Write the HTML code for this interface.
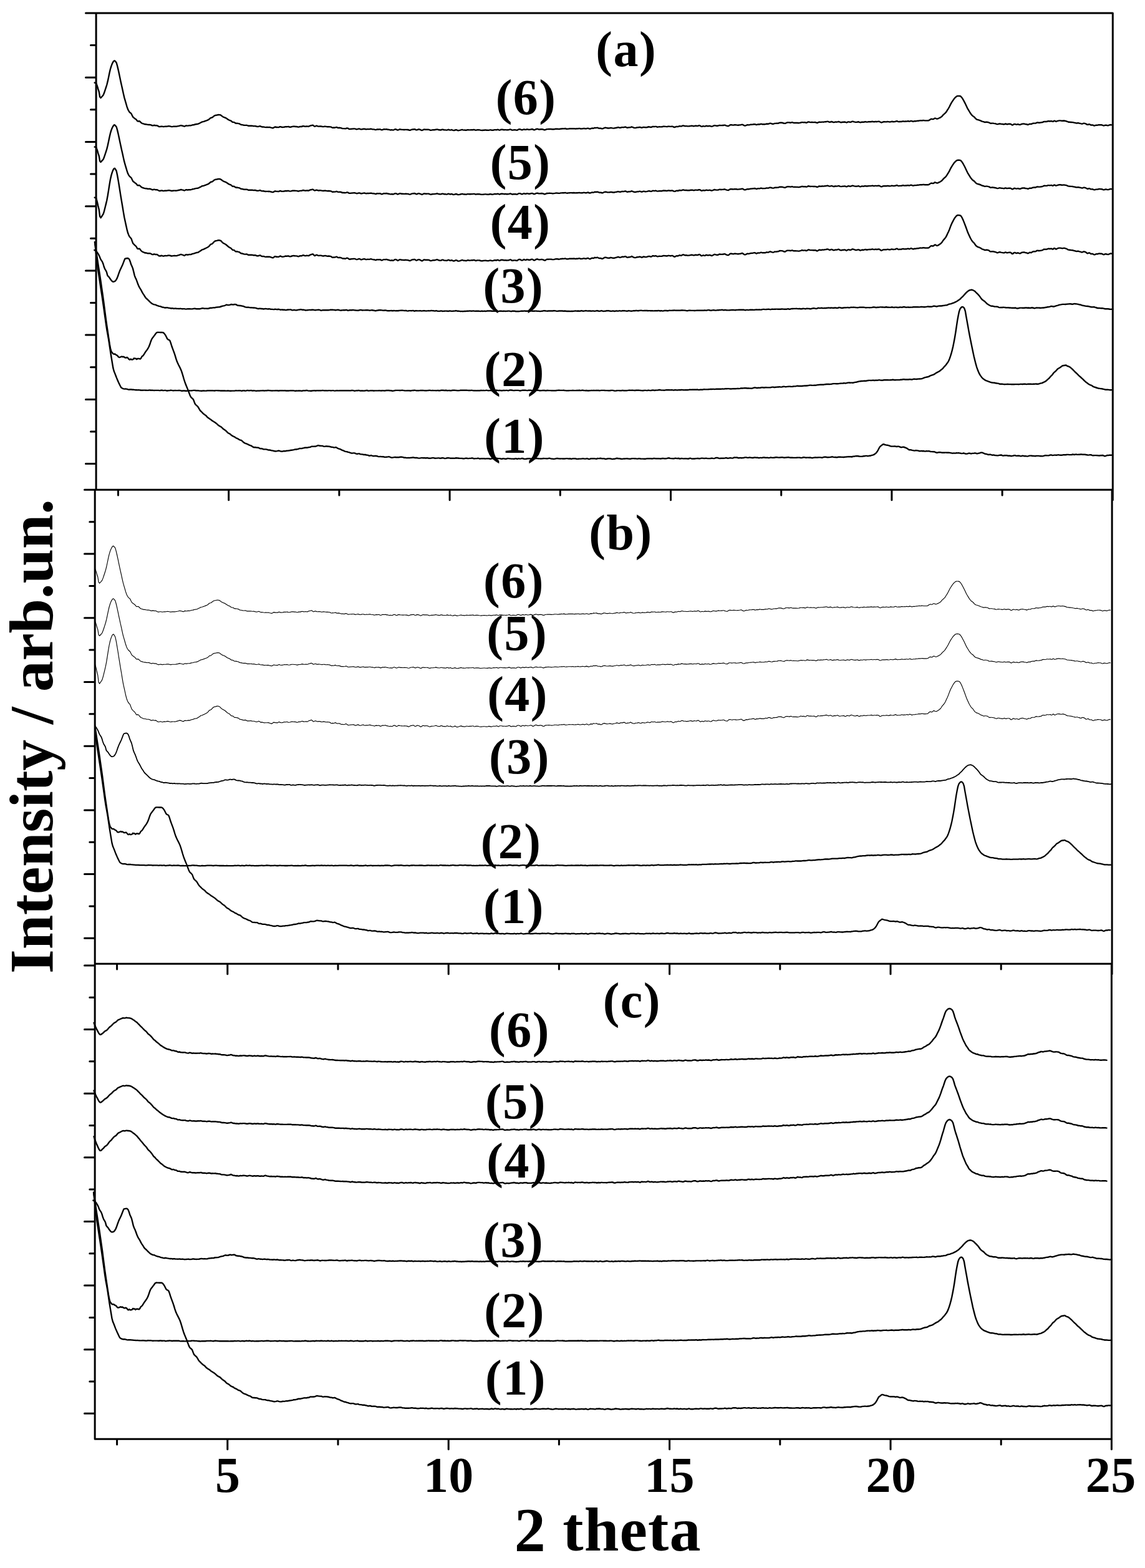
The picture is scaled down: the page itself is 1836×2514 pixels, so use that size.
<!DOCTYPE html>
<html lang="en"><head><meta charset="utf-8"><title>Intensity / arb.un. - 2 theta</title>
<style>html,body{margin:0;padding:0;background:#fff}body{width:1836px;height:2514px;overflow:hidden}svg{display:block}text{font-family:"Liberation Serif",serif;font-weight:bold;fill:#000;text-anchor:middle}.l{font-size:80px;letter-spacing:1.5px}.t{font-size:80px;letter-spacing:0.4px}.ax{stroke:#000;stroke-width:3;stroke-linecap:round;fill:none}.c{stroke:#000;fill:none;stroke-linejoin:round;stroke-linecap:round}</style></head><body>
<svg width="1836" height="2514" viewBox="0 0 1836 2514">
<rect width="1836" height="2514" fill="#fff"/>
<path class="ax" d="M154.1 21.0V785.3M137.5 21.0H1784.3M1784.3 21.0V801.7M135.5 785.3H1784.3M152.2 785.3V1545.3M1783.1 785.3V1561.7M152.2 1545.3H1783.1M152.15 1545.3V2307.3M1782.4 1545.3V2323.7M152.15 2307.3H1782.4M145.5 72.6H154.1M137.5 124.2H154.1M145.5 175.8H154.1M137.5 227.5H154.1M145.5 279.1H154.1M137.5 330.7H154.1M145.5 382.3H154.1M137.5 433.9H154.1M145.5 485.5H154.1M137.5 537.1H154.1M145.5 588.8H154.1M137.5 640.4H154.1M145.5 692.0H154.1M137.5 743.6H154.1M143.8 836.7H152.2M135.5 888.0H152.2M143.8 939.4H152.2M135.5 990.7H152.2M143.8 1042.1H152.2M135.5 1093.5H152.2M143.8 1144.8H152.2M135.5 1196.2H152.2M143.8 1247.5H152.2M135.5 1298.9H152.2M143.8 1350.3H152.2M135.5 1401.6H152.2M143.8 1453.0H152.2M135.5 1504.3H152.2M135.5 1547.9H152.15M143.8 1599.2H152.15M135.5 1650.5H152.15M143.8 1701.8H152.15M135.5 1753.2H152.15M143.8 1804.5H152.15M135.5 1855.8H152.15M143.8 1907.1H152.15M135.5 1958.4H152.15M143.8 2009.7H152.15M135.5 2061.1H152.15M143.8 2112.4H152.15M135.5 2163.7H152.15M143.8 2215.0H152.15M135.5 2266.3H152.15M189.5 785.3v8.7M366.7 785.3v16.4M543.9 785.3v8.7M721.1 785.3v16.4M898.3 785.3v8.7M1075.5 785.3v16.4M1252.7 785.3v8.7M1429.9 785.3v16.4M1607.1 785.3v8.7M187.6 1545.3v8.7M364.8 1545.3v16.4M542.0 1545.3v8.7M719.2 1545.3v16.4M896.4 1545.3v8.7M1073.6 1545.3v16.4M1250.8 1545.3v8.7M1428.0 1545.3v16.4M1605.2 1545.3v8.7M187.6 2307.3v8.7M364.8 2307.3v16.4M542.0 2307.3v8.7M719.2 2307.3v16.4M896.4 2307.3v8.7M1073.6 2307.3v16.4M1250.8 2307.3v8.7M1428.0 2307.3v16.4M1605.2 2307.3v8.7"/>
<g class="c" stroke-width="2.4">
<path d="M151.7 132.6l1.4 .4 1.4 .9 1.4 3.9 1.4 4.8 1.4 4.3 1.4 8.4 1.4 1.7 1.4-1.5 1.4-1.5 1.4-1.7 1.4-3.5 1.4-4.1 1.4-4.3 1.4-4.4 1.4-5.6 1.4-6.5 1.4-6.8 1.4-6.1 1.4-4.7 1.4-3.7 1.4-2.8 1.4-2 1.4-.5 1.4 1.5 1.4 1.8 1.4 4.9 1.4 5.9 1.4 6.4 1.4 6.8 1.4 6.6 1.4 6.3 1.4 6.2 1.4 6.5 1.4 6.1 1.4 4.9 1.4 4.8 1.4 4.8 1.4 4.1 1.4 2.8 1.4 2.1 1.4 1.2 1.4 1.2 1.4 2.9 1.4 2.7 1.4 1.1 1.4 1.1 1.4 .9 1.4 1.3 1.4 1.9 1.4 .4 1.4-.4 1.4 .8 1.4 1.5 1.4 1.1 1.4 .6 1.4 .3 1.4 .6 1.4 .3 1.4 0 1.4 .3 1.4 .3 1.4 .1 1.4-.1 1.4 .2 1.4 .6 1.4 .6 1.4 0 1.4-.5 1.4 .2 1.4 .4 1.4-.2 1.4 .4 1.4 .8 1.4 .7 1.4 0 1.4-.4 1.4-.1 1.4 .3 1.4 .3 1.4-.3 1.4-.2 1.4 .1 1.4-.1 1.4-.3 1.4-.1 1.4 .1 1.4 .3 1.4 .4 1.4 0 1.4-.3 1.4-.1 1.4 0 1.4 .1 1.4-.1 1.4-.3 1.4-.3 1.4-.2 1.4-.5 1.4-.3 1.4 .4 1.4 .2 1.4 .6 1.4 .3 1.4-.8 1.4-.5 1.4 .3 1.4 0 1.4-.3 1.4-.1 1.4 .1 1.4-.4 1.4-.5 1.4-.2 1.4-.2 1.4-.5 1.4-.3 1.4-.2 1.4-.1 1.4-.5 1.4-.7 1.4-.7 1.4-.7 1.4-.9 1.4-.2 1.4-.3 1.4-.6 1.4-.4 1.4-.6 1.4-.5 1.4-.6 1.4-.8 1.4-1.3 1.4-1.2 1.4-.2 1.4-.5 1.4-1.3 1.4-1.1 1.4-.7 1.4-.4 1.4-.1 1.4-.4 1.4-.2 1.4 .1 1.4 .2 1.4 .8 1.4 1.2 1.4 .9 1.4 .7 1.4 .6 1.4 .4 1.4 .9 1.4 .9 1.4 1 1.4 .8 1.4 .6 1.4 .4 1.4 1.2 1.4 1.1 1.4 .1 1.4 .2 1.4 1.1 1.4 .6 1.4-.2 1.4 .3 1.4 .3 1.4 .3 1.4 .9 1.4 .6 1.4 .1 1.4 .3 1.4 .4 1.4 .1 1.4 0 1.4-.1 1.4 .3 1.4 .7 1.4 0 1.4 0 1.4 0 1.4-.1 1.4 .2 1.4 .3 1.4-.1 1.4 0 1.4 .4 1.4 .4 1.4 .1 1.4-.3 1.4-.4 1.4 .1 1.4 .8 1.4 .3 1.4-.1 1.4 .2 1.4 .3 1.4 .2 1.4-.1 1.4 0 1.4 .1 1.4-.2 1.4 .3 1.4 .4 1.4 .3 1.4 .4 1.4-.4 1.4-1.1 1.4-.3 1.4 .5 1.4 0 1.4 .1 1.4 0 1.4-.8 1.4-.2 1.4 .7 1.4 .2 1.4-.1 1.4-.1 1.4-.5 1.4-.2 1.4 .2 1.4-.2 1.4-.1 1.4 .5 1.4 .2 1.4-.2 1.4-.4 1.4-.3 1.4-.1 1.4 .1 1.4 .2 1.4 0 1.4 .2 1.4 .4 1.4 0 1.4-.6 1.4 0 1.4 0 1.4-.5 1.4-.4 1.4 .3 1.4 .4 1.4-.1 1.4-.2 1.4 .1 1.4 .2 1.4-.6 1.4-.7 1.4-.1 1.4-.5 1.4-.2 1.4 1.1 1.4 .9 1.4-.4 1.4-.6 1.4 .3 1.4 .6 1.4 0 1.4-.2 1.4 .1 1.4 .2 1.4 .3 1.4 .1 1.4-.3 1.4-.1 1.4 .2 1.4 .3 1.4 .1 1.4-.2 1.4 .2 1.4 .1 1.4 .3 1.4 .9 1.4 .3 1.4-.4 1.4 .2 1.4-.3 1.4-.5 1.4 .6 1.4 .5 1.4 0 1.4-.2 1.4 .3 1.4 .5 1.4 .5 1.4 0 1.4 0 1.4 .2 1.4-.3 1.4-.5 1.4 .1 1.4 1 1.4 .4 1.4-.1 1.4-.2 1.4-.1 1.4-.1 1.4-.1 1.4 0 1.4 .4 1.4 .5 1.4-.2 1.4-.4 1.4-.3 1.4 .4 1.4 .6 1.4 0 1.4-.4 1.4-.3 1.4-.1 1.4 .4 1.4 .4 1.4-.3 1.4-.1 1.4 .1 1.4-.1 1.4-.3 1.4 .1 1.4 .4 1.4 .2 1.4 0 1.4 .4 1.4 .3 1.4-.5 1.4-.3 1.4 .2 1.4-.1 1.4-.1 1.4 .6 1.4 .5 1.4-.5 1.4-.6 1.4 0 1.4 .1 1.4-.3 1.4 .2 1.4 .5 1.4 0 1.4 .4 1.4 .3 1.4-.3 1.4 .2 1.4 .2 1.4-.6 1.4-.7 1.4-.1 1.4 .7 1.4 .7 1.4-.3 1.4-.8 1.4-.2 1.4 .3 1.4 .3 1.4 0 1.4 .1 1.4 0 1.4-.1 1.4 0 1.4 .1 1.4 0 1.4 .5 1.4 .3 1.4-.3 1.4-.7 1.4-.3 1.4 0 1.4-.4 1.4 .2 1.4 .9 1.4 .2 1.4-.6 1.4-.5 1.4 .2 1.4 .4 1.4 .7 1.4 .4 1.4-.6 1.4-.8 1.4-.1 1.4 .3 1.4 0 1.4-.1 1.4 0 1.4 .2 1.4 .6 1.4 .4 1.4-.3 1.4-.3 1.4-.1 1.4 0 1.4-.2 1.4-.2 1.4-.4 1.4 .2 1.4 .6 1.4 .1 1.4 .2 1.4-.2 1.4-.6 1.4 0 1.4 .6 1.4 .1 1.4 0 1.4 .3 1.4-.3 1.4-.6 1.4 .2 1.4 .6 1.4-.2 1.4-.4 1.4 .7 1.4 .4 1.4-.1 1.4-.5 1.4-.4 1.4 .4 1.4 .7 1.4 0 1.4-.3 1.4-.3 1.4-.4 1.4-.3 1.4 .4 1.4 .3 1.4-.1 1.4 .3 1.4-.1 1.4-.5 1.4 0 1.4 .2 1.4 0 1.4-.1 1.4-.1 1.4 0 1.4-.2 1.4 0 1.4 .6 1.4 .1 1.4-.4 1.4 0 1.4 0 1.4 .1 1.4 .3 1.4 .2 1.4 .1 1.4-.2 1.4-.1 1.4-.2 1.4 0 1.4 .2 1.4 .1 1.4 .1 1.4-.3 1.4-.3 1.4 .1 1.4 .4 1.4 0 1.4-.3 1.4-.4 1.4 0 1.4 .2 1.4-.3 1.4-.3 1.4 .7 1.4 .3 1.4-.7 1.4-.3 1.4 .1 1.4 .2 1.4 .3 1.4-.2 1.4 0 1.4 .3 1.4-.1 1.4-.1 1.4-.3 1.4-.5 1.4 .4 1.4 .8 1.4 0 1.4-.3 1.4 0 1.4 0 1.4 .3 1.4 .1 1.4-.8 1.4-.7 1.4 0 1.4 .4 1.4 .7 1.4 0 1.4-.7 1.4-.3 1.4 .6 1.4 0 1.4-.6 1.4 .1 1.4 .4 1.4 .1 1.4-.3 1.4-.3 1.4-.3 1.4 .4 1.4 .8 1.4 0 1.4-.7 1.4-.5 1.4-.3 1.4 .4 1.4 .4 1.4 0 1.4-.2 1.4-.2 1.4 .2 1.4 .4 1.4 .6 1.4 0 1.4-.7 1.4-.5 1.4 0 1.4-.1 1.4-.1 1.4 .1 1.4 0 1.4 .3 1.4 0 1.4-.1 1.4-.2 1.4-.3 1.4-.1 1.4 .1 1.4 .2 1.4 .1 1.4-.2 1.4-.3 1.4 0 1.4-.2 1.4 .1 1.4-.1 1.4-.3 1.4 .5 1.4 .3 1.4-.2 1.4-.1 1.4-.2 1.4-.1 1.4 0 1.4 .1 1.4 0 1.4-.2 1.4 .3 1.4 .1 1.4-.2 1.4 0 1.4-.1 1.4-.3 1.4 .3 1.4 .3 1.4-.1 1.4-.1 1.4-.4 1.4 .1 1.4 .3 1.4 .1 1.4-.5 1.4-.3 1.4 .5 1.4 .5 1.4-.1 1.4-.7 1.4-.3 1.4 .3 1.4-.4 1.4-.6 1.4 .3 1.4-.2 1.4-.1 1.4 .5 1.4 .5 1.4-.1 1.4 .1 1.4 .6 1.4-.1 1.4-.7 1.4-.6 1.4-.3 1.4 .2 1.4 .4 1.4 .2 1.4 0 1.4-.1 1.4-.4 1.4 .1 1.4 .3 1.4 .2 1.4 0 1.4-.4 1.4-.2 1.4-.2 1.4-.5 1.4-.1 1.4 .5 1.4 .2 1.4-.4 1.4-.4 1.4 0 1.4 .1 1.4-.4 1.4-.3 1.4 .7 1.4 .6 1.4-.2 1.4-.3 1.4 .1 1.4-.3 1.4-.7 1.4 .4 1.4 .7 1.4 .4 1.4 .2 1.4-.2 1.4-.4 1.4-.1 1.4-.1 1.4-.4 1.4 .1 1.4 .6 1.4 .1 1.4-.6 1.4-.3 1.4 .3 1.4 .2 1.4-.1 1.4-.2 1.4-.5 1.4-.2 1.4 .3 1.4 .4 1.4-.2 1.4-.8 1.4-.1 1.4 .3 1.4-.3 1.4 0 1.4 .6 1.4 .2 1.4-.3 1.4-.1 1.4 .1 1.4 0 1.4-.1 1.4-.5 1.4-.2 1.4 .2 1.4 .1 1.4 .2 1.4-.1 1.4-.4 1.4 0 1.4 .3 1.4 0 1.4-.3 1.4 .1 1.4 .8 1.4 .5 1.4-.2 1.4-.8 1.4-.1 1.4 .2 1.4-.5 1.4-.5 1.4 .3 1.4 .1 1.4-.6 1.4-.5 1.4 .3 1.4 .5 1.4-.1 1.4 0 1.4 .3 1.4 0 1.4-.1 1.4-.2 1.4-.2 1.4-.2 1.4 .2 1.4 .4 1.4-.2 1.4-.4 1.4 0 1.4 .3 1.4-.1 1.4-.6 1.4-.1 1.4 .8 1.4 .9 1.4-.2 1.4-.6 1.4 .3 1.4 .2 1.4-.6 1.4-.2 1.4 .4 1.4 0 1.4-.3 1.4 .1 1.4 .6 1.4 .1 1.4-.4 1.4-.7 1.4-.5 1.4 .3 1.4 .3 1.4 0 1.4 0 1.4-.5 1.4-.4 1.4 .3 1.4 0 1.4-.1 1.4 0 1.4-.4 1.4 0 1.4 .7 1.4 .4 1.4 .3 1.4 .1 1.4-.9 1.4-.9 1.4-.1 1.4 .1 1.4 .3 1.4-.1 1.4-.3 1.4 .1 1.4 .1 1.4 .2 1.4 .1 1.4-.2 1.4-.1 1.4-.2 1.4-.3 1.4-.2 1.4 .7 1.4 .9 1.4 .2 1.4-.4 1.4-.6 1.4-.3 1.4 .2 1.4-.2 1.4-.4 1.4-.1 1.4-.1 1.4-.1 1.4-.2 1.4-.2 1.4 .4 1.4 .6 1.4-.4 1.4-.4 1.4 .2 1.4-.2 1.4-.5 1.4 .1 1.4 .4 1.4-.1 1.4 0 1.4 0 1.4-.4 1.4-.3 1.4 .2 1.4-.1 1.4-.7 1.4-.2 1.4 .4 1.4 .4 1.4 .3 1.4-.4 1.4-.5 1.4 0 1.4-.1 1.4-.1 1.4 0 1.4-.6 1.4-.4 1.4 .1 1.4 0 1.4 .2 1.4 .5 1.4 .3 1.4 .1 1.4-.7 1.4-.7 1.4-.1 1.4 0 1.4 .1 1.4 .3 1.4-.4 1.4-.2 1.4 .5 1.4 .3 1.4-.1 1.4 .1 1.4 0 1.4 0 1.4 .2 1.4-.1 1.4-.2 1.4-.4 1.4-.4 1.4 0 1.4 .3 1.4-.2 1.4 .1 1.4 .5 1.4-.3 1.4-.9 1.4-.2 1.4 .5 1.4 .2 1.4-.1 1.4 0 1.4 .1 1.4 0 1.4-.1 1.4 .2 1.4 .7 1.4 .1 1.4-.9 1.4-.5 1.4 .2 1.4 .1 1.4-.3 1.4 0 1.4 .1 1.4-.3 1.4-.1 1.4-.1 1.4-.4 1.4 .1 1.4 .6 1.4 .3 1.4-.3 1.4-.5 1.4 .4 1.4 .7 1.4 0 1.4-.5 1.4-.1 1.4 .2 1.4-.3 1.4-.4 1.4 .4 1.4 .6 1.4 .2 1.4-.2 1.4-.2 1.4-.1 1.4-.2 1.4 .3 1.4 .7 1.4-.4 1.4-.7 1.4 0 1.4 .4 1.4 .1 1.4-.7 1.4-.5 1.4 .3 1.4 .4 1.4 .3 1.4 .2 1.4 0 1.4-.4 1.4-.2 1.4 .6 1.4 .5 1.4-.4 1.4-.4 1.4 .1 1.4 .1 1.4-.5 1.4-.1 1.4 .4 1.4 0 1.4-.3 1.4-.1 1.4 0 1.4 0 1.4-.2 1.4-.2 1.4 .4 1.4 .1 1.4-.3 1.4 0 1.4 .2 1.4-.3 1.4-.1 1.4 .2 1.4 .8 1.4 .7 1.4-.3 1.4-.7 1.4-.2 1.4 0 1.4 .1 1.4 0 1.4-.4 1.4 .1 1.4 .3 1.4 .1 1.4-.3 1.4-.4 1.4 .2 1.4 .2 1.4-.1 1.4-.1 1.4-.6 1.4-.3 1.4 .8 1.4 .3 1.4-.2 1.4 0 1.4 0 1.4-.4 1.4-.3 1.4 .3 1.4 .1 1.4-.2 1.4 .1 1.4-.3 1.4-.1 1.4 .5 1.4-.4 1.4-.5 1.4 .3 1.4 .6 1.4 0 1.4-.5 1.4 0 1.4 0 1.4-.3 1.4-.1 1.4-.1 1.4-.3 1.4-.1 1.4 .1 1.4-.1 1.4-.3 1.4 .1 1.4 .3 1.4 0 1.4 0 1.4 0 1.4-.1 1.4-.6 1.4-1.1 1.4-.7 1.4-.1 1.4 .4 1.4-.3 1.4-1.3 1.4 0 1.4 .7 1.4 .3 1.4-.4 1.4-.7 1.4-.6 1.4-.8 1.4-.9 1.4-1.4 1.4-1.7 1.4-1.3 1.4-1.2 1.4-1.4 1.4-2 1.4-2.3 1.4-2.1 1.4-2.6 1.4-2.8 1.4-2.7 1.4-2.3 1.4-2.1 1.4-2.1 1.4-1.8 1.4-1.4 1.4-1.2 1.4-.8 1.4-.1 1.4 0 1.4 .1 1.4 .5 1.4 1.5 1.4 1.9 1.4 2.4 1.4 2.6 1.4 2.7 1.4 2.9 1.4 3 1.4 2.9 1.4 2.3 1.4 2.3 1.4 2.3 1.4 1.9 1.4 1.7 1.4 1.3 1.4 .8 1.4 1.4 1.4 1.6 1.4 1.2 1.4 .7 1.4 .3 1.4 .4 1.4 .5 1.4 .5 1.4 .8 1.4 .5 1.4 .2 1.4 .7 1.4 .2 1.4-.3 1.4 0 1.4 .3 1.4 .2 1.4 .8 1.4 .8 1.4-.1 1.4-.1 1.4 0 1.4 .3 1.4 .2 1.4 .2 1.4 .5 1.4 .4 1.4-.3 1.4-.4 1.4-.1 1.4 .3 1.4 .2 1.4 .1 1.4 .3 1.4-.1 1.4-.7 1.4 .2 1.4 .6 1.4-.3 1.4-.2 1.4 0 1.4 0 1.4 .8 1.4 .9 1.4-.4 1.4-1 1.4-.2 1.4 .5 1.4 .3 1.4-.4 1.4 0 1.4 .6 1.4 .1 1.4-.6 1.4-.6 1.4-.2 1.4-.1 1.4 .1 1.4 .5 1.4 .1 1.4 .3 1.4 .5 1.4-.6 1.4-.7 1.4 .2 1.4 0 1.4-.8 1.4-.4 1.4-.1 1.4 0 1.4 0 1.4-.9 1.4-.3 1.4 .3 1.4 0 1.4 0 1.4-.3 1.4-.1 1.4-.4 1.4-.8 1.4-.2 1.4 .1 1.4 0 1.4-.2 1.4-.6 1.4 0 1.4 .3 1.4-.3 1.4-.1 1.4 .7 1.4-.1 1.4-1.1 1.4 .4 1.4 .8 1.4-.3 1.4-.6 1.4-.3 1.4-.2 1.4 0 1.4 .2 1.4 .2 1.4-.1 1.4-.2 1.4 .2 1.4 .3 1.4 .3 1.4 .5 1.4 .7 1.4 .2 1.4 .1 1.4 .2 1.4 0 1.4 .1 1.4 .3 1.4 .3 1.4 .2 1.4 .5 1.4 .1 1.4-.3 1.4 .1 1.4 .4 1.4 .2 1.4 .4 1.4 .3 1.4-.4 1.4-.5 1.4 .2 1.4 .4 1.4 .8 1.4 .8 1.4-.1 1.4-.6 1.4 .4 1.4 .9 1.4 0 1.4-.1 1.4 .6 1.4 .5 1.4-.3 1.4-.5 1.4 0 1.4-.1 1.4-.4 1.4-.1 1.4 .1 1.4 .1 1.4 .2 1.4 .7 1.4 .3 1.4-.6 1.4-.3 1.4 .2 1.4 .4 1.4 0 1.4-.5 1.4-.5 1.4-.2 .8 .3"/>
<path d="M151.7 235.5l1.4 .4 1.4 .9 1.4 3.9 1.4 4.8 1.4 4.3 1.4 8.4 1.4 1.7 1.4-1.5 1.4-1.5 1.4-1.7 1.4-3.5 1.4-4.1 1.4-4.3 1.4-4.4 1.4-5.6 1.4-6.5 1.4-6.8 1.4-6.1 1.4-4.7 1.4-3.7 1.4-2.8 1.4-2 1.4-.5 1.4 1.5 1.4 1.8 1.4 4.9 1.4 5.9 1.4 6.4 1.4 6.8 1.4 6.6 1.4 6.3 1.4 6.2 1.4 6.5 1.4 6.1 1.4 4.9 1.4 4.8 1.4 4.8 1.4 4.1 1.4 2.8 1.4 2.1 1.4 1.2 1.4 1.2 1.4 2.9 1.4 2.7 1.4 1.1 1.4 1.1 1.4 .9 1.4 1.3 1.4 1.9 1.4 .4 1.4-.4 1.4 .8 1.4 1.5 1.4 1.1 1.4 .6 1.4 .3 1.4 .6 1.4 .3 1.4 0 1.4 .3 1.4 .3 1.4 .1 1.4-.1 1.4 .2 1.4 .6 1.4 .6 1.4 0 1.4-.5 1.4 .2 1.4 .4 1.4-.2 1.4 .4 1.4 .8 1.4 .7 1.4 0 1.4-.4 1.4-.1 1.4 .3 1.4 .3 1.4-.3 1.4-.2 1.4 .1 1.4-.1 1.4-.3 1.4-.1 1.4 .1 1.4 .3 1.4 .4 1.4 0 1.4-.3 1.4-.1 1.4 0 1.4 .1 1.4-.1 1.4-.3 1.4-.3 1.4-.2 1.4-.5 1.4-.3 1.4 .4 1.4 .2 1.4 .6 1.4 .3 1.4-.8 1.4-.5 1.4 .3 1.4 0 1.4-.3 1.4-.1 1.4 .1 1.4-.4 1.4-.5 1.4-.2 1.4-.2 1.4-.5 1.4-.3 1.4-.2 1.4-.1 1.4-.5 1.4-.7 1.4-.7 1.4-.7 1.4-.9 1.4-.2 1.4-.3 1.4-.6 1.4-.4 1.4-.6 1.4-.5 1.4-.6 1.4-.8 1.4-1.3 1.4-1.2 1.4-.2 1.4-.5 1.4-1.3 1.4-1.1 1.4-.7 1.4-.4 1.4-.1 1.4-.4 1.4-.2 1.4 .1 1.4 .2 1.4 .8 1.4 1.2 1.4 .9 1.4 .7 1.4 .6 1.4 .4 1.4 .9 1.4 .9 1.4 1 1.4 .8 1.4 .6 1.4 .4 1.4 1.2 1.4 1.1 1.4 .1 1.4 .2 1.4 1.1 1.4 .6 1.4-.2 1.4 .3 1.4 .3 1.4 .3 1.4 .9 1.4 .6 1.4 .1 1.4 .3 1.4 .4 1.4 .1 1.4 0 1.4-.1 1.4 .3 1.4 .7 1.4 0 1.4 0 1.4 0 1.4-.1 1.4 .2 1.4 .3 1.4-.1 1.4 0 1.4 .4 1.4 .4 1.4 .1 1.4-.3 1.4-.4 1.4 .1 1.4 .8 1.4 .3 1.4-.1 1.4 .2 1.4 .3 1.4 .2 1.4-.1 1.4 0 1.4 .1 1.4-.2 1.4 .3 1.4 .4 1.4 .3 1.4 .4 1.4-.4 1.4-1.1 1.4-.3 1.4 .5 1.4 0 1.4 .1 1.4 0 1.4-.8 1.4-.2 1.4 .7 1.4 .2 1.4-.1 1.4-.1 1.4-.5 1.4-.2 1.4 .2 1.4-.2 1.4-.1 1.4 .5 1.4 .2 1.4-.2 1.4-.4 1.4-.3 1.4-.1 1.4 .1 1.4 .2 1.4 0 1.4 .2 1.4 .4 1.4 0 1.4-.6 1.4 0 1.4 0 1.4-.5 1.4-.4 1.4 .3 1.4 .4 1.4-.1 1.4-.2 1.4 .1 1.4 .2 1.4-.6 1.4-.7 1.4-.1 1.4-.5 1.4-.2 1.4 1.1 1.4 .9 1.4-.4 1.4-.6 1.4 .3 1.4 .6 1.4 0 1.4-.2 1.4 .1 1.4 .2 1.4 .3 1.4 .1 1.4-.3 1.4-.1 1.4 .2 1.4 .3 1.4 .1 1.4-.2 1.4 .2 1.4 .1 1.4 .3 1.4 .9 1.4 .3 1.4-.4 1.4 .2 1.4-.3 1.4-.5 1.4 .6 1.4 .5 1.4 0 1.4-.2 1.4 .3 1.4 .5 1.4 .5 1.4 0 1.4 0 1.4 .2 1.4-.3 1.4-.5 1.4 .1 1.4 1 1.4 .4 1.4-.1 1.4-.2 1.4-.1 1.4-.1 1.4-.1 1.4 0 1.4 .4 1.4 .5 1.4-.2 1.4-.4 1.4-.3 1.4 .4 1.4 .6 1.4 0 1.4-.4 1.4-.3 1.4-.1 1.4 .4 1.4 .4 1.4-.3 1.4-.1 1.4 .1 1.4-.1 1.4-.3 1.4 .1 1.4 .4 1.4 .2 1.4 0 1.4 .4 1.4 .3 1.4-.5 1.4-.3 1.4 .2 1.4-.1 1.4-.1 1.4 .6 1.4 .5 1.4-.5 1.4-.6 1.4 0 1.4 .1 1.4-.3 1.4 .2 1.4 .5 1.4 0 1.4 .4 1.4 .3 1.4-.3 1.4 .2 1.4 .2 1.4-.6 1.4-.7 1.4-.1 1.4 .7 1.4 .7 1.4-.3 1.4-.8 1.4-.2 1.4 .3 1.4 .3 1.4 0 1.4 .1 1.4 0 1.4-.1 1.4 0 1.4 .1 1.4 0 1.4 .5 1.4 .3 1.4-.3 1.4-.7 1.4-.3 1.4 0 1.4-.4 1.4 .2 1.4 .9 1.4 .2 1.4-.6 1.4-.5 1.4 .2 1.4 .4 1.4 .7 1.4 .4 1.4-.6 1.4-.8 1.4-.1 1.4 .3 1.4 0 1.4-.1 1.4 0 1.4 .2 1.4 .6 1.4 .4 1.4-.3 1.4-.3 1.4-.1 1.4 0 1.4-.2 1.4-.2 1.4-.4 1.4 .2 1.4 .6 1.4 .1 1.4 .2 1.4-.2 1.4-.6 1.4 0 1.4 .6 1.4 .1 1.4 0 1.4 .3 1.4-.3 1.4-.6 1.4 .2 1.4 .6 1.4-.2 1.4-.4 1.4 .7 1.4 .4 1.4-.1 1.4-.5 1.4-.4 1.4 .4 1.4 .7 1.4 0 1.4-.3 1.4-.3 1.4-.4 1.4-.3 1.4 .4 1.4 .3 1.4-.1 1.4 .3 1.4-.1 1.4-.5 1.4 0 1.4 .2 1.4 0 1.4-.1 1.4-.1 1.4 0 1.4-.2 1.4 0 1.4 .6 1.4 .1 1.4-.4 1.4 0 1.4 0 1.4 .1 1.4 .3 1.4 .2 1.4 .1 1.4-.2 1.4-.1 1.4-.2 1.4 0 1.4 .2 1.4 .1 1.4 .1 1.4-.3 1.4-.3 1.4 .1 1.4 .4 1.4 0 1.4-.3 1.4-.4 1.4 0 1.4 .2 1.4-.3 1.4-.3 1.4 .7 1.4 .3 1.4-.7 1.4-.3 1.4 .1 1.4 .2 1.4 .3 1.4-.2 1.4 0 1.4 .3 1.4-.1 1.4-.1 1.4-.3 1.4-.5 1.4 .4 1.4 .8 1.4 0 1.4-.3 1.4 0 1.4 0 1.4 .3 1.4 .1 1.4-.8 1.4-.7 1.4 0 1.4 .4 1.4 .7 1.4 0 1.4-.7 1.4-.3 1.4 .6 1.4 0 1.4-.6 1.4 .1 1.4 .4 1.4 .1 1.4-.3 1.4-.3 1.4-.3 1.4 .4 1.4 .8 1.4 0 1.4-.7 1.4-.5 1.4-.3 1.4 .4 1.4 .4 1.4 0 1.4-.2 1.4-.2 1.4 .2 1.4 .4 1.4 .6 1.4 0 1.4-.7 1.4-.5 1.4 0 1.4-.1 1.4-.1 1.4 .1 1.4 0 1.4 .3 1.4 0 1.4-.1 1.4-.2 1.4-.3 1.4-.1 1.4 .1 1.4 .2 1.4 .1 1.4-.2 1.4-.3 1.4 0 1.4-.2 1.4 .1 1.4-.1 1.4-.3 1.4 .5 1.4 .3 1.4-.2 1.4-.1 1.4-.2 1.4-.1 1.4 0 1.4 .1 1.4 0 1.4-.2 1.4 .3 1.4 .1 1.4-.2 1.4 0 1.4-.1 1.4-.3 1.4 .3 1.4 .3 1.4-.1 1.4-.1 1.4-.4 1.4 .1 1.4 .3 1.4 .1 1.4-.5 1.4-.3 1.4 .5 1.4 .5 1.4-.1 1.4-.7 1.4-.3 1.4 .3 1.4-.4 1.4-.6 1.4 .3 1.4-.2 1.4-.1 1.4 .5 1.4 .5 1.4-.1 1.4 .1 1.4 .6 1.4-.1 1.4-.7 1.4-.6 1.4-.3 1.4 .2 1.4 .4 1.4 .2 1.4 0 1.4-.1 1.4-.4 1.4 .1 1.4 .3 1.4 .2 1.4 0 1.4-.4 1.4-.2 1.4-.2 1.4-.5 1.4-.1 1.4 .5 1.4 .2 1.4-.4 1.4-.4 1.4 0 1.4 .1 1.4-.4 1.4-.3 1.4 .7 1.4 .6 1.4-.2 1.4-.3 1.4 .1 1.4-.3 1.4-.7 1.4 .4 1.4 .7 1.4 .4 1.4 .2 1.4-.2 1.4-.4 1.4-.1 1.4-.1 1.4-.4 1.4 .1 1.4 .6 1.4 .1 1.4-.6 1.4-.3 1.4 .3 1.4 .2 1.4-.1 1.4-.2 1.4-.5 1.4-.2 1.4 .3 1.4 .4 1.4-.2 1.4-.8 1.4-.1 1.4 .3 1.4-.3 1.4 0 1.4 .6 1.4 .2 1.4-.3 1.4-.1 1.4 .1 1.4 0 1.4-.1 1.4-.5 1.4-.2 1.4 .2 1.4 .1 1.4 .2 1.4-.1 1.4-.4 1.4 0 1.4 .3 1.4 0 1.4-.3 1.4 .1 1.4 .8 1.4 .5 1.4-.2 1.4-.8 1.4-.1 1.4 .2 1.4-.5 1.4-.5 1.4 .3 1.4 .1 1.4-.6 1.4-.5 1.4 .3 1.4 .5 1.4-.1 1.4 0 1.4 .3 1.4 0 1.4-.1 1.4-.2 1.4-.2 1.4-.2 1.4 .2 1.4 .4 1.4-.2 1.4-.4 1.4 0 1.4 .3 1.4-.1 1.4-.6 1.4-.1 1.4 .8 1.4 .9 1.4-.2 1.4-.6 1.4 .3 1.4 .2 1.4-.6 1.4-.2 1.4 .4 1.4 0 1.4-.3 1.4 .1 1.4 .6 1.4 .1 1.4-.4 1.4-.7 1.4-.5 1.4 .3 1.4 .3 1.4 0 1.4 0 1.4-.5 1.4-.4 1.4 .3 1.4 0 1.4-.1 1.4 0 1.4-.4 1.4 0 1.4 .7 1.4 .4 1.4 .3 1.4 .1 1.4-.9 1.4-.9 1.4-.1 1.4 .1 1.4 .3 1.4-.1 1.4-.3 1.4 .1 1.4 .1 1.4 .2 1.4 .1 1.4-.2 1.4-.1 1.4-.2 1.4-.3 1.4-.2 1.4 .7 1.4 .9 1.4 .2 1.4-.4 1.4-.6 1.4-.3 1.4 .2 1.4-.2 1.4-.4 1.4-.1 1.4-.1 1.4-.1 1.4-.2 1.4-.2 1.4 .4 1.4 .6 1.4-.4 1.4-.4 1.4 .2 1.4-.2 1.4-.5 1.4 .1 1.4 .4 1.4-.1 1.4 0 1.4 0 1.4-.4 1.4-.3 1.4 .2 1.4-.1 1.4-.7 1.4-.2 1.4 .4 1.4 .4 1.4 .3 1.4-.4 1.4-.5 1.4 0 1.4-.1 1.4-.1 1.4 0 1.4-.6 1.4-.4 1.4 .1 1.4 0 1.4 .2 1.4 .5 1.4 .3 1.4 .1 1.4-.7 1.4-.7 1.4-.1 1.4 0 1.4 .1 1.4 .3 1.4-.4 1.4-.2 1.4 .5 1.4 .3 1.4-.1 1.4 .1 1.4 0 1.4 0 1.4 .2 1.4-.1 1.4-.2 1.4-.4 1.4-.4 1.4 0 1.4 .3 1.4-.2 1.4 .1 1.4 .5 1.4-.3 1.4-.9 1.4-.2 1.4 .5 1.4 .2 1.4-.1 1.4 0 1.4 .1 1.4 0 1.4-.1 1.4 .2 1.4 .7 1.4 .1 1.4-.9 1.4-.5 1.4 .2 1.4 .1 1.4-.3 1.4 0 1.4 .1 1.4-.3 1.4-.1 1.4-.1 1.4-.4 1.4 .1 1.4 .6 1.4 .3 1.4-.3 1.4-.5 1.4 .4 1.4 .7 1.4 0 1.4-.5 1.4-.1 1.4 .2 1.4-.3 1.4-.4 1.4 .4 1.4 .6 1.4 .2 1.4-.2 1.4-.2 1.4-.1 1.4-.2 1.4 .3 1.4 .7 1.4-.4 1.4-.7 1.4 0 1.4 .4 1.4 .1 1.4-.7 1.4-.5 1.4 .3 1.4 .4 1.4 .3 1.4 .2 1.4 0 1.4-.4 1.4-.2 1.4 .6 1.4 .5 1.4-.4 1.4-.4 1.4 .1 1.4 .1 1.4-.5 1.4-.1 1.4 .4 1.4 0 1.4-.3 1.4-.1 1.4 0 1.4 0 1.4-.2 1.4-.2 1.4 .4 1.4 .1 1.4-.3 1.4 0 1.4 .2 1.4-.3 1.4-.1 1.4 .2 1.4 .8 1.4 .7 1.4-.3 1.4-.7 1.4-.2 1.4 0 1.4 .1 1.4 0 1.4-.4 1.4 .1 1.4 .3 1.4 .1 1.4-.3 1.4-.4 1.4 .2 1.4 .2 1.4-.1 1.4-.1 1.4-.6 1.4-.3 1.4 .8 1.4 .3 1.4-.2 1.4 0 1.4 0 1.4-.4 1.4-.3 1.4 .3 1.4 .1 1.4-.2 1.4 .1 1.4-.3 1.4-.1 1.4 .5 1.4-.4 1.4-.5 1.4 .3 1.4 .6 1.4 0 1.4-.5 1.4 0 1.4 0 1.4-.3 1.4-.1 1.4-.1 1.4-.3 1.4-.1 1.4 .1 1.4-.1 1.4-.3 1.4 .1 1.4 .3 1.4 0 1.4 0 1.4 0 1.4-.1 1.4-.6 1.4-1.1 1.4-.7 1.4-.1 1.4 .4 1.4-.3 1.4-1.3 1.4 0 1.4 .7 1.4 .3 1.4-.4 1.4-.7 1.4-.6 1.4-.8 1.4-.9 1.4-1.4 1.4-1.7 1.4-1.3 1.4-1.2 1.4-1.4 1.4-2 1.4-2.3 1.4-2.1 1.4-2.6 1.4-2.8 1.4-2.7 1.4-2.3 1.4-2.1 1.4-2.1 1.4-1.8 1.4-1.4 1.4-1.2 1.4-.8 1.4-.1 1.4 0 1.4 .1 1.4 .5 1.4 1.5 1.4 1.9 1.4 2.4 1.4 2.6 1.4 2.7 1.4 2.9 1.4 3 1.4 2.9 1.4 2.3 1.4 2.3 1.4 2.3 1.4 1.9 1.4 1.7 1.4 1.3 1.4 .8 1.4 1.4 1.4 1.6 1.4 1.2 1.4 .7 1.4 .3 1.4 .4 1.4 .5 1.4 .5 1.4 .8 1.4 .5 1.4 .2 1.4 .7 1.4 .2 1.4-.3 1.4 0 1.4 .3 1.4 .2 1.4 .8 1.4 .8 1.4-.1 1.4-.1 1.4 0 1.4 .3 1.4 .2 1.4 .2 1.4 .5 1.4 .4 1.4-.3 1.4-.4 1.4-.1 1.4 .3 1.4 .2 1.4 .1 1.4 .3 1.4-.1 1.4-.7 1.4 .2 1.4 .6 1.4-.3 1.4-.2 1.4 0 1.4 0 1.4 .8 1.4 .9 1.4-.4 1.4-1 1.4-.2 1.4 .5 1.4 .3 1.4-.4 1.4 0 1.4 .6 1.4 .1 1.4-.6 1.4-.6 1.4-.2 1.4-.1 1.4 .1 1.4 .5 1.4 .1 1.4 .3 1.4 .5 1.4-.6 1.4-.7 1.4 .2 1.4 0 1.4-.8 1.4-.4 1.4-.1 1.4 0 1.4 0 1.4-.9 1.4-.3 1.4 .3 1.4 0 1.4 0 1.4-.3 1.4-.1 1.4-.4 1.4-.8 1.4-.2 1.4 .1 1.4 0 1.4-.2 1.4-.6 1.4 0 1.4 .3 1.4-.3 1.4-.1 1.4 .7 1.4-.1 1.4-1.1 1.4 .4 1.4 .8 1.4-.3 1.4-.6 1.4-.3 1.4-.2 1.4 0 1.4 .2 1.4 .2 1.4-.1 1.4-.2 1.4 .2 1.4 .3 1.4 .3 1.4 .5 1.4 .7 1.4 .2 1.4 .1 1.4 .2 1.4 0 1.4 .1 1.4 .3 1.4 .3 1.4 .2 1.4 .5 1.4 .1 1.4-.3 1.4 .1 1.4 .4 1.4 .2 1.4 .4 1.4 .3 1.4-.4 1.4-.5 1.4 .2 1.4 .4 1.4 .8 1.4 .8 1.4-.1 1.4-.6 1.4 .4 1.4 .9 1.4 0 1.4-.1 1.4 .6 1.4 .5 1.4-.3 1.4-.5 1.4 0 1.4-.1 1.4-.4 1.4-.1 1.4 .1 1.4 .1 1.4 .2 1.4 .7 1.4 .3 1.4-.6 1.4-.3 1.4 .2 1.4 .4 1.4 0 1.4-.5 1.4-.5 1.4-.2 .8 .3"/>
<path d="M151.7 316.7l1.4 .5 1.4 1.3 1.4 5.2 1.4 6.3 1.4 5.7 1.4 11.2 1.4 2.3 1.4-2 1.4-2 1.4-2.3 1.4-4.6 1.4-5.5 1.4-5.7 1.4-5.9 1.4-7.4 1.4-8.7 1.4-9 1.4-8.1 1.4-6.3 1.4-4.9 1.4-3.7 1.4-2.6 1.4-.7 1.4 1.9 1.4 2.5 1.4 6.5 1.4 7.9 1.4 8.4 1.4 9 1.4 8.9 1.4 8.4 1.4 8.2 1.4 8.6 1.4 8.2 1.4 6.5 1.4 6.4 1.4 6.4 1.4 5.4 1.4 3.7 1.4 2.8 1.4 1.5 1.4 1.7 1.4 3.9 1.4 3.6 1.4 1.5 1.4 1.4 1.4 1.2 1.4 1.7 1.4 2.6 1.4 .5 1.4-.5 1.4 1 1.4 1.9 1.4 1.5 1.4 .8 1.4 .5 1.4 .7 1.4 .5 1.4 0 1.4 .3 1.4 .5 1.4 0 1.4-.1 1.4 .3 1.4 .7 1.4 .9 1.4 0 1.4-.7 1.4 .3 1.4 .5 1.4-.3 1.4 .5 1.4 1.2 1.4 .8 1.4 .1 1.4-.5 1.4-.2 1.4 .5 1.4 .4 1.4-.5 1.4-.3 1.4 .2 1.4-.1 1.4-.4 1.4-.2 1.4 .2 1.4 .4 1.4 .5 1.4-.1 1.4-.3 1.4-.1 1.4 0 1.4 .1 1.4-.1 1.4-.4 1.4-.5 1.4-.2 1.4-.7 1.4-.3 1.4 .5 1.4 .3 1.4 .7 1.4 .4 1.4-1.1 1.4-.6 1.4 .4 1.4 0 1.4-.4 1.4-.2 1.4 .2 1.4-.5 1.4-.7 1.4-.2 1.4-.3 1.4-.6 1.4-.4 1.4-.4 1.4-.1 1.4-.6 1.4-1 1.4-.9 1.4-.9 1.4-1.2 1.4-.3 1.4-.4 1.4-.8 1.4-.6 1.4-.7 1.4-.7 1.4-.8 1.4-1.1 1.4-1.7 1.4-1.6 1.4-.3 1.4-.7 1.4-1.7 1.4-1.4 1.4-1 1.4-.4 1.4-.2 1.4-.5 1.4-.3 1.4 .2 1.4 .3 1.4 1 1.4 1.6 1.4 1.2 1.4 .9 1.4 .7 1.4 .7 1.4 1.1 1.4 1.2 1.4 1.3 1.4 1.1 1.4 .7 1.4 .7 1.4 1.5 1.4 1.5 1.4 .1 1.4 .3 1.4 1.5 1.4 .8 1.4-.3 1.4 .4 1.4 .3 1.4 .5 1.4 1.2 1.4 .8 1.4 .1 1.4 .4 1.4 .5 1.4 .2 1.4 0 1.4-.2 1.4 .5 1.4 .9 1.4 0 1.4 0 1.4 0 1.4-.2 1.4 .3 1.4 .4 1.4-.1 1.4 0 1.4 .5 1.4 .6 1.4 .1 1.4-.4 1.4-.6 1.4 .1 1.4 1.1 1.4 .5 1.4-.2 1.4 .3 1.4 .4 1.4 .3 1.4-.2 1.4 0 1.4 .1 1.4-.2 1.4 .3 1.4 .6 1.4 .4 1.4 .5 1.4-.6 1.4-1.4 1.4-.3 1.4 .6 1.4-.1 1.4 .3 1.4 0 1.4-1.1 1.4-.3 1.4 .9 1.4 .3 1.4-.1 1.4-.2 1.4-.6 1.4-.3 1.4 .3 1.4-.3 1.4-.1 1.4 .7 1.4 .2 1.4-.3 1.4-.5 1.4-.4 1.4-.1 1.4 .2 1.4 .2 1.4 0 1.4 .2 1.4 .6 1.4-.1 1.4-.8 1.4 0 1.4 0 1.4-.6 1.4-.5 1.4 .4 1.4 .5 1.4-.1 1.4-.3 1.4 .2 1.4 .2 1.4-.7 1.4-1 1.4-.2 1.4-.6 1.4-.3 1.4 1.5 1.4 1.2 1.4-.5 1.4-.8 1.4 .3 1.4 .8 1.4 .1 1.4-.3 1.4 0 1.4 .3 1.4 .5 1.4 .1 1.4-.4 1.4-.2 1.4 .3 1.4 .4 1.4 .2 1.4-.3 1.4 .2 1.4 .2 1.4 .4 1.4 1.2 1.4 .4 1.4-.5 1.4 .2 1.4-.4 1.4-.6 1.4 .7 1.4 .8 1.4-.1 1.4-.2 1.4 .3 1.4 .7 1.4 .7 1.4-.1 1.4 .1 1.4 .3 1.4-.5 1.4-.7 1.4 .3 1.4 1.2 1.4 .6 1.4-.2 1.4-.2 1.4-.2 1.4-.1 1.4-.1 1.4 0 1.4 .6 1.4 .6 1.4-.2 1.4-.6 1.4-.4 1.4 .5 1.4 .8 1.4 0 1.4-.5 1.4-.4 1.4-.2 1.4 .6 1.4 .5 1.4-.3 1.4-.2 1.4 .2 1.4-.2 1.4-.4 1.4 .1 1.4 .5 1.4 .3 1.4 0 1.4 .5 1.4 .4 1.4-.7 1.4-.3 1.4 .3 1.4-.2 1.4-.1 1.4 .8 1.4 .6 1.4-.7 1.4-.7 1.4 0 1.4 .1 1.4-.4 1.4 .3 1.4 .7 1.4 0 1.4 .5 1.4 .4 1.4-.4 1.4 .2 1.4 .3 1.4-.8 1.4-.9 1.4-.1 1.4 .8 1.4 1 1.4-.4 1.4-1 1.4-.3 1.4 .4 1.4 .3 1.4 .1 1.4 .1 1.4 0 1.4-.2 1.4 .1 1.4 .1 1.4 .1 1.4 .5 1.4 .5 1.4-.4 1.4-1 1.4-.4 1.4 0 1.4-.5 1.4 .3 1.4 1.2 1.4 .3 1.4-.9 1.4-.6 1.4 .2 1.4 .5 1.4 1 1.4 .6 1.4-.8 1.4-1.1 1.4-.1 1.4 .4 1.4 0 1.4-.2 1.4 .1 1.4 .2 1.4 .8 1.4 .5 1.4-.3 1.4-.5 1.4-.1 1.4-.1 1.4-.2 1.4-.3 1.4-.5 1.4 .3 1.4 .8 1.4 .2 1.4 .1 1.4-.1 1.4-.9 1.4 0 1.4 .8 1.4 .2 1.4 0 1.4 .3 1.4-.4 1.4-.8 1.4 .3 1.4 .8 1.4-.3 1.4-.4 1.4 .8 1.4 .6 1.4-.2 1.4-.6 1.4-.6 1.4 .5 1.4 1 1.4 0 1.4-.3 1.4-.5 1.4-.5 1.4-.4 1.4 .5 1.4 .5 1.4-.2 1.4 .4 1.4-.1 1.4-.7 1.4-.1 1.4 .3 1.4 .1 1.4-.2 1.4-.1 1.4 0 1.4-.3 1.4 0 1.4 .8 1.4 .2 1.4-.6 1.4 0 1.4 0 1.4 .1 1.4 .5 1.4 .3 1.4 .1 1.4-.4 1.4-.1 1.4-.2 1.4 0 1.4 .3 1.4 .1 1.4 .1 1.4-.4 1.4-.4 1.4 .2 1.4 .5 1.4 0 1.4-.4 1.4-.5 1.4 0 1.4 .3 1.4-.5 1.4-.3 1.4 .9 1.4 .3 1.4-.9 1.4-.3 1.4 .1 1.4 .2 1.4 .4 1.4-.2 1.4 0 1.4 .3 1.4-.1 1.4-.1 1.4-.4 1.4-.7 1.4 .5 1.4 1.1 1.4 0 1.4-.4 1.4 0 1.4 0 1.4 .4 1.4 .1 1.4-1.1 1.4-.8 1.4 0 1.4 .4 1.4 1 1.4 0 1.4-.9 1.4-.5 1.4 .8 1.4 .1 1.4-.9 1.4 .2 1.4 .5 1.4 .1 1.4-.3 1.4-.5 1.4-.3 1.4 .5 1.4 1.1 1.4 0 1.4-.9 1.4-.8 1.4-.3 1.4 .6 1.4 .5 1.4 0 1.4-.3 1.4-.3 1.4 .3 1.4 .5 1.4 .8 1.4 .1 1.4-1 1.4-.7 1.4 0 1.4-.1 1.4-.1 1.4 0 1.4 .1 1.4 .3 1.4 .1 1.4-.1 1.4-.3 1.4-.4 1.4-.1 1.4 .1 1.4 .2 1.4 .2 1.4-.3 1.4-.4 1.4 0 1.4-.2 1.4 .1 1.4-.2 1.4-.3 1.4 .6 1.4 .4 1.4-.2 1.4-.2 1.4-.3 1.4-.1 1.4 .1 1.4 .1 1.4-.1 1.4-.2 1.4 .4 1.4 .1 1.4-.2 1.4 0 1.4-.2 1.4-.4 1.4 .4 1.4 .4 1.4-.1 1.4-.2 1.4-.4 1.4 .1 1.4 .4 1.4 0 1.4-.6 1.4-.4 1.4 .7 1.4 .7 1.4-.2 1.4-.9 1.4-.5 1.4 .5 1.4-.5 1.4-.8 1.4 .4 1.4-.2 1.4-.3 1.4 .8 1.4 .6 1.4-.2 1.4 .2 1.4 .8 1.4-.2 1.4-.9 1.4-.8 1.4-.4 1.4 .3 1.4 .6 1.4 .1 1.4 .1 1.4-.2 1.4-.5 1.4 .1 1.4 .5 1.4 .2 1.4 0 1.4-.5 1.4-.3 1.4-.3 1.4-.6 1.4-.2 1.4 .7 1.4 .3 1.4-.5 1.4-.6 1.4 0 1.4 .1 1.4-.5 1.4-.3 1.4 .8 1.4 .9 1.4-.2 1.4-.5 1.4 .1 1.4-.3 1.4-1 1.4 .6 1.4 .9 1.4 .4 1.4 .4 1.4-.3 1.4-.6 1.4-.1 1.4-.1 1.4-.5 1.4 .1 1.4 .8 1.4 .2 1.4-.8 1.4-.4 1.4 .3 1.4 .3 1.4-.1 1.4-.3 1.4-.6 1.4-.3 1.4 .4 1.4 .5 1.4-.3 1.4-1.1 1.4-.1 1.4 .5 1.4-.4 1.4-.1 1.4 .8 1.4 .3 1.4-.4 1.4-.1 1.4 .1 1.4 0 1.4-.1 1.4-.7 1.4-.3 1.4 .3 1.4 .1 1.4 .3 1.4-.2 1.4-.5 1.4 .1 1.4 .3 1.4 .1 1.4-.4 1.4 0 1.4 1.1 1.4 .8 1.4-.4 1.4-1 1.4-.1 1.4 .2 1.4-.7 1.4-.6 1.4 .4 1.4 .1 1.4-.8 1.4-.7 1.4 .4 1.4 .7 1.4-.1 1.4 0 1.4 .4 1.4 0 1.4-.2 1.4-.2 1.4-.4 1.4-.2 1.4 .3 1.4 .5 1.4-.2 1.4-.6 1.4 .1 1.4 .3 1.4-.1 1.4-.8 1.4-.1 1.4 1.1 1.4 1.1 1.4-.3 1.4-.7 1.4 .4 1.4 .3 1.4-.9 1.4-.2 1.4 .5 1.4 .1 1.4-.4 1.4 0 1.4 .8 1.4 .2 1.4-.6 1.4-.9 1.4-.7 1.4 .4 1.4 .4 1.4 .1 1.4 0 1.4-.8 1.4-.4 1.4 .3 1.4 .1 1.4-.2 1.4 0 1.4-.5 1.4 0 1.4 .9 1.4 .6 1.4 .3 1.4 .1 1.4-1.2 1.4-1.2 1.4-.1 1.4 .2 1.4 .4 1.4-.1 1.4-.4 1.4 .1 1.4 .1 1.4 .2 1.4 .2 1.4-.3 1.4-.1 1.4-.2 1.4-.5 1.4-.2 1.4 .9 1.4 1.2 1.4 .3 1.4-.5 1.4-.9 1.4-.4 1.4 .3 1.4-.3 1.4-.5 1.4-.1 1.4-.1 1.4-.2 1.4-.3 1.4-.3 1.4 .7 1.4 .8 1.4-.7 1.4-.5 1.4 .3 1.4-.3 1.4-.7 1.4 .2 1.4 .5 1.4-.1 1.4 0 1.4 .1 1.4-.7 1.4-.4 1.4 .3 1.4-.1 1.4-.9 1.4-.3 1.4 .6 1.4 .5 1.4 .3 1.4-.4 1.4-.8 1.4 .1 1.4-.1 1.4-.2 1.4 0 1.4-.8 1.4-.5 1.4 .1 1.4 0 1.4 .3 1.4 .6 1.4 .5 1.4 .1 1.4-1 1.4-.9 1.4-.1 1.4 0 1.4 .1 1.4 .4 1.4-.5 1.4-.3 1.4 .7 1.4 .3 1.4 0 1.4 0 1.4 .1 1.4 0 1.4 .2 1.4-.1 1.4-.3 1.4-.4 1.4-.7 1.4 .2 1.4 .3 1.4-.2 1.4 0 1.4 .7 1.4-.4 1.4-1.1 1.4-.3 1.4 .6 1.4 .2 1.4 0 1.4 0 1.4 .1 1.4 0 1.4-.1 1.4 .2 1.4 1 1.4 .1 1.4-1.2 1.4-.7 1.4 .3 1.4 .2 1.4-.4 1.4-.1 1.4 .1 1.4-.3 1.4-.2 1.4-.1 1.4-.6 1.4 .2 1.4 .7 1.4 .5 1.4-.5 1.4-.5 1.4 .5 1.4 .8 1.4 .1 1.4-.6 1.4-.2 1.4 .2 1.4-.4 1.4-.5 1.4 .6 1.4 .8 1.4 .2 1.4-.3 1.4-.2 1.4-.1 1.4-.3 1.4 .4 1.4 1 1.4-.6 1.4-.9 1.4 0 1.4 .5 1.4 .1 1.4-.9 1.4-.7 1.4 .4 1.4 .5 1.4 .4 1.4 .4 1.4-.1 1.4-.5 1.4-.3 1.4 .8 1.4 .7 1.4-.5 1.4-.6 1.4 .2 1.4 .1 1.4-.7 1.4-.1 1.4 .5 1.4 0 1.4-.4 1.4-.1 1.4 0 1.4 0 1.4-.3 1.4-.3 1.4 .5 1.4 .3 1.4-.5 1.4 .1 1.4 .2 1.4-.4 1.4-.1 1.4 .2 1.4 1 1.4 1 1.4-.4 1.4-.9 1.4-.2 1.4-.1 1.4 .1 1.4 0 1.4-.4 1.4 .1 1.4 .4 1.4 .1 1.4-.5 1.4-.5 1.4 .4 1.4 .2 1.4-.1 1.4-.2 1.4-.8 1.4-.3 1.4 1 1.4 .4 1.4-.3 1.4 0 1.4 0 1.4-.5 1.4-.4 1.4 .5 1.4 .1 1.4-.3 1.4 .1 1.4-.4 1.4-.2 1.4 .7 1.4-.5 1.4-.7 1.4 .4 1.4 .8 1.4 0 1.4-.6 1.4 0 1.4-.1 1.4-.4 1.4 0 1.4-.2 1.4-.4 1.4-.1 1.4 .1 1.4-.1 1.4-.4 1.4 .1 1.4 .4 1.4-.1 1.4 .1 1.4-.1 1.4 0 1.4-.8 1.4-1.5 1.4-1 1.4-.1 1.4 .6 1.4-.5 1.4-1.6 1.4-.1 1.4 1 1.4 .3 1.4-.4 1.4-1 1.4-.8 1.4-1.1 1.4-1.2 1.4-1.8 1.4-2.3 1.4-1.6 1.4-1.6 1.4-1.9 1.4-2.7 1.4-3.1 1.4-2.8 1.4-3.4 1.4-3.7 1.4-3.7 1.4-3.1 1.4-2.7 1.4-2.7 1.4-2.4 1.4-1.9 1.4-1.7 1.4-1 1.4-.2 1.4 .1 1.4 .1 1.4 .7 1.4 1.9 1.4 2.6 1.4 3.2 1.4 3.5 1.4 3.6 1.4 3.8 1.4 3.9 1.4 3.9 1.4 3.1 1.4 3 1.4 3.1 1.4 2.5 1.4 2.3 1.4 1.7 1.4 1.1 1.4 1.9 1.4 2.1 1.4 1.5 1.4 1 1.4 .5 1.4 .4 1.4 .7 1.4 .7 1.4 1.1 1.4 .6 1.4 .3 1.4 .8 1.4 .4 1.4-.4 1.4 0 1.4 .3 1.4 .3 1.4 1.1 1.4 1 1.4 0 1.4-.2 1.4 0 1.4 .3 1.4 .3 1.4 .3 1.4 .7 1.4 .5 1.4-.4 1.4-.6 1.4-.1 1.4 .4 1.4 .3 1.4 .2 1.4 .3 1.4-.1 1.4-.9 1.4 .3 1.4 .7 1.4-.3 1.4-.3 1.4-.1 1.4 0 1.4 1.1 1.4 1.2 1.4-.5 1.4-1.3 1.4-.3 1.4 .7 1.4 .4 1.4-.5 1.4 0 1.4 .8 1.4 .1 1.4-.8 1.4-.8 1.4-.2 1.4-.2 1.4 .1 1.4 .6 1.4 .2 1.4 .4 1.4 .6 1.4-.7 1.4-.9 1.4 .3 1.4 0 1.4-1.1 1.4-.6 1.4-.1 1.4 0 1.4-.1 1.4-1.1 1.4-.4 1.4 .4 1.4 0 1.4-.1 1.4-.3 1.4-.2 1.4-.5 1.4-1.1 1.4-.2 1.4 .2 1.4 0 1.4-.3 1.4-.8 1.4 0 1.4 .3 1.4-.3 1.4-.1 1.4 .9 1.4-.2 1.4-1.4 1.4 .5 1.4 1.1 1.4-.5 1.4-.8 1.4-.4 1.4-.2 1.4 0 1.4 .3 1.4 .3 1.4-.1 1.4-.3 1.4 .1 1.4 .5 1.4 .3 1.4 .8 1.4 .9 1.4 .3 1.4 .1 1.4 .2 1.4 .1 1.4 .1 1.4 .4 1.4 .4 1.4 .2 1.4 .7 1.4 .1 1.4-.3 1.4 .1 1.4 .5 1.4 .3 1.4 .5 1.4 .4 1.4-.6 1.4-.6 1.4 .3 1.4 .5 1.4 1.1 1.4 1.1 1.4-.3 1.4-.7 1.4 .6 1.4 1.1 1.4 0 1.4-.1 1.4 .8 1.4 .7 1.4-.4 1.4-.7 1.4 0 1.4-.1 1.4-.6 1.4-.1 1.4 .2 1.4 .1 1.4 .2 1.4 .9 1.4 .4 1.4-.8 1.4-.4 1.4 .4 1.4 .4 1.4 .1 1.4-.6 1.4-.7 1.4-.3 .8 .3"/>
<path d="M151.3 400.9l1.4 .7 1.4 1 1.4 1.5 1.4 2 1.4 2.3 1.4 2.9 1.4 3.8 1.4 2.3 1.4 2 1.4 3.3 1.4 4.8 1.4 3.7 1.4 2.2 1.4 2.6 1.4 5.4 1.4 1.8 1.4 1.4 1.4 2.2 1.4 2 1.4 1.6 1.4 1.2 1.4 .1 1.4-.4 1.4-.8 1.4-1.9 1.4-2.5 1.4-3.6 1.4-4.1 1.4-3.8 1.4-3.2 1.4-2.9 1.4-2.9 1.4-3.5 1.4-3.7 1.4-3.4 1.4-.5 1.4-.3 1.4-.2 1.4 .3 1.4 1.5 1.4 3.4 1.4 4.5 1.4 3.1 1.4 3.3 1.4 5.5 1.4 6 1.4 3.6 1.4 2.9 1.4 3.7 1.4 4 1.4 3.3 1.4 2.5 1.4 2.2 1.4 2.6 1.4 2.8 1.4 2.2 1.4 2 1.4 2.4 1.4 2 1.4 1.2 1.4 1.3 1.4 1.4 1.4 1.4 1.4 1.4 1.4 1.2 1.4 1 1.4 .8 1.4 .6 1.4 .3 1.4 .2 1.4 .7 1.4 .6 1.4 .5 1.4 .5 1.4 .2 1.4 .3 1.4 .7 1.4 .4 1.4 .2 1.4 .5 1.4 .3 1.4-.2 1.4-.2 1.4 .3 1.4 .3 1.4 .2 1.4 .3 1.4 .3 1.4-.2 1.4 .1 1.4 .4 1.4-.2 1.4-.1 1.4 .3 1.4 .1 1.4 0 1.4 .1 1.4-.1 1.4-.1 1.4 .3 1.4 .1 1.4-.1 1.4 0 1.4 .3 1.4 .2 1.4-.2 1.4-.1 1.4-.1 1.4-.1 1.4 .2 1.4 .1 1.4 0 1.4-.3 1.4-.3 1.4 0 1.4 .2 1.4 .2 1.4 .1 1.4-.1 1.4 0 1.4 0 1.4-.4 1.4-.4 1.4-.2 1.4 .2 1.4 .3 1.4-.1 1.4 0 1.4 .1 1.4 0 1.4-.2 1.4-.5 1.4-.2 1.4-.1 1.4-.1 1.4-.3 1.4 .1 1.4-.1 1.4-.5 1.4-.2 1.4-.1 1.4-.1 1.4-.1 1.4-.3 1.4-.5 1.4-.5 1.4-.3 1.4-.3 1.4-.3 1.4-.6 1.4-.7 1.4 0 1.4 .3 1.4 0 1.4-.3 1.4-.5 1.4-.3 1.4 .4 1.4 .1 1.4-.3 1.4-.2 1.4 .1 1.4 .8 1.4 .8 1.4 .1 1.4 .2 1.4 0 1.4 .2 1.4 .4 1.4 .2 1.4 .4 1.4 .6 1.4 .5 1.4 .3 1.4 .2 1.4-.1 1.4 .1 1.4 .3 1.4 .1 1.4 0 1.4 .2 1.4 .1 1.4 0 1.4 .1 1.4 .3 1.4 .5 1.4 .5 1.4 .1 1.4-.4 1.4 .1 1.4 .3 1.4 0 1.4 .2 1.4 .3 1.4-.3 1.4-.3 1.4 .2 1.4 .3 1.4 .1 1.4-.2 1.4 .1 1.4 .4 1.4 .1 1.4 0 1.4 .2 1.4-.1 1.4-.2 1.4 .1 1.4 .3 1.4-.2 1.4-.2 1.4 .4 1.4 .5 1.4-.1 1.4-.1 1.4 .2 1.4 0 1.4 .1 1.4 .3 1.4-.1 1.4-.3 1.4-.2 1.4 .1 1.4-.2 1.4 0 1.4 .7 1.4 .3 1.4-.3 1.4-.2 1.4 .3 1.4 .2 1.4-.1 1.4-.4 1.4-.3 1.4-.1 1.4-.2 1.4 0 1.4 .4 1.4 0 1.4 .1 1.4 .3 1.4 .4 1.4-.1 1.4-.2 1.4-.1 1.4-.2 1.4 0 1.4 .1 1.4-.2 1.4-.1 1.4 .1 1.4 .3 1.4 .2 1.4-.2 1.4-.2 1.4-.1 1.4-.2 1.4 .3 1.4 .6 1.4 .3 1.4-.4 1.4-.3 1.4 .1 1.4 0 1.4 .1 1.4 0 1.4 0 1.4-.1 1.4-.1 1.4-.3 1.4-.1 1.4 .1 1.4 0 1.4 .1 1.4 .1 1.4 .2 1.4 0 1.4-.3 1.4-.1 1.4 .2 1.4 .4 1.4 .3 1.4-.2 1.4-.1 1.4-.1 1.4-.1 1.4 .1 1.4-.3 1.4-.1 1.4 .8 1.4 .1 1.4-.5 1.4-.1 1.4 .1 1.4-.1 1.4-.2 1.4 .1 1.4 .3 1.4 .1 1.4 .1 1.4 .1 1.4 .1 1.4-.3 1.4-.3 1.4-.3 1.4 .2 1.4 .4 1.4-.1 1.4 0 1.4 0 1.4-.2 1.4 0 1.4 .1 1.4 .1 1.4 .3 1.4-.1 1.4-.2 1.4-.1 1.4 .2 1.4 .2 1.4 .3 1.4 .3 1.4-.3 1.4-.3 1.4-.2 1.4-.2 1.4 0 1.4 0 1.4 .1 1.4 .2 1.4 .1 1.4 0 1.4-.2 1.4 .1 1.4 .4 1.4 .2 1.4 .1 1.4 0 1.4-.2 1.4-.1 1.4 .2 1.4 .1 1.4-.3 1.4 .1 1.4 .3 1.4-.2 1.4 0 1.4 0 1.4-.2 1.4-.1 1.4-.1 1.4-.1 1.4 .1 1.4 .1 1.4 .2 1.4-.1 1.4 0 1.4 .4 1.4 .2 1.4-.3 1.4-.2 1.4 0 1.4 .2 1.4-.2 1.4-.2 1.4 .6 1.4 .2 1.4-.5 1.4 .1 1.4 .1 1.4 0 1.4 0 1.4-.2 1.4 .2 1.4 .2 1.4-.2 1.4-.2 1.4 .1 1.4 .1 1.4 .2 1.4-.2 1.4 0 1.4-.1 1.4 .1 1.4-.2 1.4-.3 1.4 .2 1.4 .1 1.4 .2 1.4 .3 1.4-.4 1.4 0 1.4 .4 1.4 .2 1.4 0 1.4-.2 1.4-.3 1.4 .2 1.4 .4 1.4-.1 1.4-.2 1.4-.1 1.4 0 1.4 .1 1.4 .3 1.4-.2 1.4-.4 1.4 .2 1.4 .3 1.4 0 1.4-.2 1.4-.1 1.4-.1 1.4-.2 1.4 .1 1.4 .4 1.4 0 1.4 .1 1.4 .3 1.4-.1 1.4 0 1.4 .2 1.4-.2 1.4-.2 1.4 .1 1.4-.1 1.4-.2 1.4 .1 1.4-.2 1.4-.2 1.4 .2 1.4 .2 1.4-.2 1.4-.1 1.4 .1 1.4 .3 1.4-.1 1.4-.1 1.4 .1 1.4-.1 1.4 .2 1.4 .2 1.4-.3 1.4 0 1.4 .2 1.4-.1 1.4-.1 1.4 .2 1.4-.1 1.4-.4 1.4-.1 1.4 .1 1.4 0 1.4 0 1.4 .2 1.4 .1 1.4 0 1.4 .1 1.4 0 1.4-.1 1.4 .2 1.4 .3 1.4-.2 1.4-.3 1.4-.1 1.4 0 1.4 .2 1.4 .1 1.4-.2 1.4 .1 1.4 .1 1.4-.1 1.4-.1 1.4-.2 1.4 0 1.4 .3 1.4 .3 1.4-.2 1.4-.3 1.4 0 1.4 .1 1.4 .2 1.4 .2 1.4 .1 1.4 0 1.4-.1 1.4-.1 1.4-.2 1.4-.3 1.4 .1 1.4 .1 1.4-.2 1.4-.1 1.4 .3 1.4 0 1.4-.1 1.4 0 1.4 .1 1.4 0 1.4-.3 1.4 0 1.4 .3 1.4 0 1.4-.1 1.4-.1 1.4 0 1.4 .2 1.4 .1 1.4 0 1.4 .2 1.4 0 1.4-.2 1.4-.1 1.4-.4 1.4-.2 1.4 .1 1.4 .2 1.4 .1 1.4 .1 1.4-.2 1.4-.1 1.4 .1 1.4 0 1.4-.1 1.4 .1 1.4-.2 1.4 0 1.4 .1 1.4 .3 1.4 .2 1.4-.1 1.4-.3 1.4-.1 1.4 .1 1.4 0 1.4 0 1.4 .2 1.4 0 1.4-.2 1.4 .3 1.4 .2 1.4 0 1.4 0 1.4 0 1.4 .1 1.4-.1 1.4-.1 1.4 .1 1.4-.1 1.4-.3 1.4-.1 1.4 .1 1.4 .1 1.4-.2 1.4 .2 1.4 .1 1.4-.3 1.4-.3 1.4 .3 1.4 .2 1.4-.1 1.4-.3 1.4-.1 1.4 .2 1.4 .2 1.4-.1 1.4-.1 1.4 .1 1.4 .2 1.4-.1 1.4-.2 1.4 .2 1.4 .3 1.4-.3 1.4-.3 1.4 0 1.4 .2 1.4 .4 1.4 0 1.4-.5 1.4-.2 1.4 .5 1.4 .3 1.4-.1 1.4-.1 1.4-.3 1.4-.2 1.4-.2 1.4 .1 1.4 .3 1.4 .2 1.4 .2 1.4-.2 1.4-.3 1.4 .4 1.4 .2 1.4-.4 1.4-.3 1.4 .3 1.4 .1 1.4-.3 1.4-.1 1.4 .3 1.4-.1 1.4-.3 1.4 0 1.4 .1 1.4 .1 1.4 .2 1.4 .1 1.4-.2 1.4-.3 1.4 .2 1.4 .2 1.4 .1 1.4-.1 1.4-.3 1.4-.1 1.4 .1 1.4-.3 1.4-.1 1.4 .3 1.4 0 1.4-.2 1.4-.1 1.4-.1 1.4 .1 1.4 .2 1.4 0 1.4-.2 1.4 .1 1.4 0 1.4 0 1.4 .2 1.4-.1 1.4 0 1.4 .2 1.4-.1 1.4 0 1.4 .2 1.4 0 1.4-.1 1.4-.1 1.4 0 1.4 0 1.4-.2 1.4 .1 1.4 .4 1.4-.2 1.4 0 1.4 .3 1.4-.3 1.4-.3 1.4 0 1.4 0 1.4 .2 1.4 .1 1.4-.4 1.4-.1 1.4 .1 1.4 0 1.4-.1 1.4-.1 1.4-.2 1.4 .1 1.4 .1 1.4 .1 1.4 0 1.4-.1 1.4 .1 1.4 0 1.4-.3 1.4-.1 1.4 .1 1.4 .1 1.4 0 1.4 .2 1.4 .3 1.4 .1 1.4-.1 1.4-.4 1.4-.1 1.4 .2 1.4 .1 1.4 0 1.4 0 1.4 .1 1.4 0 1.4-.1 1.4-.1 1.4-.1 1.4 0 1.4 0 1.4 0 1.4 0 1.4 .1 1.4-.1 1.4 0 1.4-.2 1.4 .1 1.4 .2 1.4-.4 1.4-.3 1.4 0 1.4 .4 1.4 .3 1.4-.1 1.4-.3 1.4-.1 1.4 0 1.4 .3 1.4 0 1.4-.2 1.4-.1 1.4 0 1.4-.3 1.4 .1 1.4-.2 1.4-.2 1.4 .4 1.4 .2 1.4-.3 1.4 0 1.4 .3 1.4 .1 1.4 0 1.4 0 1.4-.2 1.4-.1 1.4-.1 1.4-.1 1.4 .1 1.4 .1 1.4 .1 1.4-.2 1.4-.1 1.4 0 1.4-.1 1.4-.1 1.4-.1 1.4 .1 1.4 0 1.4-.1 1.4 .2 1.4 .4 1.4 0 1.4-.3 1.4 0 1.4 .2 1.4-.2 1.4-.3 1.4 .1 1.4 .1 1.4 0 1.4 .1 1.4-.1 1.4-.2 1.4-.2 1.4 .1 1.4 .1 1.4-.1 1.4-.1 1.4 .2 1.4-.1 1.4-.4 1.4-.2 1.4 0 1.4 .2 1.4 0 1.4-.1 1.4-.1 1.4-.1 1.4 .1 1.4 .3 1.4-.1 1.4-.4 1.4 0 1.4 .2 1.4-.1 1.4-.1 1.4-.1 1.4 0 1.4 .2 1.4 0 1.4-.1 1.4 0 1.4-.2 1.4-.1 1.4 .2 1.4 .1 1.4-.1 1.4 .2 1.4-.1 1.4-.4 1.4 0 1.4 .5 1.4-.1 1.4-.5 1.4-.3 1.4 .1 1.4-.1 1.4 0 1.4 0 1.4-.1 1.4 .1 1.4 .2 1.4-.1 1.4 0 1.4 .2 1.4 0 1.4-.2 1.4-.2 1.4 .1 1.4 .3 1.4-.2 1.4-.4 1.4 .1 1.4 .2 1.4 .1 1.4 .2 1.4-.2 1.4-.4 1.4-.3 1.4 0 1.4 .1 1.4 .3 1.4 .2 1.4-.5 1.4-.6 1.4 .1 1.4 .2 1.4-.2 1.4-.1 1.4 .2 1.4 .1 1.4-.1 1.4-.1 1.4 .1 1.4-.2 1.4-.2 1.4-.1 1.4 .1 1.4 .1 1.4-.2 1.4 .1 1.4 .2 1.4-.1 1.4-.2 1.4 0 1.4 .3 1.4 .1 1.4-.4 1.4-.5 1.4 .1 1.4 .5 1.4 .2 1.4-.1 1.4-.2 1.4-.2 1.4-.2 1.4 .1 1.4-.1 1.4-.1 1.4 .3 1.4 .1 1.4-.5 1.4-.2 1.4 .2 1.4-.2 1.4-.1 1.4 .3 1.4 .1 1.4 .1 1.4 .2 1.4-.2 1.4-.3 1.4-.1 1.4-.1 1.4 .1 1.4 .1 1.4-.1 1.4 .2 1.4 .3 1.4 .1 1.4-.2 1.4 0 1.4 0 1.4 .1 1.4-.1 1.4 0 1.4-.3 1.4-.3 1.4-.1 1.4 .2 1.4 .4 1.4 0 1.4-.2 1.4-.1 1.4-.1 1.4-.2 1.4 0 1.4 .1 1.4-.1 1.4 .2 1.4 .1 1.4-.2 1.4-.2 1.4 .2 1.4 .3 1.4 0 1.4 .1 1.4 0 1.4-.4 1.4 0 1.4 .4 1.4 .1 1.4-.4 1.4 0 1.4 .2 1.4 .2 1.4 0 1.4-.3 1.4-.2 1.4 .1 1.4 .2 1.4-.4 1.4-.4 1.4 .2 1.4 .4 1.4 .2 1.4-.2 1.4-.1 1.4 .2 1.4 .1 1.4-.2 1.4 0 1.4-.1 1.4-.2 1.4 0 1.4-.1 1.4 0 1.4 0 1.4-.1 1.4 .2 1.4 .1 1.4-.3 1.4-.2 1.4 .1 1.4 .1 1.4 .1 1.4 0 1.4-.1 1.4-.2 1.4-.3 1.4-.1 1.4 .2 1.4 0 1.4-.1 1.4 .1 1.4-.3 1.4-.6 1.4 0 1.4 .1 1.4 .4 1.4 .2 1.4-.6 1.4-.3 1.4-.1 1.4 0 1.4 0 1.4-.2 1.4-.3 1.4-.1 1.4-.3 1.4-.2 1.4 0 1.4-.5 1.4-.7 1.4-.5 1.4-.3 1.4-.3 1.4-.4 1.4-.7 1.4-.4 1.4-.5 1.4-.7 1.4-.7 1.4-.7 1.4-.9 1.4-1 1.4-.9 1.4-1.2 1.4-1.6 1.4-1.2 1.4-1.4 1.4-1.6 1.4-1.6 1.4-1.5 1.4-1.4 1.4-1.2 1.4-1.1 1.4-.9 1.4-.4 1.4-.3 1.4-.1 1.4 .4 1.4 .7 1.4 .7 1.4 1.2 1.4 1.5 1.4 1.3 1.4 1.4 1.4 1.5 1.4 1.7 1.4 2 1.4 2 1.4 1.5 1.4 1 1.4 .9 1.4 1.1 1.4 1.4 1.4 1.5 1.4 1.1 1.4 .9 1.4 .7 1.4 .8 1.4 .6 1.4 .1 1.4 .1 1.4 .4 1.4 .4 1.4 0 1.4 0 1.4 .1 1.4 .4 1.4 .7 1.4 .3 1.4-.2 1.4 .1 1.4 0 1.4-.2 1.4 .1 1.4 .1 1.4 .2 1.4 .2 1.4-.2 1.4 .1 1.4 .2 1.4-.1 1.4 .2 1.4 .2 1.4 0 1.4 0 1.4-.1 1.4-.2 1.4 .6 1.4 .4 1.4-.2 1.4-.3 1.4-.4 1.4 0 1.4 0 1.4 .1 1.4 .1 1.4-.1 1.4-.2 1.4-.1 1.4 .1 1.4 .2 1.4-.2 1.4 .2 1.4 .2 1.4-.4 1.4-.2 1.4 .2 1.4 .5 1.4 .2 1.4-.4 1.4-.4 1.4 .1 1.4 .1 1.4-.1 1.4 .3 1.4 0 1.4-.2 1.4-.1 1.4 0 1.4-.2 1.4-.3 1.4-.2 1.4-.3 1.4-.3 1.4-.1 1.4-.3 1.4-.4 1.4-.4 1.4 .1 1.4 .4 1.4 0 1.4-.4 1.4-.4 1.4-.6 1.4-.3 1.4-.4 1.4-.5 1.4-.3 1.4-.2 1.4-.3 1.4-.2 1.4 0 1.4 0 1.4 .1 1.4-.2 1.4-.2 1.4-.1 1.4-.1 1.4-.1 1.4 0 1.4 .2 1.4 .2 1.4-.2 1.4-.4 1.4-.1 1.4 .3 1.4 .1 1.4 .2 1.4 .3 1.4 .5 1.4 .1 1.4 .3 1.4 .7 1.4 .4 1.4 .1 1.4 .3 1.4 .3 1.4 .3 1.4 .1 1.4 0 1.4 .3 1.4 .3 1.4 .4 1.4 .3 1.4 .1 1.4-.2 1.4-.1 1.4 .5 1.4 .4 1.4 .5 1.4 .5 1.4 0 1.4 0 1.4 .1 1.4 .1 1.4 .1 1.4 0 1.4 .3 1.4 .4 1.4 .2 1.4 .1 1.4 0 1.4 0 1.4 .2 1.4 .2 1.4 .2 1.4-.1 1.4-.2 .6 0"/>
<path d="M152 388.2l1.4 12.7 1.4 12.2 1.4 11.7 1.4 10.5 1.4 9.4 1.4 9.3 1.4 9.2 1.4 9 1.4 9.4 1.4 9.7 1.4 10 1.4 10.1 1.4 9.9 1.4 9 1.4 7.4 1.4 8 1.4 9.5 1.4 9.3 1.4 8.7 1.4 8.5 1.4 8.4 1.4 5.2 1.4 3.3 1.4 3.6 1.4 3.7 1.4 3.3 1.4 3.2 1.4 3 1.4 2.9 1.4 2.7 1.4 1.2 1.4 .6 1.4 .5 1.4 .3 1.4-.1 1.4 .1 1.4 .3 1.4 .5 1.4 .3 1.4-.2 1.4-.1 1.4 .1 1.4 .2 1.4 .1 1.4 .1 1.4 .2 1.4 .1 1.4 .1 1.4 .1 1.4-.1 1.4 .1 1.4 .1 1.4 .2 1.4 0 1.4 0 1.4-.1 1.4 0 1.4 .1 1.4 .1 1.4 .1 1.4-.1 1.4-.2 1.4-.1 1.4 .2 1.4-.1 1.4 .1 1.4 .2 1.4 .1 1.4-.1 1.4 0 1.4 0 1.4 0 1.4 0 1.4 .2 1.4-.1 1.4-.2 1.4 0 1.4 .2 1.4 .1 1.4-.2 1.4 0 1.4 .4 1.4 .2 1.4-.3 1.4-.1 1.4-.1 1.4-.3 1.4 .2 1.4 .2 1.4 .2 1.4-.2 1.4-.1 1.4 .1 1.4 0 1.4 0 1.4-.1 1.4 0 1.4 .1 1.4 .4 1.4 .2 1.4-.2 1.4-.1 1.4 .1 1.4 .2 1.4 0 1.4-.1 1.4-.2 1.4-.1 1.4 .1 1.4 0 1.4-.1 1.4-.2 1.4-.2 1.4 0 1.4 .1 1.4 .2 1.4 0 1.4 0 1.4 .2 1.4 .2 1.4 0 1.4 .2 1.4-.1 1.4-.3 1.4 .1 1.4 .1 1.4 0 1.4-.1 1.4-.2 1.4-.1 1.4 0 1.4 0 1.4 0 1.4-.1 1.4 .1 1.4 .2 1.4 .1 1.4-.2 1.4-.2 1.4 0 1.4 .1 1.4 .1 1.4 .1 1.4 .1 1.4 0 1.4-.1 1.4 .1 1.4 0 1.4 0 1.4 .1 1.4 0 1.4-.1 1.4 0 1.4 .1 1.4 .1 1.4 0 1.4-.1 1.4 0 1.4 0 1.4 0 1.4-.3 1.4-.1 1.4 .2 1.4 0 1.4-.2 1.4 0 1.4 .2 1.4 .3 1.4-.2 1.4-.3 1.4 .1 1.4 .2 1.4 .1 1.4-.4 1.4-.3 1.4 .3 1.4 .1 1.4-.2 1.4-.1 1.4 .4 1.4 .1 1.4-.2 1.4 .1 1.4 .2 1.4 .1 1.4-.1 1.4-.1 1.4 .1 1.4-.1 1.4-.1 1.4 0 1.4-.2 1.4 0 1.4 .3 1.4-.1 1.4-.1 1.4-.1 1.4-.2 1.4 0 1.4 .1 1.4 .1 1.4 .2 1.4 .1 1.4-.1 1.4 0 1.4 0 1.4-.2 1.4 0 1.4 .1 1.4 .2 1.4 0 1.4-.2 1.4-.2 1.4 .1 1.4 .1 1.4 .1 1.4-.1 1.4 0 1.4 .2 1.4 0 1.4-.1 1.4 .1 1.4-.1 1.4-.1 1.4 0 1.4-.1 1.4 0 1.4 .2 1.4 .3 1.4 0 1.4-.2 1.4 .1 1.4-.1 1.4 0 1.4 0 1.4 .1 1.4 .1 1.4-.2 1.4-.3 1.4 .2 1.4-.1 1.4-.3 1.4-.1 1.4 .4 1.4 .3 1.4 0 1.4 .1 1.4 0 1.4-.2 1.4-.1 1.4-.2 1.4 .1 1.4 .2 1.4-.2 1.4-.2 1.4 .1 1.4 0 1.4 0 1.4 .1 1.4-.2 1.4-.2 1.4 .2 1.4 .3 1.4-.2 1.4 0 1.4 .2 1.4-.1 1.4-.2 1.4 0 1.4 .2 1.4 .1 1.4-.3 1.4 0 1.4 .3 1.4 .2 1.4-.2 1.4-.2 1.4 .1 1.4 .1 1.4-.1 1.4-.2 1.4 .1 1.4 0 1.4-.1 1.4 .1 1.4 0 1.4 0 1.4 0 1.4-.1 1.4 .1 1.4 .1 1.4 .1 1.4-.1 1.4-.3 1.4-.1 1.4 .3 1.4 .3 1.4 .2 1.4-.3 1.4-.2 1.4 0 1.4-.2 1.4 .1 1.4 .5 1.4-.1 1.4-.1 1.4 .1 1.4 .1 1.4-.1 1.4-.1 1.4-.4 1.4 0 1.4 .5 1.4 .1 1.4-.2 1.4-.1 1.4-.1 1.4 0 1.4 .3 1.4 0 1.4-.1 1.4 0 1.4 0 1.4 0 1.4-.1 1.4-.2 1.4 .3 1.4 .1 1.4-.2 1.4-.1 1.4 .2 1.4 .1 1.4-.3 1.4-.2 1.4 0 1.4 0 1.4 0 1.4 .2 1.4 0 1.4 .3 1.4 .3 1.4-.2 1.4-.3 1.4-.3 1.4-.1 1.4 0 1.4 0 1.4 0 1.4 .1 1.4 0 1.4-.1 1.4-.2 1.4 .2 1.4 .2 1.4 .2 1.4 .1 1.4 0 1.4-.2 1.4-.1 1.4 .1 1.4 .3 1.4 0 1.4-.4 1.4-.1 1.4 0 1.4-.2 1.4 .1 1.4 .3 1.4 0 1.4-.1 1.4 .1 1.4-.1 1.4-.1 1.4 0 1.4 0 1.4 0 1.4 .1 1.4 .2 1.4 0 1.4 0 1.4-.2 1.4-.1 1.4-.1 1.4-.1 1.4 .3 1.4 0 1.4-.1 1.4 .1 1.4 0 1.4 0 1.4 .1 1.4-.1 1.4-.1 1.4 .2 1.4 .1 1.4-.3 1.4-.3 1.4-.1 1.4 .2 1.4 .2 1.4 0 1.4-.2 1.4 .2 1.4 .2 1.4-.1 1.4-.1 1.4 .3 1.4-.1 1.4-.2 1.4-.2 1.4-.1 1.4 0 1.4 .2 1.4 .1 1.4 .1 1.4 .1 1.4-.1 1.4-.1 1.4-.3 1.4-.1 1.4 .1 1.4 .1 1.4 0 1.4 0 1.4-.1 1.4 0 1.4 .2 1.4 .1 1.4 0 1.4 0 1.4-.1 1.4-.1 1.4 .3 1.4 .2 1.4-.1 1.4 .1 1.4 .1 1.4-.1 1.4-.1 1.4 .1 1.4-.1 1.4-.2 1.4 0 1.4 .1 1.4-.1 1.4 .1 1.4 0 1.4-.2 1.4-.1 1.4 .3 1.4 .2 1.4-.2 1.4-.1 1.4 .1 1.4 .2 1.4-.1 1.4-.2 1.4-.1 1.4-.1 1.4-.1 1.4 .1 1.4 .3 1.4-.1 1.4-.1 1.4 .3 1.4 .1 1.4-.1 1.4-.3 1.4 .1 1.4 .1 1.4-.2 1.4 0 1.4 .3 1.4 0 1.4-.5 1.4-.3 1.4 .1 1.4 .2 1.4 .3 1.4 .1 1.4-.1 1.4-.1 1.4 0 1.4 0 1.4 0 1.4 .2 1.4 .4 1.4-.2 1.4-.4 1.4-.1 1.4-.1 1.4 0 1.4 0 1.4 .2 1.4 .2 1.4-.1 1.4-.3 1.4-.1 1.4 .1 1.4 .2 1.4 .2 1.4 0 1.4 0 1.4 .1 1.4 0 1.4-.3 1.4-.3 1.4 .1 1.4 .5 1.4 .1 1.4-.1 1.4-.1 1.4-.1 1.4-.1 1.4 .1 1.4 .2 1.4 0 1.4-.2 1.4 0 1.4 .1 1.4 0 1.4 0 1.4 .2 1.4-.1 1.4 0 1.4 .2 1.4-.1 1.4-.1 1.4-.2 1.4-.1 1.4-.2 1.4 0 1.4 .2 1.4 0 1.4 0 1.4 0 1.4-.1 1.4 .2 1.4 .1 1.4 .2 1.4 .1 1.4-.1 1.4-.1 1.4-.1 1.4 0 1.4 0 1.4-.1 1.4 0 1.4 .1 1.4 0 1.4 0 1.4-.1 1.4 0 1.4 0 1.4-.2 1.4 .2 1.4 .1 1.4-.4 1.4 .1 1.4 .2 1.4 .1 1.4 .1 1.4-.2 1.4 .2 1.4 .3 1.4-.2 1.4-.1 1.4-.1 1.4-.1 1.4 .1 1.4-.1 1.4 0 1.4 .1 1.4-.1 1.4 0 1.4 0 1.4 0 1.4 .2 1.4-.1 1.4-.2 1.4 0 1.4 0 1.4 0 1.4 .1 1.4 .1 1.4 0 1.4 0 1.4 .1 1.4 0 1.4 0 1.4-.2 1.4-.1 1.4 0 1.4 .3 1.4 .3 1.4 .1 1.4-.1 1.4-.3 1.4-.1 1.4 0 1.4 .1 1.4 .2 1.4-.1 1.4-.3 1.4 0 1.4 .3 1.4-.1 1.4-.1 1.4 .1 1.4-.1 1.4-.2 1.4-.1 1.4-.1 1.4 .2 1.4-.1 1.4 0 1.4 .1 1.4 .1 1.4 0 1.4-.2 1.4-.1 1.4 0 1.4 0 1.4 .2 1.4 .1 1.4 .1 1.4 .2 1.4-.1 1.4-.2 1.4-.1 1.4 0 1.4 .2 1.4-.1 1.4-.2 1.4 .1 1.4 .2 1.4-.1 1.4-.2 1.4-.3 1.4 .1 1.4 .4 1.4-.2 1.4-.2 1.4 0 1.4-.1 1.4-.3 1.4-.2 1.4 .3 1.4 .3 1.4 0 1.4 0 1.4 .1 1.4-.1 1.4-.3 1.4 0 1.4 0 1.4-.1 1.4 .1 1.4 .1 1.4-.1 1.4-.1 1.4 .2 1.4 .3 1.4-.4 1.4-.2 1.4 .3 1.4 .1 1.4-.1 1.4-.1 1.4 0 1.4-.1 1.4-.2 1.4 .1 1.4 .1 1.4 .2 1.4-.1 1.4 0 1.4 0 1.4 0 1.4-.2 1.4-.3 1.4-.1 1.4 .2 1.4-.1 1.4-.1 1.4 .1 1.4-.1 1.4 .1 1.4 0 1.4-.3 1.4 .3 1.4 .3 1.4-.3 1.4-.2 1.4 .2 1.4 0 1.4-.4 1.4-.1 1.4 .1 1.4 0 1.4 0 1.4 0 1.4-.2 1.4-.1 1.4-.1 1.4-.1 1.4 .1 1.4-.1 1.4 0 1.4 .2 1.4-.2 1.4-.2 1.4 .1 1.4 0 1.4 0 1.4 0 1.4-.1 1.4-.1 1.4-.1 1.4 .1 1.4 0 1.4-.4 1.4 .1 1.4 0 1.4-.2 1.4 0 1.4 .3 1.4 .1 1.4 0 1.4-.1 1.4-.2 1.4-.1 1.4 .1 1.4 0 1.4-.1 1.4-.2 1.4 .1 1.4 .1 1.4-.2 1.4-.4 1.4 0 1.4 0 1.4-.1 1.4-.1 1.4-.1 1.4 .1 1.4 .2 1.4 0 1.4 0 1.4 .1 1.4 0 1.4 .1 1.4-.2 1.4-.3 1.4-.5 1.4-.3 1.4 .3 1.4 .3 1.4 0 1.4-.2 1.4 .1 1.4-.1 1.4-.3 1.4-.3 1.4 .1 1.4 .2 1.4 0 1.4-.2 1.4-.1 1.4 .2 1.4 0 1.4 0 1.4 0 1.4-.1 1.4-.4 1.4-.3 1.4 0 1.4 .4 1.4 0 1.4-.3 1.4-.1 1.4-.1 1.4 0 1.4-.2 1.4 .1 1.4 .2 1.4-.2 1.4-.4 1.4-.2 1.4 .1 1.4 .3 1.4-.1 1.4-.2 1.4-.1 1.4-.2 1.4 0 1.4 .2 1.4 .1 1.4 0 1.4-.4 1.4-.1 1.4 0 1.4-.2 1.4-.3 1.4-.1 1.4 .2 1.4 0 1.4 0 1.4 0 1.4 0 1.4-.2 1.4-.2 1.4-.1 1.4 0 1.4 0 1.4-.2 1.4-.1 1.4-.3 1.4-.3 1.4 0 1.4 .2 1.4 .1 1.4 0 1.4-.2 1.4 0 1.4 0 1.4-.3 1.4-.3 1.4-.1 1.4-.1 1.4-.2 1.4 .1 1.4 0 1.4-.1 1.4 0 1.4-.3 1.4-.2 1.4-.2 1.4 0 1.4 0 1.4 0 1.4 .1 1.4-.2 1.4-.2 1.4-.3 1.4-.3 1.4 0 1.4 0 1.4 .1 1.4 0 1.4 0 1.4-.1 1.4-.2 1.4-.2 1.4-.1 1.4 0 1.4-.1 1.4-.2 1.4 .1 1.4 .1 1.4-.3 1.4-.4 1.4-.2 1.4-.1 1.4 .2 1.4-.1 1.4 0 1.4 .2 1.4-.2 1.4-.5 1.4-.2 1.4-.1 1.4-.4 1.4-.4 1.4-.4 1.4-.2 1.4-.2 1.4-.2 1.4 0 1.4-.1 1.4-.2 1.4 0 1.4 0 1.4-.2 1.4-.3 1.4-.2 1.4-.1 1.4 0 1.4 .1 1.4-.1 1.4-.3 1.4 .2 1.4 .2 1.4-.2 1.4-.1 1.4 .1 1.4-.2 1.4-.3 1.4 .1 1.4 .2 1.4 .2 1.4 0 1.4-.3 1.4-.2 1.4-.1 1.4 0 1.4 0 1.4-.1 1.4 .2 1.4 .1 1.4-.1 1.4-.1 1.4-.2 1.4-.2 1.4 .2 1.4 .3 1.4 0 1.4-.2 1.4 0 1.4 0 1.4 0 1.4-.1 1.4-.2 1.4-.1 1.4-.2 1.4-.2 1.4 0 1.4 .2 1.4 0 1.4-.1 1.4 .1 1.4 0 1.4-.2 1.4-.1 1.4 .3 1.4 0 1.4-.4 1.4-.4 1.4 .1 1.4 .1 1.4 .1 1.4-.2 1.4-.2 1.4-.1 1.4 0 1.4-.1 1.4-.2 1.4-.4 1.4-.6 1.4-.6 1.4-.4 1.4-.4 1.4-.3 1.4-.2 1.4-.4 1.4-.8 1.4-.8 1.4-.5 1.4-.4 1.4-.4 1.4-.6 1.4-.8 1.4-1 1.4-.9 1.4-.8 1.4-.7 1.4-.7 1.4-1 1.4-1.2 1.4-1 1.4-1.2 1.4-1.6 1.4-1.7 1.4-1.4 1.4-1.7 1.4-1.9 1.4-1.8 1.4-2.5 1.4-3.4 1.4-3.9 1.4-4.5 1.4-5.3 1.4-5.9 1.4-6.9 1.4-7.6 1.4-8.5 1.4-9.7 1.4-9.2 1.4-7.6 1.4-6.7 1.4-3.9 1.4-1.9 1.4-1.3 1.4-.3 1.4 .9 1.4 1.8 1.4 4.2 1.4 8.3 1.4 7.8 1.4 7.7 1.4 8 1.4 7.3 1.4 7.1 1.4 7.1 1.4 6.7 1.4 6.6 1.4 6.6 1.4 5.7 1.4 5.5 1.4 5.1 1.4 3.9 1.4 3.5 1.4 3.2 1.4 2.5 1.4 2 1.4 1.9 1.4 1.5 1.4 1 1.4 .9 1.4 1 1.4 .6 1.4 .4 1.4 .7 1.4 .5 1.4 .5 1.4 .5 1.4 .4 1.4 .2 1.4 .1 1.4 .1 1.4 .3 1.4 .3 1.4 .2 1.4 .1 1.4 .3 1.4 .6 1.4 .2 1.4-.1 1.4 .1 1.4 .2 1.4 .2 1.4 .1 1.4-.1 1.4 0 1.4-.1 1.4 0 1.4 .1 1.4 0 1.4 0 1.4 .2 1.4 0 1.4 0 1.4-.1 1.4-.1 1.4 0 1.4 0 1.4 0 1.4 .1 1.4-.1 1.4-.2 1.4 0 1.4 .1 1.4 0 1.4-.2 1.4-.2 1.4 .2 1.4 .3 1.4-.2 1.4-.1 1.4-.1 1.4-.1 1.4 .1 1.4 .2 1.4 0 1.4-.1 1.4-.1 1.4-.1 1.4-.1 1.4 .2 1.4 .1 1.4-.2 1.4-.5 1.4-.4 1.4-.3 1.4-.3 1.4-.7 1.4-.7 1.4-.6 1.4-.8 1.4-1.1 1.4-1.4 1.4-1.2 1.4-1.1 1.4-1.7 1.4-1.6 1.4-1.3 1.4-1.7 1.4-2 1.4-1.5 1.4-1 1.4-1.3 1.4-1.7 1.4-1.4 1.4-.8 1.4-.8 1.4-.9 1.4-1.1 1.4-1 1.4-.5 1.4-.2 1.4-.2 1.4-.3 1.4 .5 1.4 1 1.4 .4 1.4 .5 1.4 .9 1.4 1.1 1.4 1.2 1.4 1.3 1.4 1.4 1.4 1.5 1.4 1.4 1.4 1.3 1.4 1.2 1.4 1.5 1.4 1.4 1.4 1.2 1.4 1.2 1.4 1.3 1.4 1.3 1.4 1.3 1.4 1.4 1.4 1.4 1.4 1.2 1.4 1 1.4 1.1 1.4 1.1 1.4 .9 1.4 .6 1.4 .5 1.4 .7 1.4 1.1 1.4 .8 1.4 .4 1.4 .4 1.4 .5 1.4 .5 1.4 .4 1.4 .4 1.4 .1 1.4 .2 1.4 .1 1.4 .3 1.4 .3 1.4 .4 1.4 .3 1.4 .3 1.4 0 1.4 0 1.4 .1 1.4 .2 1.4 .1 1.4 0 1.4-.1"/>
<path d="M152 388l1.4 9.1 1.4 9.2 1.4 9.6 1.4 9.4 1.4 8.9 1.4 9 1.4 9.3 1.4 9.8 1.4 9.7 1.4 9.8 1.4 10.9 1.4 11 1.4 10.4 1.4 9.9 1.4 9.2 1.4 9.5 1.4 9 1.4 7.7 1.4 4.5 1.4 1.6 1.4 1.8 1.4 .4 1.4-.2 1.4 1.2 1.4 .7 1.4 .8 1.4 2 1.4 .8 1.4-.3 1.4-.6 1.4-.6 1.4 .8 1.4-.5 1.4 1.1 1.4 .7 1.4-.1 1.4-.5 1.4 1.1 1.4 1.8 1.4 .8 1.4-1.1 1.4 .9 1.4 0 1.4-.4 1.4-1.9 1.4 .8 1.4-.3 1.4 1.5 1.4-1.2 1.4-.1 1.4 .2 1.4 .5 1.4-1.4 1.4-2.7 1.4-.9 1.4-1.6 1.4-2.3 1.4-2.3 1.4-1.9 1.4-1.9 1.4-2.2 1.4-2.6 1.4-3.5 1.4-4.3 1.4-3.7 1.4-2.3 1.4-1.7 1.4-1.9 1.4-1.9 1.4-2 1.4-1.4 1.4-.3 1.4 .1 1.4 0 1.4 .1 1.4 0 1.4 0 1.4 .1 1.4 .8 1.4 1.7 1.4 1.9 1.4 2.8 1.4 2.8 1.4 1.4 1.4 .4 1.4 1.2 1.4 3.8 1.4 4.6 1.4 3.9 1.4 3.7 1.4 3.8 1.4 4.2 1.4 4.8 1.4 4.1 1.4 3.3 1.4 2.9 1.4 2.7 1.4 2.8 1.4 3.2 1.4 4.1 1.4 4.7 1.4 4.8 1.4 4.4 1.4 3.9 1.4 3.4 1.4 3.4 1.4 3.5 1.4 3.9 1.4 3.7 1.4 2.8 1.4 1.5 1.4 1.1 1.4 1.8 1.4 3.8 1.4 3.3 1.4 1.4 1.4 1.2 1.4 1.4 1.4 2.1 1.4 2.6 1.4 2 1.4 1.3 1.4 1.4 1.4 1.4 1.4 1.2 1.4 1 1.4 .9 1.4 1.5 1.4 1.6 1.4 1 1.4 1 1.4 .9 1.4 .9 1.4 1.2 1.4 1 1.4 .8 1.4 .9 1.4 .9 1.4 1.1 1.4 1.2 1.4 1.3 1.4 1 1.4 1 1.4 .7 1.4 .8 1.4 1.5 1.4 1.3 1.4 1.1 1.4 .9 1.4 1 1.4 1.3 1.4 1.6 1.4 1.1 1.4 .6 1.4 .9 1.4 1.2 1.4 1 1.4 1 1.4 .6 1.4 .5 1.4 1.2 1.4 .8 1.4 .5 1.4 .8 1.4 .9 1.4 .8 1.4 .3 1.4 .5 1.4 1.3 1.4 1.3 1.4 1.1 1.4 .8 1.4 .5 1.4 .4 1.4 .7 1.4 .7 1.4 .7 1.4 .5 1.4 .4 1.4 .9 1.4 1 1.4 .8 1.4 .1 1.4 0 1.4 .2 1.4 .1 1.4 .1 1.4 .5 1.4 .8 1.4 .3 1.4-.1 1.4 .4 1.4 .6 1.4 .2 1.4 0 1.4 0 1.4 .2 1.4 .6 1.4 .3 1.4 0 1.4 .2 1.4 .5 1.4 .2 1.4 .3 1.4 .3 1.4 .3 1.4 .2 1.4-.1 1.4-.3 1.4-.4 1.4 0 1.4 .5 1.4 .3 1.4 .2 1.4 0 1.4-.4 1.4-.2 1.4 .1 1.4-.2 1.4-.3 1.4-.1 1.4-.1 1.4-.2 1.4-.3 1.4-.2 1.4-.1 1.4-.3 1.4-.3 1.4-.5 1.4-.1 1.4 0 1.4-.4 1.4-.3 1.4-.5 1.4-.4 1.4 .2 1.4-.1 1.4-.4 1.4-.2 1.4-.4 1.4-.3 1.4-.1 1.4 .1 1.4-.1 1.4-.5 1.4-.1 1.4-.2 1.4-.9 1.4-.2 1.4 .2 1.4-.1 1.4 0 1.4-.1 1.4-.5 1.4-.7 1.4-.3 1.4 .3 1.4 .2 1.4 .2 1.4 0 1.4 .1 1.4 .6 1.4 .3 1.4-.3 1.4-.2 1.4 .1 1.4 .2 1.4 .1 1.4 .2 1.4 .4 1.4 .4 1.4 .1 1.4 .2 1.4 .5 1.4-.2 1.4-.3 1.4 .6 1.4 .9 1.4 .7 1.4 .3 1.4 .5 1.4 .7 1.4 .8 1.4 .5 1.4 .5 1.4 .7 1.4 .6 1.4 .2 1.4 .2 1.4 .6 1.4 .3 1.4 .4 1.4 .5 1.4 .4 1.4 .1 1.4-.2 1.4 0 1.4 .3 1.4 .6 1.4 .4 1.4 0 1.4-.3 1.4 0 1.4 .7 1.4 .3 1.4 0 1.4 .3 1.4 .3 1.4 0 1.4 0 1.4 .5 1.4 .1 1.4 .3 1.4 .7 1.4 .1 1.4-.4 1.4 0 1.4 .5 1.4 .4 1.4-.1 1.4-.1 1.4 0 1.4 .2 1.4 .5 1.4 .4 1.4 0 1.4-.1 1.4 .1 1.4 .2 1.4-.1 1.4 .3 1.4 .4 1.4 0 1.4-.2 1.4-.1 1.4-.2 1.4-.1 1.4 .4 1.4 .7 1.4 .3 1.4-.1 1.4-.2 1.4-.3 1.4-.1 1.4 .2 1.4 .1 1.4 0 1.4 0 1.4-.3 1.4-.2 1.4 0 1.4 0 1.4 .3 1.4 .6 1.4 0 1.4 .1 1.4 .3 1.4 0 1.4-.2 1.4 .2 1.4-.1 1.4-.1 1.4-.1 1.4-.3 1.4 0 1.4 .4 1.4 .1 1.4-.1 1.4 .1 1.4 .4 1.4 .2 1.4 0 1.4-.2 1.4-.3 1.4 0 1.4 .1 1.4-.1 1.4 .1 1.4 .3 1.4-.2 1.4-.2 1.4 .4 1.4 .3 1.4-.1 1.4-.1 1.4-.3 1.4-.2 1.4 0 1.4 .4 1.4 .2 1.4-.1 1.4 0 1.4-.2 1.4 0 1.4 .3 1.4 .1 1.4-.3 1.4-.3 1.4 .1 1.4 .4 1.4 .4 1.4-.2 1.4-.4 1.4-.2 1.4-.1 1.4 .2 1.4 .3 1.4 .1 1.4-.1 1.4-.1 1.4 .1 1.4 .2 1.4-.4 1.4-.2 1.4 .2 1.4 0 1.4 .2 1.4 .2 1.4 0 1.4 0 1.4 .1 1.4 .3 1.4 0 1.4-.4 1.4-.2 1.4 0 1.4 .3 1.4 .1 1.4-.2 1.4 0 1.4-.2 1.4-.3 1.4 .3 1.4 .6 1.4 .1 1.4-.3 1.4 0 1.4-.1 1.4-.3 1.4 .4 1.4 .5 1.4-.3 1.4-.1 1.4 0 1.4-.1 1.4 .1 1.4 .3 1.4-.1 1.4-.1 1.4-.1 1.4 .1 1.4 .2 1.4 .2 1.4-.1 1.4-.6 1.4-.2 1.4 .5 1.4 .2 1.4-.6 1.4-.3 1.4 .3 1.4 .4 1.4-.2 1.4 0 1.4 .4 1.4 .2 1.4-.2 1.4-.2 1.4 .1 1.4 .4 1.4 0 1.4-.5 1.4-.3 1.4 .1 1.4 .3 1.4 0 1.4 .2 1.4 0 1.4 0 1.4 .1 1.4-.2 1.4-.3 1.4 .3 1.4 .3 1.4-.5 1.4 0 1.4 .3 1.4-.2 1.4-.4 1.4 0 1.4 .5 1.4 .4 1.4 0 1.4-.2 1.4-.2 1.4-.2 1.4-.1 1.4 .1 1.4 .1 1.4 .3 1.4-.1 1.4-.2 1.4 .1 1.4-.2 1.4-.2 1.4 0 1.4-.1 1.4 .3 1.4 .1 1.4 0 1.4 .1 1.4-.1 1.4-.2 1.4-.2 1.4 .1 1.4 0 1.4 .1 1.4 .1 1.4-.1 1.4-.4 1.4 0 1.4 .4 1.4 .3 1.4 .1 1.4 .2 1.4 .1 1.4-.3 1.4-.3 1.4-.3 1.4 0 1.4 .2 1.4 .2 1.4 .1 1.4-.1 1.4 0 1.4 .1 1.4 0 1.4 0 1.4-.1 1.4-.3 1.4 0 1.4 .3 1.4 .1 1.4-.2 1.4 .2 1.4 .3 1.4-.4 1.4-.2 1.4 .1 1.4-.2 1.4 .4 1.4 .4 1.4 0 1.4-.2 1.4-.1 1.4 0 1.4 0 1.4-.2 1.4-.2 1.4 .2 1.4 .2 1.4 0 1.4-.3 1.4-.2 1.4 .6 1.4 .5 1.4-.3 1.4-.6 1.4-.2 1.4 .1 1.4 0 1.4 .1 1.4 .1 1.4 .3 1.4-.2 1.4-.5 1.4 .1 1.4-.1 1.4-.2 1.4 .2 1.4 .3 1.4 .1 1.4-.2 1.4 .4 1.4 .4 1.4-.2 1.4-.3 1.4-.3 1.4-.1 1.4 .2 1.4 .2 1.4 .3 1.4 .3 1.4-.3 1.4-.1 1.4-.1 1.4-.6 1.4-.2 1.4 .2 1.4 .2 1.4 .1 1.4 .2 1.4 .3 1.4 .1 1.4-.3 1.4-.2 1.4 .1 1.4-.1 1.4-.2 1.4 .1 1.4 .2 1.4 .1 1.4 .2 1.4-.2 1.4-.4 1.4-.1 1.4 0 1.4 .1 1.4 0 1.4 .2 1.4 .2 1.4-.1 1.4-.3 1.4-.1 1.4 .4 1.4 .1 1.4 0 1.4 0 1.4 .1 1.4 .1 1.4-.1 1.4-.3 1.4-.3 1.4 .1 1.4 .1 1.4-.1 1.4 0 1.4 .3 1.4-.1 1.4-.4 1.4-.1 1.4 .3 1.4 .1 1.4 0 1.4-.1 1.4 0 1.4 .2 1.4 .1 1.4-.3 1.4-.2 1.4-.1 1.4 .3 1.4 .1 1.4 0 1.4-.2 1.4-.5 1.4-.3 1.4 .2 1.4 .4 1.4 .2 1.4 0 1.4 .1 1.4 0 1.4-.2 1.4-.4 1.4 .3 1.4 .3 1.4-.4 1.4 .2 1.4 .5 1.4-.2 1.4-.3 1.4 .1 1.4 .3 1.4 0 1.4-.3 1.4 .1 1.4 .2 1.4 .1 1.4 0 1.4-.5 1.4-.3 1.4 .5 1.4 .4 1.4-.1 1.4 0 1.4 0 1.4-.3 1.4-.1 1.4-.1 1.4 0 1.4 .2 1.4 .1 1.4-.4 1.4-.3 1.4 0 1.4 .3 1.4 .1 1.4-.1 1.4-.2 1.4 .2 1.4 .2 1.4 0 1.4 0 1.4 0 1.4-.4 1.4-.1 1.4 .3 1.4 .2 1.4-.3 1.4-.6 1.4-.3 1.4 .1 1.4 .4 1.4 .5 1.4 .1 1.4-.2 1.4 0 1.4 0 1.4-.1 1.4 0 1.4-.3 1.4-.4 1.4 .4 1.4 .4 1.4-.2 1.4-.3 1.4-.1 1.4 .2 1.4 .2 1.4-.3 1.4-.6 1.4-.3 1.4 .2 1.4-.1 1.4 .2 1.4 .6 1.4 0 1.4-.4 1.4 .3 1.4 .1 1.4-.2 1.4-.1 1.4-.3 1.4-.3 1.4 0 1.4 .3 1.4 .2 1.4-.2 1.4-.3 1.4 .2 1.4 .3 1.4 .1 1.4 0 1.4-.3 1.4-.3 1.4 .2 1.4 .1 1.4 0 1.4 .3 1.4 .2 1.4-.3 1.4 0 1.4 .2 1.4-.4 1.4-.3 1.4 .1 1.4 .3 1.4 .1 1.4-.1 1.4 .1 1.4 .3 1.4-.3 1.4-.4 1.4 .1 1.4 .3 1.4 0 1.4-.2 1.4-.2 1.4-.2 1.4-.1 1.4 .2 1.4 .2 1.4 0 1.4-.1 1.4-.1 1.4-.1 1.4 .1 1.4 .3 1.4 0 1.4-.1 1.4-.1 1.4-.1 1.4-.2 1.4 .1 1.4 .3 1.4 .2 1.4 0 1.4 0 1.4 .1 1.4 0 1.4 0 1.4 0 1.4-.2 1.4-.1 1.4 0 1.4 0 1.4 .2 1.4 .3 1.4-.2 1.4-.4 1.4-.2 1.4 .1 1.4 .3 1.4 .1 1.4-.2 1.4 0 1.4 .1 1.4-.2 1.4 .2 1.4 .4 1.4 .1 1.4-.3 1.4-.3 1.4-.2 1.4 .1 1.4 .1 1.4-.1 1.4-.1 1.4 0 1.4 0 1.4 .2 1.4 .2 1.4-.4 1.4-.5 1.4-.2 1.4 0 1.4 .3 1.4 .3 1.4 0 1.4-.2 1.4 0 1.4-.3 1.4-.3 1.4-.1 1.4 .4 1.4 .3 1.4-.1 1.4 .2 1.4 .1 1.4-.3 1.4-.3 1.4-.1 1.4 .1 1.4 .2 1.4 0 1.4 .1 1.4 0 1.4-.2 1.4-.2 1.4-.1 1.4-.1 1.4-.2 1.4 .1 1.4 0 1.4 0 1.4 .2 1.4-.5 1.4-.2 1.4-.1 1.4-.3 1.4-.1 1.4-.1 1.4 .1 1.4 .2 1.4 .3 1.4 .1 1.4 0 1.4-.1 1.4-.3 1.4-.3 1.4 0 1.4-.3 1.4 0 1.4 .3 1.4-.1 1.4-.3 1.4 0 1.4-.4 1.4-.5 1.4-.3 1.4-.4 1.4-.8 1.4-1.1 1.4-1.2 1.4-1.8 1.4-2.3 1.4-2.7 1.4-2.6 1.4-1.5 1.4-.9 1.4-1.2 1.4-.9 1.4 .3 1.4 .5 1.4 .4 1.4 .3 1.4 .1 1.4 .4 1.4 .4 1.4 .5 1.4 .4 1.4 .1 1.4 0 1.4 0 1.4-.1 1.4 .1 1.4 .4 1.4 0 1.4-.3 1.4 .2 1.4 .6 1.4 .5 1.4 .2 1.4-.3 1.4-.3 1.4 .4 1.4 .5 1.4 .6 1.4 .6 1.4 .9 1.4 1.1 1.4 .6 1.4 0 1.4 .1 1.4 .5 1.4 .2 1.4 .3 1.4 .2 1.4-.4 1.4 0 1.4 .2 1.4 .2 1.4 .4 1.4 .2 1.4-.1 1.4-.1 1.4 .2 1.4-.2 1.4 .3 1.4 .3 1.4-.3 1.4 0 1.4 .1 1.4-.1 1.4 .1 1.4 .6 1.4 .1 1.4 0 1.4 .2 1.4 0 1.4 .2 1.4 .7 1.4 .6 1.4 0 1.4-.4 1.4-.3 1.4 .1 1.4 .2 1.4 .3 1.4 .1 1.4 0 1.4 0 1.4-.2 1.4 0 1.4 .2 1.4-.1 1.4 0 1.4 .2 1.4 .2 1.4 .3 1.4 .3 1.4-.1 1.4-.1 1.4 .1 1.4-.1 1.4-.2 1.4 .1 1.4-.1 1.4 0 1.4 .3 1.4 .2 1.4 .3 1.4-.2 1.4-.4 1.4 .4 1.4 .6 1.4 .1 1.4-.1 1.4-.4 1.4-.5 1.4 .1 1.4 .5 1.4 .1 1.4-.4 1.4 0 1.4-.2 1.4-.3 1.4 .2 1.4 .6 1.4 0 1.4-.4 1.4-.2 1.4-.4 1.4-.6 1.4 0 1.4 .4 1.4 .6 1.4 .7 1.4 .5 1.4 .1 1.4 .4 1.4 .5 1.4 .2 1.4-.3 1.4 0 1.4 .7 1.4 .3 1.4-.2 1.4 .1 1.4 .4 1.4 .1 1.4 .2 1.4 .1 1.4-.2 1.4-.3 1.4-.2 1.4-.2 1.4 .5 1.4 .6 1.4-.1 1.4-.2 1.4-.1 1.4-.1 1.4 .2 1.4 .5 1.4-.1 1.4-.1 1.4 .4 1.4 .2 1.4-.3 1.4-.2 1.4-.5 1.4 0 1.4 .5 1.4 .2 1.4-.1 1.4-.1 1.4 .1 1.4 .4 1.4 .2 1.4-.5 1.4-.2 1.4 .4 1.4 .2 1.4-.1 1.4 .2 1.4 .2 1.4-.2 1.4-.5 1.4-.3 1.4 0 1.4 .2 1.4 .2 1.4 0 1.4 .1 1.4 .2 1.4-.3 1.4-.1 1.4 0 1.4 0 1.4 .2 1.4 .1 1.4 .1 1.4 .1 1.4-.2 1.4-.4 1.4-.4 1.4-.3 1.4 .2 1.4 .1 1.4 0 1.4-.2 1.4-.5 1.4-.3 1.4 .3 1.4 .4 1.4-.2 1.4-.3 1.4 0 1.4 .2 1.4-.1 1.4-.3 1.4-.1 1.4 .3 1.4 .1 1.4 0 1.4 0 1.4-.4 1.4-.1 1.4 .1 1.4-.1 1.4-.2 1.4-.1 1.4 0 1.4 .2 1.4 0 1.4 0 1.4-.1 1.4-.5 1.4 .2 1.4 .3 1.4-.4 1.4-.2 1.4 .5 1.4 0 1.4-.3 1.4 .1 1.4-.2 1.4-.1 1.4 .3 1.4 .1 1.4-.1 1.4 .1 1.4 .2 1.4 .2 1.4 .3 1.4 .1 1.4-.2 1.4-.3 1.4 .1 1.4 .6 1.4 .5 1.4 0 1.4-.2 1.4 0 1.4 0 1.4 .1 1.4 .2 1.4 .1 1.4 0 1.4-.2 1.4-.1 1.4-.2 1.4 .2 1.4 .8 1.4 .4 1.4-.5 1.4-.7 1.4-.2 1.4 .1 1.4-.4 1.4 0 1.4 .1 .6-.1"/>
</g>
<g class="c" stroke-width="2.3">
<path stroke-width="1.15" d="M152.2 911.7l.4 .3 1.4 3.9 1.4 4.8 1.4 4.3 1.4 8.4 1.4 1.7 1.4-1.5 1.4-1.5 1.4-1.7 1.4-3.5 1.4-4.1 1.4-4.3 1.4-4.4 1.4-5.6 1.4-6.5 1.4-6.8 1.4-6.1 1.4-4.7 1.4-3.7 1.4-2.8 1.4-2 1.4-.5 1.4 1.5 1.4 1.8 1.4 4.9 1.4 5.9 1.4 6.4 1.4 6.8 1.4 6.6 1.4 6.3 1.4 6.2 1.4 6.5 1.4 6.1 1.4 4.9 1.4 4.8 1.4 4.8 1.4 4.1 1.4 2.8 1.4 2.1 1.4 1.2 1.4 1.2 1.4 2.9 1.4 2.7 1.4 1.1 1.4 1.1 1.4 .9 1.4 1.3 1.4 1.9 1.4 .4 1.4-.4 1.4 .8 1.4 1.5 1.4 1.1 1.4 .6 1.4 .3 1.4 .6 1.4 .3 1.4 0 1.4 .3 1.4 .3 1.4 .1 1.4-.1 1.4 .2 1.4 .6 1.4 .6 1.4 0 1.4-.5 1.4 .2 1.4 .4 1.4-.2 1.4 .4 1.4 .8 1.4 .7 1.4 0 1.4-.4 1.4-.1 1.4 .3 1.4 .3 1.4-.3 1.4-.2 1.4 .1 1.4-.1 1.4-.3 1.4-.1 1.4 .1 1.4 .3 1.4 .4 1.4 0 1.4-.3 1.4-.1 1.4 0 1.4 .1 1.4-.1 1.4-.3 1.4-.3 1.4-.2 1.4-.5 1.4-.3 1.4 .4 1.4 .2 1.4 .6 1.4 .3 1.4-.8 1.4-.5 1.4 .3 1.4 0 1.4-.3 1.4-.1 1.4 .1 1.4-.4 1.4-.5 1.4-.2 1.4-.2 1.4-.5 1.4-.3 1.4-.2 1.4-.1 1.4-.5 1.4-.7 1.4-.7 1.4-.7 1.4-.9 1.4-.2 1.4-.3 1.4-.6 1.4-.4 1.4-.6 1.4-.5 1.4-.6 1.4-.8 1.4-1.3 1.4-1.2 1.4-.2 1.4-.5 1.4-1.3 1.4-1.1 1.4-.7 1.4-.4 1.4-.1 1.4-.4 1.4-.2 1.4 .1 1.4 .2 1.4 .8 1.4 1.2 1.4 .9 1.4 .7 1.4 .6 1.4 .4 1.4 .9 1.4 .9 1.4 1 1.4 .8 1.4 .6 1.4 .4 1.4 1.2 1.4 1.1 1.4 .1 1.4 .2 1.4 1.1 1.4 .6 1.4-.2 1.4 .3 1.4 .3 1.4 .3 1.4 .9 1.4 .6 1.4 .1 1.4 .3 1.4 .4 1.4 .1 1.4 0 1.4-.1 1.4 .3 1.4 .7 1.4 0 1.4 0 1.4 0 1.4-.1 1.4 .2 1.4 .3 1.4-.1 1.4 0 1.4 .4 1.4 .4 1.4 .1 1.4-.3 1.4-.4 1.4 .1 1.4 .8 1.4 .3 1.4-.1 1.4 .2 1.4 .3 1.4 .2 1.4-.1 1.4 0 1.4 .1 1.4-.2 1.4 .3 1.4 .4 1.4 .3 1.4 .4 1.4-.4 1.4-1.1 1.4-.3 1.4 .5 1.4 0 1.4 .1 1.4 0 1.4-.8 1.4-.2 1.4 .7 1.4 .2 1.4-.1 1.4-.1 1.4-.5 1.4-.2 1.4 .2 1.4-.2 1.4-.1 1.4 .5 1.4 .2 1.4-.2 1.4-.4 1.4-.3 1.4-.1 1.4 .1 1.4 .2 1.4 0 1.4 .2 1.4 .4 1.4 0 1.4-.6 1.4 0 1.4 0 1.4-.5 1.4-.4 1.4 .3 1.4 .4 1.4-.1 1.4-.2 1.4 .1 1.4 .2 1.4-.6 1.4-.7 1.4-.1 1.4-.5 1.4-.2 1.4 1.1 1.4 .9 1.4-.4 1.4-.6 1.4 .3 1.4 .6 1.4 0 1.4-.2 1.4 .1 1.4 .2 1.4 .3 1.4 .1 1.4-.3 1.4-.1 1.4 .2 1.4 .3 1.4 .1 1.4-.2 1.4 .2 1.4 .1 1.4 .3 1.4 .9 1.4 .3 1.4-.4 1.4 .2 1.4-.3 1.4-.5 1.4 .6 1.4 .5 1.4 0 1.4-.2 1.4 .3 1.4 .5 1.4 .5 1.4 0 1.4 0 1.4 .2 1.4-.3 1.4-.5 1.4 .1 1.4 1 1.4 .4 1.4-.1 1.4-.2 1.4-.1 1.4-.1 1.4-.1 1.4 0 1.4 .4 1.4 .5 1.4-.2 1.4-.4 1.4-.3 1.4 .4 1.4 .6 1.4 0 1.4-.4 1.4-.3 1.4-.1 1.4 .4 1.4 .4 1.4-.3 1.4-.1 1.4 .1 1.4-.1 1.4-.3 1.4 .1 1.4 .4 1.4 .2 1.4 0 1.4 .4 1.4 .3 1.4-.5 1.4-.3 1.4 .2 1.4-.1 1.4-.1 1.4 .6 1.4 .5 1.4-.5 1.4-.6 1.4 0 1.4 .1 1.4-.3 1.4 .2 1.4 .5 1.4 0 1.4 .4 1.4 .3 1.4-.3 1.4 .2 1.4 .2 1.4-.6 1.4-.7 1.4-.1 1.4 .7 1.4 .7 1.4-.3 1.4-.8 1.4-.2 1.4 .3 1.4 .3 1.4 0 1.4 .1 1.4 0 1.4-.1 1.4 0 1.4 .1 1.4 0 1.4 .5 1.4 .3 1.4-.3 1.4-.7 1.4-.3 1.4 0 1.4-.4 1.4 .2 1.4 .9 1.4 .2 1.4-.6 1.4-.5 1.4 .2 1.4 .4 1.4 .7 1.4 .4 1.4-.6 1.4-.8 1.4-.1 1.4 .3 1.4 0 1.4-.1 1.4 0 1.4 .2 1.4 .6 1.4 .4 1.4-.3 1.4-.3 1.4-.1 1.4 0 1.4-.2 1.4-.2 1.4-.4 1.4 .2 1.4 .6 1.4 .1 1.4 .2 1.4-.2 1.4-.6 1.4 0 1.4 .6 1.4 .1 1.4 0 1.4 .3 1.4-.3 1.4-.6 1.4 .2 1.4 .6 1.4-.2 1.4-.4 1.4 .7 1.4 .4 1.4-.1 1.4-.5 1.4-.4 1.4 .4 1.4 .7 1.4 0 1.4-.3 1.4-.3 1.4-.4 1.4-.3 1.4 .4 1.4 .3 1.4-.1 1.4 .3 1.4-.1 1.4-.5 1.4 0 1.4 .2 1.4 0 1.4-.1 1.4-.1 1.4 0 1.4-.2 1.4 0 1.4 .6 1.4 .1 1.4-.4 1.4 0 1.4 0 1.4 .1 1.4 .3 1.4 .2 1.4 .1 1.4-.2 1.4-.1 1.4-.2 1.4 0 1.4 .2 1.4 .1 1.4 .1 1.4-.3 1.4-.3 1.4 .1 1.4 .4 1.4 0 1.4-.3 1.4-.4 1.4 0 1.4 .2 1.4-.3 1.4-.3 1.4 .7 1.4 .3 1.4-.7 1.4-.3 1.4 .1 1.4 .2 1.4 .3 1.4-.2 1.4 0 1.4 .3 1.4-.1 1.4-.1 1.4-.3 1.4-.5 1.4 .4 1.4 .8 1.4 0 1.4-.3 1.4 0 1.4 0 1.4 .3 1.4 .1 1.4-.8 1.4-.7 1.4 0 1.4 .4 1.4 .7 1.4 0 1.4-.7 1.4-.3 1.4 .6 1.4 0 1.4-.6 1.4 .1 1.4 .4 1.4 .1 1.4-.3 1.4-.3 1.4-.3 1.4 .4 1.4 .8 1.4 0 1.4-.7 1.4-.5 1.4-.3 1.4 .4 1.4 .4 1.4 0 1.4-.2 1.4-.2 1.4 .2 1.4 .4 1.4 .6 1.4 0 1.4-.7 1.4-.5 1.4 0 1.4-.1 1.4-.1 1.4 .1 1.4 0 1.4 .3 1.4 0 1.4-.1 1.4-.2 1.4-.3 1.4-.1 1.4 .1 1.4 .2 1.4 .1 1.4-.2 1.4-.3 1.4 0 1.4-.2 1.4 .1 1.4-.1 1.4-.3 1.4 .5 1.4 .3 1.4-.2 1.4-.1 1.4-.2 1.4-.1 1.4 0 1.4 .1 1.4 0 1.4-.2 1.4 .3 1.4 .1 1.4-.2 1.4 0 1.4-.1 1.4-.3 1.4 .3 1.4 .3 1.4-.1 1.4-.1 1.4-.4 1.4 .1 1.4 .3 1.4 .1 1.4-.5 1.4-.3 1.4 .5 1.4 .5 1.4-.1 1.4-.7 1.4-.3 1.4 .3 1.4-.4 1.4-.6 1.4 .3 1.4-.2 1.4-.1 1.4 .5 1.4 .5 1.4-.1 1.4 .1 1.4 .6 1.4-.1 1.4-.7 1.4-.6 1.4-.3 1.4 .2 1.4 .4 1.4 .2 1.4 0 1.4-.1 1.4-.4 1.4 .1 1.4 .3 1.4 .2 1.4 0 1.4-.4 1.4-.2 1.4-.2 1.4-.5 1.4-.1 1.4 .5 1.4 .2 1.4-.4 1.4-.4 1.4 0 1.4 .1 1.4-.4 1.4-.3 1.4 .7 1.4 .6 1.4-.2 1.4-.3 1.4 .1 1.4-.3 1.4-.7 1.4 .4 1.4 .7 1.4 .4 1.4 .2 1.4-.2 1.4-.4 1.4-.1 1.4-.1 1.4-.4 1.4 .1 1.4 .6 1.4 .1 1.4-.6 1.4-.3 1.4 .3 1.4 .2 1.4-.1 1.4-.2 1.4-.5 1.4-.2 1.4 .3 1.4 .4 1.4-.2 1.4-.8 1.4-.1 1.4 .3 1.4-.3 1.4 0 1.4 .6 1.4 .2 1.4-.3 1.4-.1 1.4 .1 1.4 0 1.4-.1 1.4-.5 1.4-.2 1.4 .2 1.4 .1 1.4 .2 1.4-.1 1.4-.4 1.4 0 1.4 .3 1.4 0 1.4-.3 1.4 .1 1.4 .8 1.4 .5 1.4-.2 1.4-.8 1.4-.1 1.4 .2 1.4-.5 1.4-.5 1.4 .3 1.4 .1 1.4-.6 1.4-.5 1.4 .3 1.4 .5 1.4-.1 1.4 0 1.4 .3 1.4 0 1.4-.1 1.4-.2 1.4-.2 1.4-.2 1.4 .2 1.4 .4 1.4-.2 1.4-.4 1.4 0 1.4 .3 1.4-.1 1.4-.6 1.4-.1 1.4 .8 1.4 .9 1.4-.2 1.4-.6 1.4 .3 1.4 .2 1.4-.6 1.4-.2 1.4 .4 1.4 0 1.4-.3 1.4 .1 1.4 .6 1.4 .1 1.4-.4 1.4-.7 1.4-.5 1.4 .3 1.4 .3 1.4 0 1.4 0 1.4-.5 1.4-.4 1.4 .3 1.4 0 1.4-.1 1.4 0 1.4-.4 1.4 0 1.4 .7 1.4 .4 1.4 .3 1.4 .1 1.4-.9 1.4-.9 1.4-.1 1.4 .1 1.4 .3 1.4-.1 1.4-.3 1.4 .1 1.4 .1 1.4 .2 1.4 .1 1.4-.2 1.4-.1 1.4-.2 1.4-.3 1.4-.2 1.4 .7 1.4 .9 1.4 .2 1.4-.4 1.4-.6 1.4-.3 1.4 .2 1.4-.2 1.4-.4 1.4-.1 1.4-.1 1.4-.1 1.4-.2 1.4-.2 1.4 .4 1.4 .6 1.4-.4 1.4-.4 1.4 .2 1.4-.2 1.4-.5 1.4 .1 1.4 .4 1.4-.1 1.4 0 1.4 0 1.4-.4 1.4-.3 1.4 .2 1.4-.1 1.4-.7 1.4-.2 1.4 .4 1.4 .4 1.4 .3 1.4-.4 1.4-.5 1.4 0 1.4-.1 1.4-.1 1.4 0 1.4-.6 1.4-.4 1.4 .1 1.4 0 1.4 .2 1.4 .5 1.4 .3 1.4 .1 1.4-.7 1.4-.7 1.4-.1 1.4 0 1.4 .1 1.4 .3 1.4-.4 1.4-.2 1.4 .5 1.4 .3 1.4-.1 1.4 .1 1.4 0 1.4 0 1.4 .2 1.4-.1 1.4-.2 1.4-.4 1.4-.4 1.4 0 1.4 .3 1.4-.2 1.4 .1 1.4 .5 1.4-.3 1.4-.9 1.4-.2 1.4 .5 1.4 .2 1.4-.1 1.4 0 1.4 .1 1.4 0 1.4-.1 1.4 .2 1.4 .7 1.4 .1 1.4-.9 1.4-.5 1.4 .2 1.4 .1 1.4-.3 1.4 0 1.4 .1 1.4-.3 1.4-.1 1.4-.1 1.4-.4 1.4 .1 1.4 .6 1.4 .3 1.4-.3 1.4-.5 1.4 .4 1.4 .7 1.4 0 1.4-.5 1.4-.1 1.4 .2 1.4-.3 1.4-.4 1.4 .4 1.4 .6 1.4 .2 1.4-.2 1.4-.2 1.4-.1 1.4-.2 1.4 .3 1.4 .7 1.4-.4 1.4-.7 1.4 0 1.4 .4 1.4 .1 1.4-.7 1.4-.5 1.4 .3 1.4 .4 1.4 .3 1.4 .2 1.4 0 1.4-.4 1.4-.2 1.4 .6 1.4 .5 1.4-.4 1.4-.4 1.4 .1 1.4 .1 1.4-.5 1.4-.1 1.4 .4 1.4 0 1.4-.3 1.4-.1 1.4 0 1.4 0 1.4-.2 1.4-.2 1.4 .4 1.4 .1 1.4-.3 1.4 0 1.4 .2 1.4-.3 1.4-.1 1.4 .2 1.4 .8 1.4 .7 1.4-.3 1.4-.7 1.4-.2 1.4 0 1.4 .1 1.4 0 1.4-.4 1.4 .1 1.4 .3 1.4 .1 1.4-.3 1.4-.4 1.4 .2 1.4 .2 1.4-.1 1.4-.1 1.4-.6 1.4-.3 1.4 .8 1.4 .3 1.4-.2 1.4 0 1.4 0 1.4-.4 1.4-.3 1.4 .3 1.4 .1 1.4-.2 1.4 .1 1.4-.3 1.4-.1 1.4 .5 1.4-.4 1.4-.5 1.4 .3 1.4 .6 1.4 0 1.4-.5 1.4 0 1.4 0 1.4-.3 1.4-.1 1.4-.1 1.4-.3 1.4-.1 1.4 .1 1.4-.1 1.4-.3 1.4 .1 1.4 .3 1.4 0 1.4 0 1.4 0 1.4-.1 1.4-.6 1.4-1.1 1.4-.7 1.4-.1 1.4 .4 1.4-.3 1.4-1.3 1.4 0 1.4 .7 1.4 .3 1.4-.4 1.4-.7 1.4-.6 1.4-.8 1.4-.9 1.4-1.4 1.4-1.7 1.4-1.3 1.4-1.2 1.4-1.4 1.4-2 1.4-2.3 1.4-2.1 1.4-2.6 1.4-2.8 1.4-2.7 1.4-2.3 1.4-2.1 1.4-2.1 1.4-1.8 1.4-1.4 1.4-1.2 1.4-.8 1.4-.1 1.4 0 1.4 .1 1.4 .5 1.4 1.5 1.4 1.9 1.4 2.4 1.4 2.6 1.4 2.7 1.4 2.9 1.4 3 1.4 2.9 1.4 2.3 1.4 2.3 1.4 2.3 1.4 1.9 1.4 1.7 1.4 1.3 1.4 .8 1.4 1.4 1.4 1.6 1.4 1.2 1.4 .7 1.4 .3 1.4 .4 1.4 .5 1.4 .5 1.4 .8 1.4 .5 1.4 .2 1.4 .7 1.4 .2 1.4-.3 1.4 0 1.4 .3 1.4 .2 1.4 .8 1.4 .8 1.4-.1 1.4-.1 1.4 0 1.4 .3 1.4 .2 1.4 .2 1.4 .5 1.4 .4 1.4-.3 1.4-.4 1.4-.1 1.4 .3 1.4 .2 1.4 .1 1.4 .3 1.4-.1 1.4-.7 1.4 .2 1.4 .6 1.4-.3 1.4-.2 1.4 0 1.4 0 1.4 .8 1.4 .9 1.4-.4 1.4-1 1.4-.2 1.4 .5 1.4 .3 1.4-.4 1.4 0 1.4 .6 1.4 .1 1.4-.6 1.4-.6 1.4-.2 1.4-.1 1.4 .1 1.4 .5 1.4 .1 1.4 .3 1.4 .5 1.4-.6 1.4-.7 1.4 .2 1.4 0 1.4-.8 1.4-.4 1.4-.1 1.4 0 1.4 0 1.4-.9 1.4-.3 1.4 .3 1.4 0 1.4 0 1.4-.3 1.4-.1 1.4-.4 1.4-.8 1.4-.2 1.4 .1 1.4 0 1.4-.2 1.4-.6 1.4 0 1.4 .3 1.4-.3 1.4-.1 1.4 .7 1.4-.1 1.4-1.1 1.4 .4 1.4 .8 1.4-.3 1.4-.6 1.4-.3 1.4-.2 1.4 0 1.4 .2 1.4 .2 1.4-.1 1.4-.2 1.4 .2 1.4 .3 1.4 .3 1.4 .5 1.4 .7 1.4 .2 1.4 .1 1.4 .2 1.4 0 1.4 .1 1.4 .3 1.4 .3 1.4 .2 1.4 .5 1.4 .1 1.4-.3 1.4 .1 1.4 .4 1.4 .2 1.4 .4 1.4 .3 1.4-.4 1.4-.5 1.4 .2 1.4 .4 1.4 .8 1.4 .8 1.4-.1 1.4-.6 1.4 .4 1.4 .9 1.4 0 1.4-.1 1.4 .6 1.4 .5 1.4-.3 1.4-.5 1.4 0 1.4-.1 1.4-.4 1.4-.1 1.4 .1 1.4 .1 1.4 .2 1.4 .7 1.4 .3 1.4-.6 1.4-.3 1.4 .2 1.4 .4 1.4 0 1.4-.5 1.4-.5 1.4-.2 .8 .3"/>
<path stroke-width="1.15" d="M152.2 996.1l.4 .3 1.4 3.9 1.4 4.8 1.4 4.3 1.4 8.4 1.4 1.7 1.4-1.5 1.4-1.5 1.4-1.7 1.4-3.5 1.4-4.1 1.4-4.3 1.4-4.4 1.4-5.6 1.4-6.5 1.4-6.8 1.4-6.1 1.4-4.7 1.4-3.7 1.4-2.8 1.4-2 1.4-.5 1.4 1.5 1.4 1.8 1.4 4.9 1.4 5.9 1.4 6.4 1.4 6.8 1.4 6.6 1.4 6.3 1.4 6.2 1.4 6.5 1.4 6.1 1.4 4.9 1.4 4.8 1.4 4.8 1.4 4.1 1.4 2.8 1.4 2.1 1.4 1.2 1.4 1.2 1.4 2.9 1.4 2.7 1.4 1.1 1.4 1.1 1.4 .9 1.4 1.3 1.4 1.9 1.4 .4 1.4-.4 1.4 .8 1.4 1.5 1.4 1.1 1.4 .6 1.4 .3 1.4 .6 1.4 .3 1.4 0 1.4 .3 1.4 .3 1.4 .1 1.4-.1 1.4 .2 1.4 .6 1.4 .6 1.4 0 1.4-.5 1.4 .2 1.4 .4 1.4-.2 1.4 .4 1.4 .8 1.4 .7 1.4 0 1.4-.4 1.4-.1 1.4 .3 1.4 .3 1.4-.3 1.4-.2 1.4 .1 1.4-.1 1.4-.3 1.4-.1 1.4 .1 1.4 .3 1.4 .4 1.4 0 1.4-.3 1.4-.1 1.4 0 1.4 .1 1.4-.1 1.4-.3 1.4-.3 1.4-.2 1.4-.5 1.4-.3 1.4 .4 1.4 .2 1.4 .6 1.4 .3 1.4-.8 1.4-.5 1.4 .3 1.4 0 1.4-.3 1.4-.1 1.4 .1 1.4-.4 1.4-.5 1.4-.2 1.4-.2 1.4-.5 1.4-.3 1.4-.2 1.4-.1 1.4-.5 1.4-.7 1.4-.7 1.4-.7 1.4-.9 1.4-.2 1.4-.3 1.4-.6 1.4-.4 1.4-.6 1.4-.5 1.4-.6 1.4-.8 1.4-1.3 1.4-1.2 1.4-.2 1.4-.5 1.4-1.3 1.4-1.1 1.4-.7 1.4-.4 1.4-.1 1.4-.4 1.4-.2 1.4 .1 1.4 .2 1.4 .8 1.4 1.2 1.4 .9 1.4 .7 1.4 .6 1.4 .4 1.4 .9 1.4 .9 1.4 1 1.4 .8 1.4 .6 1.4 .4 1.4 1.2 1.4 1.1 1.4 .1 1.4 .2 1.4 1.1 1.4 .6 1.4-.2 1.4 .3 1.4 .3 1.4 .3 1.4 .9 1.4 .6 1.4 .1 1.4 .3 1.4 .4 1.4 .1 1.4 0 1.4-.1 1.4 .3 1.4 .7 1.4 0 1.4 0 1.4 0 1.4-.1 1.4 .2 1.4 .3 1.4-.1 1.4 0 1.4 .4 1.4 .4 1.4 .1 1.4-.3 1.4-.4 1.4 .1 1.4 .8 1.4 .3 1.4-.1 1.4 .2 1.4 .3 1.4 .2 1.4-.1 1.4 0 1.4 .1 1.4-.2 1.4 .3 1.4 .4 1.4 .3 1.4 .4 1.4-.4 1.4-1.1 1.4-.3 1.4 .5 1.4 0 1.4 .1 1.4 0 1.4-.8 1.4-.2 1.4 .7 1.4 .2 1.4-.1 1.4-.1 1.4-.5 1.4-.2 1.4 .2 1.4-.2 1.4-.1 1.4 .5 1.4 .2 1.4-.2 1.4-.4 1.4-.3 1.4-.1 1.4 .1 1.4 .2 1.4 0 1.4 .2 1.4 .4 1.4 0 1.4-.6 1.4 0 1.4 0 1.4-.5 1.4-.4 1.4 .3 1.4 .4 1.4-.1 1.4-.2 1.4 .1 1.4 .2 1.4-.6 1.4-.7 1.4-.1 1.4-.5 1.4-.2 1.4 1.1 1.4 .9 1.4-.4 1.4-.6 1.4 .3 1.4 .6 1.4 0 1.4-.2 1.4 .1 1.4 .2 1.4 .3 1.4 .1 1.4-.3 1.4-.1 1.4 .2 1.4 .3 1.4 .1 1.4-.2 1.4 .2 1.4 .1 1.4 .3 1.4 .9 1.4 .3 1.4-.4 1.4 .2 1.4-.3 1.4-.5 1.4 .6 1.4 .5 1.4 0 1.4-.2 1.4 .3 1.4 .5 1.4 .5 1.4 0 1.4 0 1.4 .2 1.4-.3 1.4-.5 1.4 .1 1.4 1 1.4 .4 1.4-.1 1.4-.2 1.4-.1 1.4-.1 1.4-.1 1.4 0 1.4 .4 1.4 .5 1.4-.2 1.4-.4 1.4-.3 1.4 .4 1.4 .6 1.4 0 1.4-.4 1.4-.3 1.4-.1 1.4 .4 1.4 .4 1.4-.3 1.4-.1 1.4 .1 1.4-.1 1.4-.3 1.4 .1 1.4 .4 1.4 .2 1.4 0 1.4 .4 1.4 .3 1.4-.5 1.4-.3 1.4 .2 1.4-.1 1.4-.1 1.4 .6 1.4 .5 1.4-.5 1.4-.6 1.4 0 1.4 .1 1.4-.3 1.4 .2 1.4 .5 1.4 0 1.4 .4 1.4 .3 1.4-.3 1.4 .2 1.4 .2 1.4-.6 1.4-.7 1.4-.1 1.4 .7 1.4 .7 1.4-.3 1.4-.8 1.4-.2 1.4 .3 1.4 .3 1.4 0 1.4 .1 1.4 0 1.4-.1 1.4 0 1.4 .1 1.4 0 1.4 .5 1.4 .3 1.4-.3 1.4-.7 1.4-.3 1.4 0 1.4-.4 1.4 .2 1.4 .9 1.4 .2 1.4-.6 1.4-.5 1.4 .2 1.4 .4 1.4 .7 1.4 .4 1.4-.6 1.4-.8 1.4-.1 1.4 .3 1.4 0 1.4-.1 1.4 0 1.4 .2 1.4 .6 1.4 .4 1.4-.3 1.4-.3 1.4-.1 1.4 0 1.4-.2 1.4-.2 1.4-.4 1.4 .2 1.4 .6 1.4 .1 1.4 .2 1.4-.2 1.4-.6 1.4 0 1.4 .6 1.4 .1 1.4 0 1.4 .3 1.4-.3 1.4-.6 1.4 .2 1.4 .6 1.4-.2 1.4-.4 1.4 .7 1.4 .4 1.4-.1 1.4-.5 1.4-.4 1.4 .4 1.4 .7 1.4 0 1.4-.3 1.4-.3 1.4-.4 1.4-.3 1.4 .4 1.4 .3 1.4-.1 1.4 .3 1.4-.1 1.4-.5 1.4 0 1.4 .2 1.4 0 1.4-.1 1.4-.1 1.4 0 1.4-.2 1.4 0 1.4 .6 1.4 .1 1.4-.4 1.4 0 1.4 0 1.4 .1 1.4 .3 1.4 .2 1.4 .1 1.4-.2 1.4-.1 1.4-.2 1.4 0 1.4 .2 1.4 .1 1.4 .1 1.4-.3 1.4-.3 1.4 .1 1.4 .4 1.4 0 1.4-.3 1.4-.4 1.4 0 1.4 .2 1.4-.3 1.4-.3 1.4 .7 1.4 .3 1.4-.7 1.4-.3 1.4 .1 1.4 .2 1.4 .3 1.4-.2 1.4 0 1.4 .3 1.4-.1 1.4-.1 1.4-.3 1.4-.5 1.4 .4 1.4 .8 1.4 0 1.4-.3 1.4 0 1.4 0 1.4 .3 1.4 .1 1.4-.8 1.4-.7 1.4 0 1.4 .4 1.4 .7 1.4 0 1.4-.7 1.4-.3 1.4 .6 1.4 0 1.4-.6 1.4 .1 1.4 .4 1.4 .1 1.4-.3 1.4-.3 1.4-.3 1.4 .4 1.4 .8 1.4 0 1.4-.7 1.4-.5 1.4-.3 1.4 .4 1.4 .4 1.4 0 1.4-.2 1.4-.2 1.4 .2 1.4 .4 1.4 .6 1.4 0 1.4-.7 1.4-.5 1.4 0 1.4-.1 1.4-.1 1.4 .1 1.4 0 1.4 .3 1.4 0 1.4-.1 1.4-.2 1.4-.3 1.4-.1 1.4 .1 1.4 .2 1.4 .1 1.4-.2 1.4-.3 1.4 0 1.4-.2 1.4 .1 1.4-.1 1.4-.3 1.4 .5 1.4 .3 1.4-.2 1.4-.1 1.4-.2 1.4-.1 1.4 0 1.4 .1 1.4 0 1.4-.2 1.4 .3 1.4 .1 1.4-.2 1.4 0 1.4-.1 1.4-.3 1.4 .3 1.4 .3 1.4-.1 1.4-.1 1.4-.4 1.4 .1 1.4 .3 1.4 .1 1.4-.5 1.4-.3 1.4 .5 1.4 .5 1.4-.1 1.4-.7 1.4-.3 1.4 .3 1.4-.4 1.4-.6 1.4 .3 1.4-.2 1.4-.1 1.4 .5 1.4 .5 1.4-.1 1.4 .1 1.4 .6 1.4-.1 1.4-.7 1.4-.6 1.4-.3 1.4 .2 1.4 .4 1.4 .2 1.4 0 1.4-.1 1.4-.4 1.4 .1 1.4 .3 1.4 .2 1.4 0 1.4-.4 1.4-.2 1.4-.2 1.4-.5 1.4-.1 1.4 .5 1.4 .2 1.4-.4 1.4-.4 1.4 0 1.4 .1 1.4-.4 1.4-.3 1.4 .7 1.4 .6 1.4-.2 1.4-.3 1.4 .1 1.4-.3 1.4-.7 1.4 .4 1.4 .7 1.4 .4 1.4 .2 1.4-.2 1.4-.4 1.4-.1 1.4-.1 1.4-.4 1.4 .1 1.4 .6 1.4 .1 1.4-.6 1.4-.3 1.4 .3 1.4 .2 1.4-.1 1.4-.2 1.4-.5 1.4-.2 1.4 .3 1.4 .4 1.4-.2 1.4-.8 1.4-.1 1.4 .3 1.4-.3 1.4 0 1.4 .6 1.4 .2 1.4-.3 1.4-.1 1.4 .1 1.4 0 1.4-.1 1.4-.5 1.4-.2 1.4 .2 1.4 .1 1.4 .2 1.4-.1 1.4-.4 1.4 0 1.4 .3 1.4 0 1.4-.3 1.4 .1 1.4 .8 1.4 .5 1.4-.2 1.4-.8 1.4-.1 1.4 .2 1.4-.5 1.4-.5 1.4 .3 1.4 .1 1.4-.6 1.4-.5 1.4 .3 1.4 .5 1.4-.1 1.4 0 1.4 .3 1.4 0 1.4-.1 1.4-.2 1.4-.2 1.4-.2 1.4 .2 1.4 .4 1.4-.2 1.4-.4 1.4 0 1.4 .3 1.4-.1 1.4-.6 1.4-.1 1.4 .8 1.4 .9 1.4-.2 1.4-.6 1.4 .3 1.4 .2 1.4-.6 1.4-.2 1.4 .4 1.4 0 1.4-.3 1.4 .1 1.4 .6 1.4 .1 1.4-.4 1.4-.7 1.4-.5 1.4 .3 1.4 .3 1.4 0 1.4 0 1.4-.5 1.4-.4 1.4 .3 1.4 0 1.4-.1 1.4 0 1.4-.4 1.4 0 1.4 .7 1.4 .4 1.4 .3 1.4 .1 1.4-.9 1.4-.9 1.4-.1 1.4 .1 1.4 .3 1.4-.1 1.4-.3 1.4 .1 1.4 .1 1.4 .2 1.4 .1 1.4-.2 1.4-.1 1.4-.2 1.4-.3 1.4-.2 1.4 .7 1.4 .9 1.4 .2 1.4-.4 1.4-.6 1.4-.3 1.4 .2 1.4-.2 1.4-.4 1.4-.1 1.4-.1 1.4-.1 1.4-.2 1.4-.2 1.4 .4 1.4 .6 1.4-.4 1.4-.4 1.4 .2 1.4-.2 1.4-.5 1.4 .1 1.4 .4 1.4-.1 1.4 0 1.4 0 1.4-.4 1.4-.3 1.4 .2 1.4-.1 1.4-.7 1.4-.2 1.4 .4 1.4 .4 1.4 .3 1.4-.4 1.4-.5 1.4 0 1.4-.1 1.4-.1 1.4 0 1.4-.6 1.4-.4 1.4 .1 1.4 0 1.4 .2 1.4 .5 1.4 .3 1.4 .1 1.4-.7 1.4-.7 1.4-.1 1.4 0 1.4 .1 1.4 .3 1.4-.4 1.4-.2 1.4 .5 1.4 .3 1.4-.1 1.4 .1 1.4 0 1.4 0 1.4 .2 1.4-.1 1.4-.2 1.4-.4 1.4-.4 1.4 0 1.4 .3 1.4-.2 1.4 .1 1.4 .5 1.4-.3 1.4-.9 1.4-.2 1.4 .5 1.4 .2 1.4-.1 1.4 0 1.4 .1 1.4 0 1.4-.1 1.4 .2 1.4 .7 1.4 .1 1.4-.9 1.4-.5 1.4 .2 1.4 .1 1.4-.3 1.4 0 1.4 .1 1.4-.3 1.4-.1 1.4-.1 1.4-.4 1.4 .1 1.4 .6 1.4 .3 1.4-.3 1.4-.5 1.4 .4 1.4 .7 1.4 0 1.4-.5 1.4-.1 1.4 .2 1.4-.3 1.4-.4 1.4 .4 1.4 .6 1.4 .2 1.4-.2 1.4-.2 1.4-.1 1.4-.2 1.4 .3 1.4 .7 1.4-.4 1.4-.7 1.4 0 1.4 .4 1.4 .1 1.4-.7 1.4-.5 1.4 .3 1.4 .4 1.4 .3 1.4 .2 1.4 0 1.4-.4 1.4-.2 1.4 .6 1.4 .5 1.4-.4 1.4-.4 1.4 .1 1.4 .1 1.4-.5 1.4-.1 1.4 .4 1.4 0 1.4-.3 1.4-.1 1.4 0 1.4 0 1.4-.2 1.4-.2 1.4 .4 1.4 .1 1.4-.3 1.4 0 1.4 .2 1.4-.3 1.4-.1 1.4 .2 1.4 .8 1.4 .7 1.4-.3 1.4-.7 1.4-.2 1.4 0 1.4 .1 1.4 0 1.4-.4 1.4 .1 1.4 .3 1.4 .1 1.4-.3 1.4-.4 1.4 .2 1.4 .2 1.4-.1 1.4-.1 1.4-.6 1.4-.3 1.4 .8 1.4 .3 1.4-.2 1.4 0 1.4 0 1.4-.4 1.4-.3 1.4 .3 1.4 .1 1.4-.2 1.4 .1 1.4-.3 1.4-.1 1.4 .5 1.4-.4 1.4-.5 1.4 .3 1.4 .6 1.4 0 1.4-.5 1.4 0 1.4 0 1.4-.3 1.4-.1 1.4-.1 1.4-.3 1.4-.1 1.4 .1 1.4-.1 1.4-.3 1.4 .1 1.4 .3 1.4 0 1.4 0 1.4 0 1.4-.1 1.4-.6 1.4-1.1 1.4-.7 1.4-.1 1.4 .4 1.4-.3 1.4-1.3 1.4 0 1.4 .7 1.4 .3 1.4-.4 1.4-.7 1.4-.6 1.4-.8 1.4-.9 1.4-1.4 1.4-1.7 1.4-1.3 1.4-1.2 1.4-1.4 1.4-2 1.4-2.3 1.4-2.1 1.4-2.6 1.4-2.8 1.4-2.7 1.4-2.3 1.4-2.1 1.4-2.1 1.4-1.8 1.4-1.4 1.4-1.2 1.4-.8 1.4-.1 1.4 0 1.4 .1 1.4 .5 1.4 1.5 1.4 1.9 1.4 2.4 1.4 2.6 1.4 2.7 1.4 2.9 1.4 3 1.4 2.9 1.4 2.3 1.4 2.3 1.4 2.3 1.4 1.9 1.4 1.7 1.4 1.3 1.4 .8 1.4 1.4 1.4 1.6 1.4 1.2 1.4 .7 1.4 .3 1.4 .4 1.4 .5 1.4 .5 1.4 .8 1.4 .5 1.4 .2 1.4 .7 1.4 .2 1.4-.3 1.4 0 1.4 .3 1.4 .2 1.4 .8 1.4 .8 1.4-.1 1.4-.1 1.4 0 1.4 .3 1.4 .2 1.4 .2 1.4 .5 1.4 .4 1.4-.3 1.4-.4 1.4-.1 1.4 .3 1.4 .2 1.4 .1 1.4 .3 1.4-.1 1.4-.7 1.4 .2 1.4 .6 1.4-.3 1.4-.2 1.4 0 1.4 0 1.4 .8 1.4 .9 1.4-.4 1.4-1 1.4-.2 1.4 .5 1.4 .3 1.4-.4 1.4 0 1.4 .6 1.4 .1 1.4-.6 1.4-.6 1.4-.2 1.4-.1 1.4 .1 1.4 .5 1.4 .1 1.4 .3 1.4 .5 1.4-.6 1.4-.7 1.4 .2 1.4 0 1.4-.8 1.4-.4 1.4-.1 1.4 0 1.4 0 1.4-.9 1.4-.3 1.4 .3 1.4 0 1.4 0 1.4-.3 1.4-.1 1.4-.4 1.4-.8 1.4-.2 1.4 .1 1.4 0 1.4-.2 1.4-.6 1.4 0 1.4 .3 1.4-.3 1.4-.1 1.4 .7 1.4-.1 1.4-1.1 1.4 .4 1.4 .8 1.4-.3 1.4-.6 1.4-.3 1.4-.2 1.4 0 1.4 .2 1.4 .2 1.4-.1 1.4-.2 1.4 .2 1.4 .3 1.4 .3 1.4 .5 1.4 .7 1.4 .2 1.4 .1 1.4 .2 1.4 0 1.4 .1 1.4 .3 1.4 .3 1.4 .2 1.4 .5 1.4 .1 1.4-.3 1.4 .1 1.4 .4 1.4 .2 1.4 .4 1.4 .3 1.4-.4 1.4-.5 1.4 .2 1.4 .4 1.4 .8 1.4 .8 1.4-.1 1.4-.6 1.4 .4 1.4 .9 1.4 0 1.4-.1 1.4 .6 1.4 .5 1.4-.3 1.4-.5 1.4 0 1.4-.1 1.4-.4 1.4-.1 1.4 .1 1.4 .1 1.4 .2 1.4 .7 1.4 .3 1.4-.6 1.4-.3 1.4 .2 1.4 .4 1.4 0 1.4-.5 1.4-.5 1.4-.2 .8 .3"/>
<path stroke-width="1.15" d="M152.2 1065.1l.4 .4 1.4 5.2 1.4 6.3 1.4 5.7 1.4 11.2 1.4 2.3 1.4-2 1.4-2 1.4-2.3 1.4-4.6 1.4-5.5 1.4-5.7 1.4-5.9 1.4-7.4 1.4-8.7 1.4-9 1.4-8.1 1.4-6.3 1.4-4.9 1.4-3.7 1.4-2.6 1.4-.7 1.4 1.9 1.4 2.5 1.4 6.5 1.4 7.9 1.4 8.4 1.4 9 1.4 8.9 1.4 8.4 1.4 8.2 1.4 8.6 1.4 8.2 1.4 6.5 1.4 6.4 1.4 6.4 1.4 5.4 1.4 3.7 1.4 2.8 1.4 1.5 1.4 1.7 1.4 3.9 1.4 3.6 1.4 1.5 1.4 1.4 1.4 1.2 1.4 1.7 1.4 2.6 1.4 .5 1.4-.5 1.4 1 1.4 1.9 1.4 1.5 1.4 .8 1.4 .5 1.4 .7 1.4 .5 1.4 0 1.4 .3 1.4 .5 1.4 0 1.4-.1 1.4 .3 1.4 .7 1.4 .9 1.4 0 1.4-.7 1.4 .3 1.4 .5 1.4-.3 1.4 .5 1.4 1.2 1.4 .8 1.4 .1 1.4-.5 1.4-.2 1.4 .5 1.4 .4 1.4-.5 1.4-.3 1.4 .2 1.4-.1 1.4-.4 1.4-.2 1.4 .2 1.4 .4 1.4 .5 1.4-.1 1.4-.3 1.4-.1 1.4 0 1.4 .1 1.4-.1 1.4-.4 1.4-.5 1.4-.2 1.4-.7 1.4-.3 1.4 .5 1.4 .3 1.4 .7 1.4 .4 1.4-1.1 1.4-.6 1.4 .4 1.4 0 1.4-.4 1.4-.2 1.4 .2 1.4-.5 1.4-.7 1.4-.2 1.4-.3 1.4-.6 1.4-.4 1.4-.4 1.4-.1 1.4-.6 1.4-1 1.4-.9 1.4-.9 1.4-1.2 1.4-.3 1.4-.4 1.4-.8 1.4-.6 1.4-.7 1.4-.7 1.4-.8 1.4-1.1 1.4-1.7 1.4-1.6 1.4-.3 1.4-.7 1.4-1.7 1.4-1.4 1.4-1 1.4-.4 1.4-.2 1.4-.5 1.4-.3 1.4 .2 1.4 .3 1.4 1 1.4 1.6 1.4 1.2 1.4 .9 1.4 .7 1.4 .7 1.4 1.1 1.4 1.2 1.4 1.3 1.4 1.1 1.4 .7 1.4 .7 1.4 1.5 1.4 1.5 1.4 .1 1.4 .3 1.4 1.5 1.4 .8 1.4-.3 1.4 .4 1.4 .3 1.4 .5 1.4 1.2 1.4 .8 1.4 .1 1.4 .4 1.4 .5 1.4 .2 1.4 0 1.4-.2 1.4 .5 1.4 .9 1.4 0 1.4 0 1.4 0 1.4-.2 1.4 .3 1.4 .4 1.4-.1 1.4 0 1.4 .5 1.4 .6 1.4 .1 1.4-.4 1.4-.6 1.4 .1 1.4 1.1 1.4 .5 1.4-.2 1.4 .3 1.4 .4 1.4 .3 1.4-.2 1.4 0 1.4 .1 1.4-.2 1.4 .3 1.4 .6 1.4 .4 1.4 .5 1.4-.6 1.4-1.4 1.4-.3 1.4 .6 1.4-.1 1.4 .3 1.4 0 1.4-1.1 1.4-.3 1.4 .9 1.4 .3 1.4-.1 1.4-.2 1.4-.6 1.4-.3 1.4 .3 1.4-.3 1.4-.1 1.4 .7 1.4 .2 1.4-.3 1.4-.5 1.4-.4 1.4-.1 1.4 .2 1.4 .2 1.4 0 1.4 .2 1.4 .6 1.4-.1 1.4-.8 1.4 0 1.4 0 1.4-.6 1.4-.5 1.4 .4 1.4 .5 1.4-.1 1.4-.3 1.4 .2 1.4 .2 1.4-.7 1.4-1 1.4-.2 1.4-.6 1.4-.3 1.4 1.5 1.4 1.2 1.4-.5 1.4-.8 1.4 .3 1.4 .8 1.4 .1 1.4-.3 1.4 0 1.4 .3 1.4 .5 1.4 .1 1.4-.4 1.4-.2 1.4 .3 1.4 .4 1.4 .2 1.4-.3 1.4 .2 1.4 .2 1.4 .4 1.4 1.2 1.4 .4 1.4-.5 1.4 .2 1.4-.4 1.4-.6 1.4 .7 1.4 .8 1.4-.1 1.4-.2 1.4 .3 1.4 .7 1.4 .7 1.4-.1 1.4 .1 1.4 .3 1.4-.5 1.4-.7 1.4 .3 1.4 1.2 1.4 .6 1.4-.2 1.4-.2 1.4-.2 1.4-.1 1.4-.1 1.4 0 1.4 .6 1.4 .6 1.4-.2 1.4-.6 1.4-.4 1.4 .5 1.4 .8 1.4 0 1.4-.5 1.4-.4 1.4-.2 1.4 .6 1.4 .5 1.4-.3 1.4-.2 1.4 .2 1.4-.2 1.4-.4 1.4 .1 1.4 .5 1.4 .3 1.4 0 1.4 .5 1.4 .4 1.4-.7 1.4-.3 1.4 .3 1.4-.2 1.4-.1 1.4 .8 1.4 .6 1.4-.7 1.4-.7 1.4 0 1.4 .1 1.4-.4 1.4 .3 1.4 .7 1.4 0 1.4 .5 1.4 .4 1.4-.4 1.4 .2 1.4 .3 1.4-.8 1.4-.9 1.4-.1 1.4 .8 1.4 1 1.4-.4 1.4-1 1.4-.3 1.4 .4 1.4 .3 1.4 .1 1.4 .1 1.4 0 1.4-.2 1.4 .1 1.4 .1 1.4 .1 1.4 .5 1.4 .5 1.4-.4 1.4-1 1.4-.4 1.4 0 1.4-.5 1.4 .3 1.4 1.2 1.4 .3 1.4-.9 1.4-.6 1.4 .2 1.4 .5 1.4 1 1.4 .6 1.4-.8 1.4-1.1 1.4-.1 1.4 .4 1.4 0 1.4-.2 1.4 .1 1.4 .2 1.4 .8 1.4 .5 1.4-.3 1.4-.5 1.4-.1 1.4-.1 1.4-.2 1.4-.3 1.4-.5 1.4 .3 1.4 .8 1.4 .2 1.4 .1 1.4-.1 1.4-.9 1.4 0 1.4 .8 1.4 .2 1.4 0 1.4 .3 1.4-.4 1.4-.8 1.4 .3 1.4 .8 1.4-.3 1.4-.4 1.4 .8 1.4 .6 1.4-.2 1.4-.6 1.4-.6 1.4 .5 1.4 1 1.4 0 1.4-.3 1.4-.5 1.4-.5 1.4-.4 1.4 .5 1.4 .5 1.4-.2 1.4 .4 1.4-.1 1.4-.7 1.4-.1 1.4 .3 1.4 .1 1.4-.2 1.4-.1 1.4 0 1.4-.3 1.4 0 1.4 .8 1.4 .2 1.4-.6 1.4 0 1.4 0 1.4 .1 1.4 .5 1.4 .3 1.4 .1 1.4-.4 1.4-.1 1.4-.2 1.4 0 1.4 .3 1.4 .1 1.4 .1 1.4-.4 1.4-.4 1.4 .2 1.4 .5 1.4 0 1.4-.4 1.4-.5 1.4 0 1.4 .3 1.4-.5 1.4-.3 1.4 .9 1.4 .3 1.4-.9 1.4-.3 1.4 .1 1.4 .2 1.4 .4 1.4-.2 1.4 0 1.4 .3 1.4-.1 1.4-.1 1.4-.4 1.4-.7 1.4 .5 1.4 1.1 1.4 0 1.4-.4 1.4 0 1.4 0 1.4 .4 1.4 .1 1.4-1.1 1.4-.8 1.4 0 1.4 .4 1.4 1 1.4 0 1.4-.9 1.4-.5 1.4 .8 1.4 .1 1.4-.9 1.4 .2 1.4 .5 1.4 .1 1.4-.3 1.4-.5 1.4-.3 1.4 .5 1.4 1.1 1.4 0 1.4-.9 1.4-.8 1.4-.3 1.4 .6 1.4 .5 1.4 0 1.4-.3 1.4-.3 1.4 .3 1.4 .5 1.4 .8 1.4 .1 1.4-1 1.4-.7 1.4 0 1.4-.1 1.4-.1 1.4 0 1.4 .1 1.4 .3 1.4 .1 1.4-.1 1.4-.3 1.4-.4 1.4-.1 1.4 .1 1.4 .2 1.4 .2 1.4-.3 1.4-.4 1.4 0 1.4-.2 1.4 .1 1.4-.2 1.4-.3 1.4 .6 1.4 .4 1.4-.2 1.4-.2 1.4-.3 1.4-.1 1.4 .1 1.4 .1 1.4-.1 1.4-.2 1.4 .4 1.4 .1 1.4-.2 1.4 0 1.4-.2 1.4-.4 1.4 .4 1.4 .4 1.4-.1 1.4-.2 1.4-.4 1.4 .1 1.4 .4 1.4 0 1.4-.6 1.4-.4 1.4 .7 1.4 .7 1.4-.2 1.4-.9 1.4-.5 1.4 .5 1.4-.5 1.4-.8 1.4 .4 1.4-.2 1.4-.3 1.4 .8 1.4 .6 1.4-.2 1.4 .2 1.4 .8 1.4-.2 1.4-.9 1.4-.8 1.4-.4 1.4 .3 1.4 .6 1.4 .1 1.4 .1 1.4-.2 1.4-.5 1.4 .1 1.4 .5 1.4 .2 1.4 0 1.4-.5 1.4-.3 1.4-.3 1.4-.6 1.4-.2 1.4 .7 1.4 .3 1.4-.5 1.4-.6 1.4 0 1.4 .1 1.4-.5 1.4-.3 1.4 .8 1.4 .9 1.4-.2 1.4-.5 1.4 .1 1.4-.3 1.4-1 1.4 .6 1.4 .9 1.4 .4 1.4 .4 1.4-.3 1.4-.6 1.4-.1 1.4-.1 1.4-.5 1.4 .1 1.4 .8 1.4 .2 1.4-.8 1.4-.4 1.4 .3 1.4 .3 1.4-.1 1.4-.3 1.4-.6 1.4-.3 1.4 .4 1.4 .5 1.4-.3 1.4-1.1 1.4-.1 1.4 .5 1.4-.4 1.4-.1 1.4 .8 1.4 .3 1.4-.4 1.4-.1 1.4 .1 1.4 0 1.4-.1 1.4-.7 1.4-.3 1.4 .3 1.4 .1 1.4 .3 1.4-.2 1.4-.5 1.4 .1 1.4 .3 1.4 .1 1.4-.4 1.4 0 1.4 1.1 1.4 .8 1.4-.4 1.4-1 1.4-.1 1.4 .2 1.4-.7 1.4-.6 1.4 .4 1.4 .1 1.4-.8 1.4-.7 1.4 .4 1.4 .7 1.4-.1 1.4 0 1.4 .4 1.4 0 1.4-.2 1.4-.2 1.4-.4 1.4-.2 1.4 .3 1.4 .5 1.4-.2 1.4-.6 1.4 .1 1.4 .3 1.4-.1 1.4-.8 1.4-.1 1.4 1.1 1.4 1.1 1.4-.3 1.4-.7 1.4 .4 1.4 .3 1.4-.9 1.4-.2 1.4 .5 1.4 .1 1.4-.4 1.4 0 1.4 .8 1.4 .2 1.4-.6 1.4-.9 1.4-.7 1.4 .4 1.4 .4 1.4 .1 1.4 0 1.4-.8 1.4-.4 1.4 .3 1.4 .1 1.4-.2 1.4 0 1.4-.5 1.4 0 1.4 .9 1.4 .6 1.4 .3 1.4 .1 1.4-1.2 1.4-1.2 1.4-.1 1.4 .2 1.4 .4 1.4-.1 1.4-.4 1.4 .1 1.4 .1 1.4 .2 1.4 .2 1.4-.3 1.4-.1 1.4-.2 1.4-.5 1.4-.2 1.4 .9 1.4 1.2 1.4 .3 1.4-.5 1.4-.9 1.4-.4 1.4 .3 1.4-.3 1.4-.5 1.4-.1 1.4-.1 1.4-.2 1.4-.3 1.4-.3 1.4 .7 1.4 .8 1.4-.7 1.4-.5 1.4 .3 1.4-.3 1.4-.7 1.4 .2 1.4 .5 1.4-.1 1.4 0 1.4 .1 1.4-.7 1.4-.4 1.4 .3 1.4-.1 1.4-.9 1.4-.3 1.4 .6 1.4 .5 1.4 .3 1.4-.4 1.4-.8 1.4 .1 1.4-.1 1.4-.2 1.4 0 1.4-.8 1.4-.5 1.4 .1 1.4 0 1.4 .3 1.4 .6 1.4 .5 1.4 .1 1.4-1 1.4-.9 1.4-.1 1.4 0 1.4 .1 1.4 .4 1.4-.5 1.4-.3 1.4 .7 1.4 .3 1.4 0 1.4 0 1.4 .1 1.4 0 1.4 .2 1.4-.1 1.4-.3 1.4-.4 1.4-.7 1.4 .2 1.4 .3 1.4-.2 1.4 0 1.4 .7 1.4-.4 1.4-1.1 1.4-.3 1.4 .6 1.4 .2 1.4 0 1.4 0 1.4 .1 1.4 0 1.4-.1 1.4 .2 1.4 1 1.4 .1 1.4-1.2 1.4-.7 1.4 .3 1.4 .2 1.4-.4 1.4-.1 1.4 .1 1.4-.3 1.4-.2 1.4-.1 1.4-.6 1.4 .2 1.4 .7 1.4 .5 1.4-.5 1.4-.5 1.4 .5 1.4 .8 1.4 .1 1.4-.6 1.4-.2 1.4 .2 1.4-.4 1.4-.5 1.4 .6 1.4 .8 1.4 .2 1.4-.3 1.4-.2 1.4-.1 1.4-.3 1.4 .4 1.4 1 1.4-.6 1.4-.9 1.4 0 1.4 .5 1.4 .1 1.4-.9 1.4-.7 1.4 .4 1.4 .5 1.4 .4 1.4 .4 1.4-.1 1.4-.5 1.4-.3 1.4 .8 1.4 .7 1.4-.5 1.4-.6 1.4 .2 1.4 .1 1.4-.7 1.4-.1 1.4 .5 1.4 0 1.4-.4 1.4-.1 1.4 0 1.4 0 1.4-.3 1.4-.3 1.4 .5 1.4 .3 1.4-.5 1.4 .1 1.4 .2 1.4-.4 1.4-.1 1.4 .2 1.4 1 1.4 1 1.4-.4 1.4-.9 1.4-.2 1.4-.1 1.4 .1 1.4 0 1.4-.4 1.4 .1 1.4 .4 1.4 .1 1.4-.5 1.4-.5 1.4 .4 1.4 .2 1.4-.1 1.4-.2 1.4-.8 1.4-.3 1.4 1 1.4 .4 1.4-.3 1.4 0 1.4 0 1.4-.5 1.4-.4 1.4 .5 1.4 .1 1.4-.3 1.4 .1 1.4-.4 1.4-.2 1.4 .7 1.4-.5 1.4-.7 1.4 .4 1.4 .8 1.4 0 1.4-.6 1.4 0 1.4-.1 1.4-.4 1.4 0 1.4-.2 1.4-.4 1.4-.1 1.4 .1 1.4-.1 1.4-.4 1.4 .1 1.4 .4 1.4-.1 1.4 .1 1.4-.1 1.4 0 1.4-.8 1.4-1.5 1.4-1 1.4-.1 1.4 .6 1.4-.5 1.4-1.6 1.4-.1 1.4 1 1.4 .3 1.4-.4 1.4-1 1.4-.8 1.4-1.1 1.4-1.2 1.4-1.8 1.4-2.3 1.4-1.6 1.4-1.6 1.4-1.9 1.4-2.7 1.4-3.1 1.4-2.8 1.4-3.4 1.4-3.7 1.4-3.7 1.4-3.1 1.4-2.7 1.4-2.7 1.4-2.4 1.4-1.9 1.4-1.7 1.4-1 1.4-.2 1.4 .1 1.4 .1 1.4 .7 1.4 1.9 1.4 2.6 1.4 3.2 1.4 3.5 1.4 3.6 1.4 3.8 1.4 3.9 1.4 3.9 1.4 3.1 1.4 3 1.4 3.1 1.4 2.5 1.4 2.3 1.4 1.7 1.4 1.1 1.4 1.9 1.4 2.1 1.4 1.5 1.4 1 1.4 .5 1.4 .4 1.4 .7 1.4 .7 1.4 1.1 1.4 .6 1.4 .3 1.4 .8 1.4 .4 1.4-.4 1.4 0 1.4 .3 1.4 .3 1.4 1.1 1.4 1 1.4 0 1.4-.2 1.4 0 1.4 .3 1.4 .3 1.4 .3 1.4 .7 1.4 .5 1.4-.4 1.4-.6 1.4-.1 1.4 .4 1.4 .3 1.4 .2 1.4 .3 1.4-.1 1.4-.9 1.4 .3 1.4 .7 1.4-.3 1.4-.3 1.4-.1 1.4 0 1.4 1.1 1.4 1.2 1.4-.5 1.4-1.3 1.4-.3 1.4 .7 1.4 .4 1.4-.5 1.4 0 1.4 .8 1.4 .1 1.4-.8 1.4-.8 1.4-.2 1.4-.2 1.4 .1 1.4 .6 1.4 .2 1.4 .4 1.4 .6 1.4-.7 1.4-.9 1.4 .3 1.4 0 1.4-1.1 1.4-.6 1.4-.1 1.4 0 1.4-.1 1.4-1.1 1.4-.4 1.4 .4 1.4 0 1.4-.1 1.4-.3 1.4-.2 1.4-.5 1.4-1.1 1.4-.2 1.4 .2 1.4 0 1.4-.3 1.4-.8 1.4 0 1.4 .3 1.4-.3 1.4-.1 1.4 .9 1.4-.2 1.4-1.4 1.4 .5 1.4 1.1 1.4-.5 1.4-.8 1.4-.4 1.4-.2 1.4 0 1.4 .3 1.4 .3 1.4-.1 1.4-.3 1.4 .1 1.4 .5 1.4 .3 1.4 .8 1.4 .9 1.4 .3 1.4 .1 1.4 .2 1.4 .1 1.4 .1 1.4 .4 1.4 .4 1.4 .2 1.4 .7 1.4 .1 1.4-.3 1.4 .1 1.4 .5 1.4 .3 1.4 .5 1.4 .4 1.4-.6 1.4-.6 1.4 .3 1.4 .5 1.4 1.1 1.4 1.1 1.4-.3 1.4-.7 1.4 .6 1.4 1.1 1.4 0 1.4-.1 1.4 .8 1.4 .7 1.4-.4 1.4-.7 1.4 0 1.4-.1 1.4-.6 1.4-.1 1.4 .2 1.4 .1 1.4 .2 1.4 .9 1.4 .4 1.4-.8 1.4-.4 1.4 .4 1.4 .4 1.4 .1 1.4-.6 1.4-.7 1.4-.3 .8 .3"/>
<path stroke-width="1.8" d="M152.2 1164.1l0 0 1.4 1.5 1.4 2 1.4 2.3 1.4 2.9 1.4 3.8 1.4 2.3 1.4 2 1.4 3.3 1.4 4.8 1.4 3.7 1.4 2.2 1.4 2.6 1.4 5.4 1.4 1.8 1.4 1.4 1.4 2.2 1.4 2 1.4 1.6 1.4 1.2 1.4 .1 1.4-.4 1.4-.8 1.4-1.9 1.4-2.5 1.4-3.6 1.4-4.1 1.4-3.8 1.4-3.2 1.4-2.9 1.4-2.9 1.4-3.5 1.4-3.7 1.4-3.4 1.4-.5 1.4-.3 1.4-.2 1.4 .3 1.4 1.5 1.4 3.4 1.4 4.5 1.4 3.1 1.4 3.3 1.4 5.5 1.4 6 1.4 3.6 1.4 2.9 1.4 3.7 1.4 4 1.4 3.3 1.4 2.5 1.4 2.2 1.4 2.6 1.4 2.8 1.4 2.2 1.4 2 1.4 2.4 1.4 2 1.4 1.2 1.4 1.3 1.4 1.4 1.4 1.4 1.4 1.4 1.4 1.2 1.4 1 1.4 .8 1.4 .6 1.4 .3 1.4 .2 1.4 .7 1.4 .6 1.4 .5 1.4 .5 1.4 .2 1.4 .3 1.4 .7 1.4 .4 1.4 .2 1.4 .5 1.4 .3 1.4-.2 1.4-.2 1.4 .3 1.4 .3 1.4 .2 1.4 .3 1.4 .3 1.4-.2 1.4 .1 1.4 .4 1.4-.2 1.4-.1 1.4 .3 1.4 .1 1.4 0 1.4 .1 1.4-.1 1.4-.1 1.4 .3 1.4 .1 1.4-.1 1.4 0 1.4 .3 1.4 .2 1.4-.2 1.4-.1 1.4-.1 1.4-.1 1.4 .2 1.4 .1 1.4 0 1.4-.3 1.4-.3 1.4 0 1.4 .2 1.4 .2 1.4 .1 1.4-.1 1.4 0 1.4 0 1.4-.4 1.4-.4 1.4-.2 1.4 .2 1.4 .3 1.4-.1 1.4 0 1.4 .1 1.4 0 1.4-.2 1.4-.5 1.4-.2 1.4-.1 1.4-.1 1.4-.3 1.4 .1 1.4-.1 1.4-.5 1.4-.2 1.4-.1 1.4-.1 1.4-.1 1.4-.3 1.4-.5 1.4-.5 1.4-.3 1.4-.3 1.4-.3 1.4-.6 1.4-.7 1.4 0 1.4 .3 1.4 0 1.4-.3 1.4-.5 1.4-.3 1.4 .4 1.4 .1 1.4-.3 1.4-.2 1.4 .1 1.4 .8 1.4 .8 1.4 .1 1.4 .2 1.4 0 1.4 .2 1.4 .4 1.4 .2 1.4 .4 1.4 .6 1.4 .5 1.4 .3 1.4 .2 1.4-.1 1.4 .1 1.4 .3 1.4 .1 1.4 0 1.4 .2 1.4 .1 1.4 0 1.4 .1 1.4 .3 1.4 .5 1.4 .5 1.4 .1 1.4-.4 1.4 .1 1.4 .3 1.4 0 1.4 .2 1.4 .3 1.4-.3 1.4-.3 1.4 .2 1.4 .3 1.4 .1 1.4-.2 1.4 .1 1.4 .4 1.4 .1 1.4 0 1.4 .2 1.4-.1 1.4-.2 1.4 .1 1.4 .3 1.4-.2 1.4-.2 1.4 .4 1.4 .5 1.4-.1 1.4-.1 1.4 .2 1.4 0 1.4 .1 1.4 .3 1.4-.1 1.4-.3 1.4-.2 1.4 .1 1.4-.2 1.4 0 1.4 .7 1.4 .3 1.4-.3 1.4-.2 1.4 .3 1.4 .2 1.4-.1 1.4-.4 1.4-.3 1.4-.1 1.4-.2 1.4 0 1.4 .4 1.4 0 1.4 .1 1.4 .3 1.4 .4 1.4-.1 1.4-.2 1.4-.1 1.4-.2 1.4 0 1.4 .1 1.4-.2 1.4-.1 1.4 .1 1.4 .3 1.4 .2 1.4-.2 1.4-.2 1.4-.1 1.4-.2 1.4 .3 1.4 .6 1.4 .3 1.4-.4 1.4-.3 1.4 .1 1.4 0 1.4 .1 1.4 0 1.4 0 1.4-.1 1.4-.1 1.4-.3 1.4-.1 1.4 .1 1.4 0 1.4 .1 1.4 .1 1.4 .2 1.4 0 1.4-.3 1.4-.1 1.4 .2 1.4 .4 1.4 .3 1.4-.2 1.4-.1 1.4-.1 1.4-.1 1.4 .1 1.4-.3 1.4-.1 1.4 .8 1.4 .1 1.4-.5 1.4-.1 1.4 .1 1.4-.1 1.4-.2 1.4 .1 1.4 .3 1.4 .1 1.4 .1 1.4 .1 1.4 .1 1.4-.3 1.4-.3 1.4-.3 1.4 .2 1.4 .4 1.4-.1 1.4 0 1.4 0 1.4-.2 1.4 0 1.4 .1 1.4 .1 1.4 .3 1.4-.1 1.4-.2 1.4-.1 1.4 .2 1.4 .2 1.4 .3 1.4 .3 1.4-.3 1.4-.3 1.4-.2 1.4-.2 1.4 0 1.4 0 1.4 .1 1.4 .2 1.4 .1 1.4 0 1.4-.2 1.4 .1 1.4 .4 1.4 .2 1.4 .1 1.4 0 1.4-.2 1.4-.1 1.4 .2 1.4 .1 1.4-.3 1.4 .1 1.4 .3 1.4-.2 1.4 0 1.4 0 1.4-.2 1.4-.1 1.4-.1 1.4-.1 1.4 .1 1.4 .1 1.4 .2 1.4-.1 1.4 0 1.4 .4 1.4 .2 1.4-.3 1.4-.2 1.4 0 1.4 .2 1.4-.2 1.4-.2 1.4 .6 1.4 .2 1.4-.5 1.4 .1 1.4 .1 1.4 0 1.4 0 1.4-.2 1.4 .2 1.4 .2 1.4-.2 1.4-.2 1.4 .1 1.4 .1 1.4 .2 1.4-.2 1.4 0 1.4-.1 1.4 .1 1.4-.2 1.4-.3 1.4 .2 1.4 .1 1.4 .2 1.4 .3 1.4-.4 1.4 0 1.4 .4 1.4 .2 1.4 0 1.4-.2 1.4-.3 1.4 .2 1.4 .4 1.4-.1 1.4-.2 1.4-.1 1.4 0 1.4 .1 1.4 .3 1.4-.2 1.4-.4 1.4 .2 1.4 .3 1.4 0 1.4-.2 1.4-.1 1.4-.1 1.4-.2 1.4 .1 1.4 .4 1.4 0 1.4 .1 1.4 .3 1.4-.1 1.4 0 1.4 .2 1.4-.2 1.4-.2 1.4 .1 1.4-.1 1.4-.2 1.4 .1 1.4-.2 1.4-.2 1.4 .2 1.4 .2 1.4-.2 1.4-.1 1.4 .1 1.4 .3 1.4-.1 1.4-.1 1.4 .1 1.4-.1 1.4 .2 1.4 .2 1.4-.3 1.4 0 1.4 .2 1.4-.1 1.4-.1 1.4 .2 1.4-.1 1.4-.4 1.4-.1 1.4 .1 1.4 0 1.4 0 1.4 .2 1.4 .1 1.4 0 1.4 .1 1.4 0 1.4-.1 1.4 .2 1.4 .3 1.4-.2 1.4-.3 1.4-.1 1.4 0 1.4 .2 1.4 .1 1.4-.2 1.4 .1 1.4 .1 1.4-.1 1.4-.1 1.4-.2 1.4 0 1.4 .3 1.4 .3 1.4-.2 1.4-.3 1.4 0 1.4 .1 1.4 .2 1.4 .2 1.4 .1 1.4 0 1.4-.1 1.4-.1 1.4-.2 1.4-.3 1.4 .1 1.4 .1 1.4-.2 1.4-.1 1.4 .3 1.4 0 1.4-.1 1.4 0 1.4 .1 1.4 0 1.4-.3 1.4 0 1.4 .3 1.4 0 1.4-.1 1.4-.1 1.4 0 1.4 .2 1.4 .1 1.4 0 1.4 .2 1.4 0 1.4-.2 1.4-.1 1.4-.4 1.4-.2 1.4 .1 1.4 .2 1.4 .1 1.4 .1 1.4-.2 1.4-.1 1.4 .1 1.4 0 1.4-.1 1.4 .1 1.4-.2 1.4 0 1.4 .1 1.4 .3 1.4 .2 1.4-.1 1.4-.3 1.4-.1 1.4 .1 1.4 0 1.4 0 1.4 .2 1.4 0 1.4-.2 1.4 .3 1.4 .2 1.4 0 1.4 0 1.4 0 1.4 .1 1.4-.1 1.4-.1 1.4 .1 1.4-.1 1.4-.3 1.4-.1 1.4 .1 1.4 .1 1.4-.2 1.4 .2 1.4 .1 1.4-.3 1.4-.3 1.4 .3 1.4 .2 1.4-.1 1.4-.3 1.4-.1 1.4 .2 1.4 .2 1.4-.1 1.4-.1 1.4 .1 1.4 .2 1.4-.1 1.4-.2 1.4 .2 1.4 .3 1.4-.3 1.4-.3 1.4 0 1.4 .2 1.4 .4 1.4 0 1.4-.5 1.4-.2 1.4 .5 1.4 .3 1.4-.1 1.4-.1 1.4-.3 1.4-.2 1.4-.2 1.4 .1 1.4 .3 1.4 .2 1.4 .2 1.4-.2 1.4-.3 1.4 .4 1.4 .2 1.4-.4 1.4-.3 1.4 .3 1.4 .1 1.4-.3 1.4-.1 1.4 .3 1.4-.1 1.4-.3 1.4 0 1.4 .1 1.4 .1 1.4 .2 1.4 .1 1.4-.2 1.4-.3 1.4 .2 1.4 .2 1.4 .1 1.4-.1 1.4-.3 1.4-.1 1.4 .1 1.4-.3 1.4-.1 1.4 .3 1.4 0 1.4-.2 1.4-.1 1.4-.1 1.4 .1 1.4 .2 1.4 0 1.4-.2 1.4 .1 1.4 0 1.4 0 1.4 .2 1.4-.1 1.4 0 1.4 .2 1.4-.1 1.4 0 1.4 .2 1.4 0 1.4-.1 1.4-.1 1.4 0 1.4 0 1.4-.2 1.4 .1 1.4 .4 1.4-.2 1.4 0 1.4 .3 1.4-.3 1.4-.3 1.4 0 1.4 0 1.4 .2 1.4 .1 1.4-.4 1.4-.1 1.4 .1 1.4 0 1.4-.1 1.4-.1 1.4-.2 1.4 .1 1.4 .1 1.4 .1 1.4 0 1.4-.1 1.4 .1 1.4 0 1.4-.3 1.4-.1 1.4 .1 1.4 .1 1.4 0 1.4 .2 1.4 .3 1.4 .1 1.4-.1 1.4-.4 1.4-.1 1.4 .2 1.4 .1 1.4 0 1.4 0 1.4 .1 1.4 0 1.4-.1 1.4-.1 1.4-.1 1.4 0 1.4 0 1.4 0 1.4 0 1.4 .1 1.4-.1 1.4 0 1.4-.2 1.4 .1 1.4 .2 1.4-.4 1.4-.3 1.4 0 1.4 .4 1.4 .3 1.4-.1 1.4-.3 1.4-.1 1.4 0 1.4 .3 1.4 0 1.4-.2 1.4-.1 1.4 0 1.4-.3 1.4 .1 1.4-.2 1.4-.2 1.4 .4 1.4 .2 1.4-.3 1.4 0 1.4 .3 1.4 .1 1.4 0 1.4 0 1.4-.2 1.4-.1 1.4-.1 1.4-.1 1.4 .1 1.4 .1 1.4 .1 1.4-.2 1.4-.1 1.4 0 1.4-.1 1.4-.1 1.4-.1 1.4 .1 1.4 0 1.4-.1 1.4 .2 1.4 .4 1.4 0 1.4-.3 1.4 0 1.4 .2 1.4-.2 1.4-.3 1.4 .1 1.4 .1 1.4 0 1.4 .1 1.4-.1 1.4-.2 1.4-.2 1.4 .1 1.4 .1 1.4-.1 1.4-.1 1.4 .2 1.4-.1 1.4-.4 1.4-.2 1.4 0 1.4 .2 1.4 0 1.4-.1 1.4-.1 1.4-.1 1.4 .1 1.4 .3 1.4-.1 1.4-.4 1.4 0 1.4 .2 1.4-.1 1.4-.1 1.4-.1 1.4 0 1.4 .2 1.4 0 1.4-.1 1.4 0 1.4-.2 1.4-.1 1.4 .2 1.4 .1 1.4-.1 1.4 .2 1.4-.1 1.4-.4 1.4 0 1.4 .5 1.4-.1 1.4-.5 1.4-.3 1.4 .1 1.4-.1 1.4 0 1.4 0 1.4-.1 1.4 .1 1.4 .2 1.4-.1 1.4 0 1.4 .2 1.4 0 1.4-.2 1.4-.2 1.4 .1 1.4 .3 1.4-.2 1.4-.4 1.4 .1 1.4 .2 1.4 .1 1.4 .2 1.4-.2 1.4-.4 1.4-.3 1.4 0 1.4 .1 1.4 .3 1.4 .2 1.4-.5 1.4-.6 1.4 .1 1.4 .2 1.4-.2 1.4-.1 1.4 .2 1.4 .1 1.4-.1 1.4-.1 1.4 .1 1.4-.2 1.4-.2 1.4-.1 1.4 .1 1.4 .1 1.4-.2 1.4 .1 1.4 .2 1.4-.1 1.4-.2 1.4 0 1.4 .3 1.4 .1 1.4-.4 1.4-.5 1.4 .1 1.4 .5 1.4 .2 1.4-.1 1.4-.2 1.4-.2 1.4-.2 1.4 .1 1.4-.1 1.4-.1 1.4 .3 1.4 .1 1.4-.5 1.4-.2 1.4 .2 1.4-.2 1.4-.1 1.4 .3 1.4 .1 1.4 .1 1.4 .2 1.4-.2 1.4-.3 1.4-.1 1.4-.1 1.4 .1 1.4 .1 1.4-.1 1.4 .2 1.4 .3 1.4 .1 1.4-.2 1.4 0 1.4 0 1.4 .1 1.4-.1 1.4 0 1.4-.3 1.4-.3 1.4-.1 1.4 .2 1.4 .4 1.4 0 1.4-.2 1.4-.1 1.4-.1 1.4-.2 1.4 0 1.4 .1 1.4-.1 1.4 .2 1.4 .1 1.4-.2 1.4-.2 1.4 .2 1.4 .3 1.4 0 1.4 .1 1.4 0 1.4-.4 1.4 0 1.4 .4 1.4 .1 1.4-.4 1.4 0 1.4 .2 1.4 .2 1.4 0 1.4-.3 1.4-.2 1.4 .1 1.4 .2 1.4-.4 1.4-.4 1.4 .2 1.4 .4 1.4 .2 1.4-.2 1.4-.1 1.4 .2 1.4 .1 1.4-.2 1.4 0 1.4-.1 1.4-.2 1.4 0 1.4-.1 1.4 0 1.4 0 1.4-.1 1.4 .2 1.4 .1 1.4-.3 1.4-.2 1.4 .1 1.4 .1 1.4 .1 1.4 0 1.4-.1 1.4-.2 1.4-.3 1.4-.1 1.4 .2 1.4 0 1.4-.1 1.4 .1 1.4-.3 1.4-.6 1.4 0 1.4 .1 1.4 .4 1.4 .2 1.4-.6 1.4-.3 1.4-.1 1.4 0 1.4 0 1.4-.2 1.4-.3 1.4-.1 1.4-.3 1.4-.2 1.4 0 1.4-.5 1.4-.7 1.4-.5 1.4-.3 1.4-.3 1.4-.4 1.4-.7 1.4-.4 1.4-.5 1.4-.7 1.4-.7 1.4-.7 1.4-.9 1.4-1 1.4-.9 1.4-1.2 1.4-1.6 1.4-1.2 1.4-1.4 1.4-1.6 1.4-1.6 1.4-1.5 1.4-1.4 1.4-1.2 1.4-1.1 1.4-.9 1.4-.4 1.4-.3 1.4-.1 1.4 .4 1.4 .7 1.4 .7 1.4 1.2 1.4 1.5 1.4 1.3 1.4 1.4 1.4 1.5 1.4 1.7 1.4 2 1.4 2 1.4 1.5 1.4 1 1.4 .9 1.4 1.1 1.4 1.4 1.4 1.5 1.4 1.1 1.4 .9 1.4 .7 1.4 .8 1.4 .6 1.4 .1 1.4 .1 1.4 .4 1.4 .4 1.4 0 1.4 0 1.4 .1 1.4 .4 1.4 .7 1.4 .3 1.4-.2 1.4 .1 1.4 0 1.4-.2 1.4 .1 1.4 .1 1.4 .2 1.4 .2 1.4-.2 1.4 .1 1.4 .2 1.4-.1 1.4 .2 1.4 .2 1.4 0 1.4 0 1.4-.1 1.4-.2 1.4 .6 1.4 .4 1.4-.2 1.4-.3 1.4-.4 1.4 0 1.4 0 1.4 .1 1.4 .1 1.4-.1 1.4-.2 1.4-.1 1.4 .1 1.4 .2 1.4-.2 1.4 .2 1.4 .2 1.4-.4 1.4-.2 1.4 .2 1.4 .5 1.4 .2 1.4-.4 1.4-.4 1.4 .1 1.4 .1 1.4-.1 1.4 .3 1.4 0 1.4-.2 1.4-.1 1.4 0 1.4-.2 1.4-.3 1.4-.2 1.4-.3 1.4-.3 1.4-.1 1.4-.3 1.4-.4 1.4-.4 1.4 .1 1.4 .4 1.4 0 1.4-.4 1.4-.4 1.4-.6 1.4-.3 1.4-.4 1.4-.5 1.4-.3 1.4-.2 1.4-.3 1.4-.2 1.4 0 1.4 0 1.4 .1 1.4-.2 1.4-.2 1.4-.1 1.4-.1 1.4-.1 1.4 0 1.4 .2 1.4 .2 1.4-.2 1.4-.4 1.4-.1 1.4 .3 1.4 .1 1.4 .2 1.4 .3 1.4 .5 1.4 .1 1.4 .3 1.4 .7 1.4 .4 1.4 .1 1.4 .3 1.4 .3 1.4 .3 1.4 .1 1.4 0 1.4 .3 1.4 .3 1.4 .4 1.4 .3 1.4 .1 1.4-.2 1.4-.1 1.4 .5 1.4 .4 1.4 .5 1.4 .5 1.4 0 1.4 0 1.4 .1 1.4 .1 1.4 .1 1.4 0 1.4 .3 1.4 .4 1.4 .2 1.4 .1 1.4 0 1.4 0 1.4 .2 1.4 .2 1.4 .2 1.4-.1 1.4-.2 .6 0"/>
<path d="M152.2 1168.5l.7 6.1 1.4 11.7 1.4 10.5 1.4 9.4 1.4 9.3 1.4 9.2 1.4 9 1.4 9.4 1.4 9.7 1.4 10 1.4 10.1 1.4 9.9 1.4 9 1.4 7.4 1.4 8 1.4 9.5 1.4 9.3 1.4 8.7 1.4 8.5 1.4 8.4 1.4 5.2 1.4 3.3 1.4 3.6 1.4 3.7 1.4 3.3 1.4 3.2 1.4 3 1.4 2.9 1.4 2.7 1.4 1.2 1.4 .6 1.4 .5 1.4 .3 1.4-.1 1.4 .1 1.4 .3 1.4 .5 1.4 .3 1.4-.2 1.4-.1 1.4 .1 1.4 .2 1.4 .1 1.4 .1 1.4 .2 1.4 .1 1.4 .1 1.4 .1 1.4-.1 1.4 .1 1.4 .1 1.4 .2 1.4 0 1.4 0 1.4-.1 1.4 0 1.4 .1 1.4 .1 1.4 .1 1.4-.1 1.4-.2 1.4-.1 1.4 .2 1.4-.1 1.4 .1 1.4 .2 1.4 .1 1.4-.1 1.4 0 1.4 0 1.4 0 1.4 0 1.4 .2 1.4-.1 1.4-.2 1.4 0 1.4 .2 1.4 .1 1.4-.2 1.4 0 1.4 .4 1.4 .2 1.4-.3 1.4-.1 1.4-.1 1.4-.3 1.4 .2 1.4 .2 1.4 .2 1.4-.2 1.4-.1 1.4 .1 1.4 0 1.4 0 1.4-.1 1.4 0 1.4 .1 1.4 .4 1.4 .2 1.4-.2 1.4-.1 1.4 .1 1.4 .2 1.4 0 1.4-.1 1.4-.2 1.4-.1 1.4 .1 1.4 0 1.4-.1 1.4-.2 1.4-.2 1.4 0 1.4 .1 1.4 .2 1.4 0 1.4 0 1.4 .2 1.4 .2 1.4 0 1.4 .2 1.4-.1 1.4-.3 1.4 .1 1.4 .1 1.4 0 1.4-.1 1.4-.2 1.4-.1 1.4 0 1.4 0 1.4 0 1.4-.1 1.4 .1 1.4 .2 1.4 .1 1.4-.2 1.4-.2 1.4 0 1.4 .1 1.4 .1 1.4 .1 1.4 .1 1.4 0 1.4-.1 1.4 .1 1.4 0 1.4 0 1.4 .1 1.4 0 1.4-.1 1.4 0 1.4 .1 1.4 .1 1.4 0 1.4-.1 1.4 0 1.4 0 1.4 0 1.4-.3 1.4-.1 1.4 .2 1.4 0 1.4-.2 1.4 0 1.4 .2 1.4 .3 1.4-.2 1.4-.3 1.4 .1 1.4 .2 1.4 .1 1.4-.4 1.4-.3 1.4 .3 1.4 .1 1.4-.2 1.4-.1 1.4 .4 1.4 .1 1.4-.2 1.4 .1 1.4 .2 1.4 .1 1.4-.1 1.4-.1 1.4 .1 1.4-.1 1.4-.1 1.4 0 1.4-.2 1.4 0 1.4 .3 1.4-.1 1.4-.1 1.4-.1 1.4-.2 1.4 0 1.4 .1 1.4 .1 1.4 .2 1.4 .1 1.4-.1 1.4 0 1.4 0 1.4-.2 1.4 0 1.4 .1 1.4 .2 1.4 0 1.4-.2 1.4-.2 1.4 .1 1.4 .1 1.4 .1 1.4-.1 1.4 0 1.4 .2 1.4 0 1.4-.1 1.4 .1 1.4-.1 1.4-.1 1.4 0 1.4-.1 1.4 0 1.4 .2 1.4 .3 1.4 0 1.4-.2 1.4 .1 1.4-.1 1.4 0 1.4 0 1.4 .1 1.4 .1 1.4-.2 1.4-.3 1.4 .2 1.4-.1 1.4-.3 1.4-.1 1.4 .4 1.4 .3 1.4 0 1.4 .1 1.4 0 1.4-.2 1.4-.1 1.4-.2 1.4 .1 1.4 .2 1.4-.2 1.4-.2 1.4 .1 1.4 0 1.4 0 1.4 .1 1.4-.2 1.4-.2 1.4 .2 1.4 .3 1.4-.2 1.4 0 1.4 .2 1.4-.1 1.4-.2 1.4 0 1.4 .2 1.4 .1 1.4-.3 1.4 0 1.4 .3 1.4 .2 1.4-.2 1.4-.2 1.4 .1 1.4 .1 1.4-.1 1.4-.2 1.4 .1 1.4 0 1.4-.1 1.4 .1 1.4 0 1.4 0 1.4 0 1.4-.1 1.4 .1 1.4 .1 1.4 .1 1.4-.1 1.4-.3 1.4-.1 1.4 .3 1.4 .3 1.4 .2 1.4-.3 1.4-.2 1.4 0 1.4-.2 1.4 .1 1.4 .5 1.4-.1 1.4-.1 1.4 .1 1.4 .1 1.4-.1 1.4-.1 1.4-.4 1.4 0 1.4 .5 1.4 .1 1.4-.2 1.4-.1 1.4-.1 1.4 0 1.4 .3 1.4 0 1.4-.1 1.4 0 1.4 0 1.4 0 1.4-.1 1.4-.2 1.4 .3 1.4 .1 1.4-.2 1.4-.1 1.4 .2 1.4 .1 1.4-.3 1.4-.2 1.4 0 1.4 0 1.4 0 1.4 .2 1.4 0 1.4 .3 1.4 .3 1.4-.2 1.4-.3 1.4-.3 1.4-.1 1.4 0 1.4 0 1.4 0 1.4 .1 1.4 0 1.4-.1 1.4-.2 1.4 .2 1.4 .2 1.4 .2 1.4 .1 1.4 0 1.4-.2 1.4-.1 1.4 .1 1.4 .3 1.4 0 1.4-.4 1.4-.1 1.4 0 1.4-.2 1.4 .1 1.4 .3 1.4 0 1.4-.1 1.4 .1 1.4-.1 1.4-.1 1.4 0 1.4 0 1.4 0 1.4 .1 1.4 .2 1.4 0 1.4 0 1.4-.2 1.4-.1 1.4-.1 1.4-.1 1.4 .3 1.4 0 1.4-.1 1.4 .1 1.4 0 1.4 0 1.4 .1 1.4-.1 1.4-.1 1.4 .2 1.4 .1 1.4-.3 1.4-.3 1.4-.1 1.4 .2 1.4 .2 1.4 0 1.4-.2 1.4 .2 1.4 .2 1.4-.1 1.4-.1 1.4 .3 1.4-.1 1.4-.2 1.4-.2 1.4-.1 1.4 0 1.4 .2 1.4 .1 1.4 .1 1.4 .1 1.4-.1 1.4-.1 1.4-.3 1.4-.1 1.4 .1 1.4 .1 1.4 0 1.4 0 1.4-.1 1.4 0 1.4 .2 1.4 .1 1.4 0 1.4 0 1.4-.1 1.4-.1 1.4 .3 1.4 .2 1.4-.1 1.4 .1 1.4 .1 1.4-.1 1.4-.1 1.4 .1 1.4-.1 1.4-.2 1.4 0 1.4 .1 1.4-.1 1.4 .1 1.4 0 1.4-.2 1.4-.1 1.4 .3 1.4 .2 1.4-.2 1.4-.1 1.4 .1 1.4 .2 1.4-.1 1.4-.2 1.4-.1 1.4-.1 1.4-.1 1.4 .1 1.4 .3 1.4-.1 1.4-.1 1.4 .3 1.4 .1 1.4-.1 1.4-.3 1.4 .1 1.4 .1 1.4-.2 1.4 0 1.4 .3 1.4 0 1.4-.5 1.4-.3 1.4 .1 1.4 .2 1.4 .3 1.4 .1 1.4-.1 1.4-.1 1.4 0 1.4 0 1.4 0 1.4 .2 1.4 .4 1.4-.2 1.4-.4 1.4-.1 1.4-.1 1.4 0 1.4 0 1.4 .2 1.4 .2 1.4-.1 1.4-.3 1.4-.1 1.4 .1 1.4 .2 1.4 .2 1.4 0 1.4 0 1.4 .1 1.4 0 1.4-.3 1.4-.3 1.4 .1 1.4 .5 1.4 .1 1.4-.1 1.4-.1 1.4-.1 1.4-.1 1.4 .1 1.4 .2 1.4 0 1.4-.2 1.4 0 1.4 .1 1.4 0 1.4 0 1.4 .2 1.4-.1 1.4 0 1.4 .2 1.4-.1 1.4-.1 1.4-.2 1.4-.1 1.4-.2 1.4 0 1.4 .2 1.4 0 1.4 0 1.4 0 1.4-.1 1.4 .2 1.4 .1 1.4 .2 1.4 .1 1.4-.1 1.4-.1 1.4-.1 1.4 0 1.4 0 1.4-.1 1.4 0 1.4 .1 1.4 0 1.4 0 1.4-.1 1.4 0 1.4 0 1.4-.2 1.4 .2 1.4 .1 1.4-.4 1.4 .1 1.4 .2 1.4 .1 1.4 .1 1.4-.2 1.4 .2 1.4 .3 1.4-.2 1.4-.1 1.4-.1 1.4-.1 1.4 .1 1.4-.1 1.4 0 1.4 .1 1.4-.1 1.4 0 1.4 0 1.4 0 1.4 .2 1.4-.1 1.4-.2 1.4 0 1.4 0 1.4 0 1.4 .1 1.4 .1 1.4 0 1.4 0 1.4 .1 1.4 0 1.4 0 1.4-.2 1.4-.1 1.4 0 1.4 .3 1.4 .3 1.4 .1 1.4-.1 1.4-.3 1.4-.1 1.4 0 1.4 .1 1.4 .2 1.4-.1 1.4-.3 1.4 0 1.4 .3 1.4-.1 1.4-.1 1.4 .1 1.4-.1 1.4-.2 1.4-.1 1.4-.1 1.4 .2 1.4-.1 1.4 0 1.4 .1 1.4 .1 1.4 0 1.4-.2 1.4-.1 1.4 0 1.4 0 1.4 .2 1.4 .1 1.4 .1 1.4 .2 1.4-.1 1.4-.2 1.4-.1 1.4 0 1.4 .2 1.4-.1 1.4-.2 1.4 .1 1.4 .2 1.4-.1 1.4-.2 1.4-.3 1.4 .1 1.4 .4 1.4-.2 1.4-.2 1.4 0 1.4-.1 1.4-.3 1.4-.2 1.4 .3 1.4 .3 1.4 0 1.4 0 1.4 .1 1.4-.1 1.4-.3 1.4 0 1.4 0 1.4-.1 1.4 .1 1.4 .1 1.4-.1 1.4-.1 1.4 .2 1.4 .3 1.4-.4 1.4-.2 1.4 .3 1.4 .1 1.4-.1 1.4-.1 1.4 0 1.4-.1 1.4-.2 1.4 .1 1.4 .1 1.4 .2 1.4-.1 1.4 0 1.4 0 1.4 0 1.4-.2 1.4-.3 1.4-.1 1.4 .2 1.4-.1 1.4-.1 1.4 .1 1.4-.1 1.4 .1 1.4 0 1.4-.3 1.4 .3 1.4 .3 1.4-.3 1.4-.2 1.4 .2 1.4 0 1.4-.4 1.4-.1 1.4 .1 1.4 0 1.4 0 1.4 0 1.4-.2 1.4-.1 1.4-.1 1.4-.1 1.4 .1 1.4-.1 1.4 0 1.4 .2 1.4-.2 1.4-.2 1.4 .1 1.4 0 1.4 0 1.4 0 1.4-.1 1.4-.1 1.4-.1 1.4 .1 1.4 0 1.4-.4 1.4 .1 1.4 0 1.4-.2 1.4 0 1.4 .3 1.4 .1 1.4 0 1.4-.1 1.4-.2 1.4-.1 1.4 .1 1.4 0 1.4-.1 1.4-.2 1.4 .1 1.4 .1 1.4-.2 1.4-.4 1.4 0 1.4 0 1.4-.1 1.4-.1 1.4-.1 1.4 .1 1.4 .2 1.4 0 1.4 0 1.4 .1 1.4 0 1.4 .1 1.4-.2 1.4-.3 1.4-.5 1.4-.3 1.4 .3 1.4 .3 1.4 0 1.4-.2 1.4 .1 1.4-.1 1.4-.3 1.4-.3 1.4 .1 1.4 .2 1.4 0 1.4-.2 1.4-.1 1.4 .2 1.4 0 1.4 0 1.4 0 1.4-.1 1.4-.4 1.4-.3 1.4 0 1.4 .4 1.4 0 1.4-.3 1.4-.1 1.4-.1 1.4 0 1.4-.2 1.4 .1 1.4 .2 1.4-.2 1.4-.4 1.4-.2 1.4 .1 1.4 .3 1.4-.1 1.4-.2 1.4-.1 1.4-.2 1.4 0 1.4 .2 1.4 .1 1.4 0 1.4-.4 1.4-.1 1.4 0 1.4-.2 1.4-.3 1.4-.1 1.4 .2 1.4 0 1.4 0 1.4 0 1.4 0 1.4-.2 1.4-.2 1.4-.1 1.4 0 1.4 0 1.4-.2 1.4-.1 1.4-.3 1.4-.3 1.4 0 1.4 .2 1.4 .1 1.4 0 1.4-.2 1.4 0 1.4 0 1.4-.3 1.4-.3 1.4-.1 1.4-.1 1.4-.2 1.4 .1 1.4 0 1.4-.1 1.4 0 1.4-.3 1.4-.2 1.4-.2 1.4 0 1.4 0 1.4 0 1.4 .1 1.4-.2 1.4-.2 1.4-.3 1.4-.3 1.4 0 1.4 0 1.4 .1 1.4 0 1.4 0 1.4-.1 1.4-.2 1.4-.2 1.4-.1 1.4 0 1.4-.1 1.4-.2 1.4 .1 1.4 .1 1.4-.3 1.4-.4 1.4-.2 1.4-.1 1.4 .2 1.4-.1 1.4 0 1.4 .2 1.4-.2 1.4-.5 1.4-.2 1.4-.1 1.4-.4 1.4-.4 1.4-.4 1.4-.2 1.4-.2 1.4-.2 1.4 0 1.4-.1 1.4-.2 1.4 0 1.4 0 1.4-.2 1.4-.3 1.4-.2 1.4-.1 1.4 0 1.4 .1 1.4-.1 1.4-.3 1.4 .2 1.4 .2 1.4-.2 1.4-.1 1.4 .1 1.4-.2 1.4-.3 1.4 .1 1.4 .2 1.4 .2 1.4 0 1.4-.3 1.4-.2 1.4-.1 1.4 0 1.4 0 1.4-.1 1.4 .2 1.4 .1 1.4-.1 1.4-.1 1.4-.2 1.4-.2 1.4 .2 1.4 .3 1.4 0 1.4-.2 1.4 0 1.4 0 1.4 0 1.4-.1 1.4-.2 1.4-.1 1.4-.2 1.4-.2 1.4 0 1.4 .2 1.4 0 1.4-.1 1.4 .1 1.4 0 1.4-.2 1.4-.1 1.4 .3 1.4 0 1.4-.4 1.4-.4 1.4 .1 1.4 .1 1.4 .1 1.4-.2 1.4-.2 1.4-.1 1.4 0 1.4-.1 1.4-.2 1.4-.4 1.4-.6 1.4-.6 1.4-.4 1.4-.4 1.4-.3 1.4-.2 1.4-.4 1.4-.8 1.4-.8 1.4-.5 1.4-.4 1.4-.4 1.4-.6 1.4-.8 1.4-1 1.4-.9 1.4-.8 1.4-.7 1.4-.7 1.4-1 1.4-1.2 1.4-1 1.4-1.2 1.4-1.6 1.4-1.7 1.4-1.4 1.4-1.7 1.4-1.9 1.4-1.8 1.4-2.5 1.4-3.4 1.4-3.9 1.4-4.5 1.4-5.3 1.4-5.9 1.4-6.9 1.4-7.6 1.4-8.5 1.4-9.7 1.4-9.2 1.4-7.6 1.4-6.7 1.4-3.9 1.4-1.9 1.4-1.3 1.4-.3 1.4 .9 1.4 1.8 1.4 4.2 1.4 8.3 1.4 7.8 1.4 7.7 1.4 8 1.4 7.3 1.4 7.1 1.4 7.1 1.4 6.7 1.4 6.6 1.4 6.6 1.4 5.7 1.4 5.5 1.4 5.1 1.4 3.9 1.4 3.5 1.4 3.2 1.4 2.5 1.4 2 1.4 1.9 1.4 1.5 1.4 1 1.4 .9 1.4 1 1.4 .6 1.4 .4 1.4 .7 1.4 .5 1.4 .5 1.4 .5 1.4 .4 1.4 .2 1.4 .1 1.4 .1 1.4 .3 1.4 .3 1.4 .2 1.4 .1 1.4 .3 1.4 .6 1.4 .2 1.4-.1 1.4 .1 1.4 .2 1.4 .2 1.4 .1 1.4-.1 1.4 0 1.4-.1 1.4 0 1.4 .1 1.4 0 1.4 0 1.4 .2 1.4 0 1.4 0 1.4-.1 1.4-.1 1.4 0 1.4 0 1.4 0 1.4 .1 1.4-.1 1.4-.2 1.4 0 1.4 .1 1.4 0 1.4-.2 1.4-.2 1.4 .2 1.4 .3 1.4-.2 1.4-.1 1.4-.1 1.4-.1 1.4 .1 1.4 .2 1.4 0 1.4-.1 1.4-.1 1.4-.1 1.4-.1 1.4 .2 1.4 .1 1.4-.2 1.4-.5 1.4-.4 1.4-.3 1.4-.3 1.4-.7 1.4-.7 1.4-.6 1.4-.8 1.4-1.1 1.4-1.4 1.4-1.2 1.4-1.1 1.4-1.7 1.4-1.6 1.4-1.3 1.4-1.7 1.4-2 1.4-1.5 1.4-1 1.4-1.3 1.4-1.7 1.4-1.4 1.4-.8 1.4-.8 1.4-.9 1.4-1.1 1.4-1 1.4-.5 1.4-.2 1.4-.2 1.4-.3 1.4 .5 1.4 1 1.4 .4 1.4 .5 1.4 .9 1.4 1.1 1.4 1.2 1.4 1.3 1.4 1.4 1.4 1.5 1.4 1.4 1.4 1.3 1.4 1.2 1.4 1.5 1.4 1.4 1.4 1.2 1.4 1.2 1.4 1.3 1.4 1.3 1.4 1.3 1.4 1.4 1.4 1.4 1.4 1.2 1.4 1 1.4 1.1 1.4 1.1 1.4 .9 1.4 .6 1.4 .5 1.4 .7 1.4 1.1 1.4 .8 1.4 .4 1.4 .4 1.4 .5 1.4 .5 1.4 .4 1.4 .4 1.4 .1 1.4 .2 1.4 .1 1.4 .3 1.4 .3 1.4 .4 1.4 .3 1.4 .3 1.4 0 1.4 0 1.4 .1 1.4 .2 1.4 .1 1.4 0 1.4-.1"/>
<path d="M152.2 1163.2l.7 4.6 1.4 9.6 1.4 9.4 1.4 8.9 1.4 9 1.4 9.3 1.4 9.8 1.4 9.7 1.4 9.8 1.4 10.9 1.4 11 1.4 10.4 1.4 9.9 1.4 9.2 1.4 9.5 1.4 9 1.4 7.7 1.4 4.5 1.4 1.6 1.4 1.8 1.4 .4 1.4-.2 1.4 1.2 1.4 .7 1.4 .8 1.4 2 1.4 .8 1.4-.3 1.4-.6 1.4-.6 1.4 .8 1.4-.5 1.4 1.1 1.4 .7 1.4-.1 1.4-.5 1.4 1.1 1.4 1.8 1.4 .8 1.4-1.1 1.4 .9 1.4 0 1.4-.4 1.4-1.9 1.4 .8 1.4-.3 1.4 1.5 1.4-1.2 1.4-.1 1.4 .2 1.4 .5 1.4-1.4 1.4-2.7 1.4-.9 1.4-1.6 1.4-2.3 1.4-2.3 1.4-1.9 1.4-1.9 1.4-2.2 1.4-2.6 1.4-3.5 1.4-4.3 1.4-3.7 1.4-2.3 1.4-1.7 1.4-1.9 1.4-1.9 1.4-2 1.4-1.4 1.4-.3 1.4 .1 1.4 0 1.4 .1 1.4 0 1.4 0 1.4 .1 1.4 .8 1.4 1.7 1.4 1.9 1.4 2.8 1.4 2.8 1.4 1.4 1.4 .4 1.4 1.2 1.4 3.8 1.4 4.6 1.4 3.9 1.4 3.7 1.4 3.8 1.4 4.2 1.4 4.8 1.4 4.1 1.4 3.3 1.4 2.9 1.4 2.7 1.4 2.8 1.4 3.2 1.4 4.1 1.4 4.7 1.4 4.8 1.4 4.4 1.4 3.9 1.4 3.4 1.4 3.4 1.4 3.5 1.4 3.9 1.4 3.7 1.4 2.8 1.4 1.5 1.4 1.1 1.4 1.8 1.4 3.8 1.4 3.3 1.4 1.4 1.4 1.2 1.4 1.4 1.4 2.1 1.4 2.6 1.4 2 1.4 1.3 1.4 1.4 1.4 1.4 1.4 1.2 1.4 1 1.4 .9 1.4 1.5 1.4 1.6 1.4 1 1.4 1 1.4 .9 1.4 .9 1.4 1.2 1.4 1 1.4 .8 1.4 .9 1.4 .9 1.4 1.1 1.4 1.2 1.4 1.3 1.4 1 1.4 1 1.4 .7 1.4 .8 1.4 1.5 1.4 1.3 1.4 1.1 1.4 .9 1.4 1 1.4 1.3 1.4 1.6 1.4 1.1 1.4 .6 1.4 .9 1.4 1.2 1.4 1 1.4 1 1.4 .6 1.4 .5 1.4 1.2 1.4 .8 1.4 .5 1.4 .8 1.4 .9 1.4 .8 1.4 .3 1.4 .5 1.4 1.3 1.4 1.3 1.4 1.1 1.4 .8 1.4 .5 1.4 .4 1.4 .7 1.4 .7 1.4 .7 1.4 .5 1.4 .4 1.4 .9 1.4 1 1.4 .8 1.4 .1 1.4 0 1.4 .2 1.4 .1 1.4 .1 1.4 .5 1.4 .8 1.4 .3 1.4-.1 1.4 .4 1.4 .6 1.4 .2 1.4 0 1.4 0 1.4 .2 1.4 .6 1.4 .3 1.4 0 1.4 .2 1.4 .5 1.4 .2 1.4 .3 1.4 .3 1.4 .3 1.4 .2 1.4-.1 1.4-.3 1.4-.4 1.4 0 1.4 .5 1.4 .3 1.4 .2 1.4 0 1.4-.4 1.4-.2 1.4 .1 1.4-.2 1.4-.3 1.4-.1 1.4-.1 1.4-.2 1.4-.3 1.4-.2 1.4-.1 1.4-.3 1.4-.3 1.4-.5 1.4-.1 1.4 0 1.4-.4 1.4-.3 1.4-.5 1.4-.4 1.4 .2 1.4-.1 1.4-.4 1.4-.2 1.4-.4 1.4-.3 1.4-.1 1.4 .1 1.4-.1 1.4-.5 1.4-.1 1.4-.2 1.4-.9 1.4-.2 1.4 .2 1.4-.1 1.4 0 1.4-.1 1.4-.5 1.4-.7 1.4-.3 1.4 .3 1.4 .2 1.4 .2 1.4 0 1.4 .1 1.4 .6 1.4 .3 1.4-.3 1.4-.2 1.4 .1 1.4 .2 1.4 .1 1.4 .2 1.4 .4 1.4 .4 1.4 .1 1.4 .2 1.4 .5 1.4-.2 1.4-.3 1.4 .6 1.4 .9 1.4 .7 1.4 .3 1.4 .5 1.4 .7 1.4 .8 1.4 .5 1.4 .5 1.4 .7 1.4 .6 1.4 .2 1.4 .2 1.4 .6 1.4 .3 1.4 .4 1.4 .5 1.4 .4 1.4 .1 1.4-.2 1.4 0 1.4 .3 1.4 .6 1.4 .4 1.4 0 1.4-.3 1.4 0 1.4 .7 1.4 .3 1.4 0 1.4 .3 1.4 .3 1.4 0 1.4 0 1.4 .5 1.4 .1 1.4 .3 1.4 .7 1.4 .1 1.4-.4 1.4 0 1.4 .5 1.4 .4 1.4-.1 1.4-.1 1.4 0 1.4 .2 1.4 .5 1.4 .4 1.4 0 1.4-.1 1.4 .1 1.4 .2 1.4-.1 1.4 .3 1.4 .4 1.4 0 1.4-.2 1.4-.1 1.4-.2 1.4-.1 1.4 .4 1.4 .7 1.4 .3 1.4-.1 1.4-.2 1.4-.3 1.4-.1 1.4 .2 1.4 .1 1.4 0 1.4 0 1.4-.3 1.4-.2 1.4 0 1.4 0 1.4 .3 1.4 .6 1.4 0 1.4 .1 1.4 .3 1.4 0 1.4-.2 1.4 .2 1.4-.1 1.4-.1 1.4-.1 1.4-.3 1.4 0 1.4 .4 1.4 .1 1.4-.1 1.4 .1 1.4 .4 1.4 .2 1.4 0 1.4-.2 1.4-.3 1.4 0 1.4 .1 1.4-.1 1.4 .1 1.4 .3 1.4-.2 1.4-.2 1.4 .4 1.4 .3 1.4-.1 1.4-.1 1.4-.3 1.4-.2 1.4 0 1.4 .4 1.4 .2 1.4-.1 1.4 0 1.4-.2 1.4 0 1.4 .3 1.4 .1 1.4-.3 1.4-.3 1.4 .1 1.4 .4 1.4 .4 1.4-.2 1.4-.4 1.4-.2 1.4-.1 1.4 .2 1.4 .3 1.4 .1 1.4-.1 1.4-.1 1.4 .1 1.4 .2 1.4-.4 1.4-.2 1.4 .2 1.4 0 1.4 .2 1.4 .2 1.4 0 1.4 0 1.4 .1 1.4 .3 1.4 0 1.4-.4 1.4-.2 1.4 0 1.4 .3 1.4 .1 1.4-.2 1.4 0 1.4-.2 1.4-.3 1.4 .3 1.4 .6 1.4 .1 1.4-.3 1.4 0 1.4-.1 1.4-.3 1.4 .4 1.4 .5 1.4-.3 1.4-.1 1.4 0 1.4-.1 1.4 .1 1.4 .3 1.4-.1 1.4-.1 1.4-.1 1.4 .1 1.4 .2 1.4 .2 1.4-.1 1.4-.6 1.4-.2 1.4 .5 1.4 .2 1.4-.6 1.4-.3 1.4 .3 1.4 .4 1.4-.2 1.4 0 1.4 .4 1.4 .2 1.4-.2 1.4-.2 1.4 .1 1.4 .4 1.4 0 1.4-.5 1.4-.3 1.4 .1 1.4 .3 1.4 0 1.4 .2 1.4 0 1.4 0 1.4 .1 1.4-.2 1.4-.3 1.4 .3 1.4 .3 1.4-.5 1.4 0 1.4 .3 1.4-.2 1.4-.4 1.4 0 1.4 .5 1.4 .4 1.4 0 1.4-.2 1.4-.2 1.4-.2 1.4-.1 1.4 .1 1.4 .1 1.4 .3 1.4-.1 1.4-.2 1.4 .1 1.4-.2 1.4-.2 1.4 0 1.4-.1 1.4 .3 1.4 .1 1.4 0 1.4 .1 1.4-.1 1.4-.2 1.4-.2 1.4 .1 1.4 0 1.4 .1 1.4 .1 1.4-.1 1.4-.4 1.4 0 1.4 .4 1.4 .3 1.4 .1 1.4 .2 1.4 .1 1.4-.3 1.4-.3 1.4-.3 1.4 0 1.4 .2 1.4 .2 1.4 .1 1.4-.1 1.4 0 1.4 .1 1.4 0 1.4 0 1.4-.1 1.4-.3 1.4 0 1.4 .3 1.4 .1 1.4-.2 1.4 .2 1.4 .3 1.4-.4 1.4-.2 1.4 .1 1.4-.2 1.4 .4 1.4 .4 1.4 0 1.4-.2 1.4-.1 1.4 0 1.4 0 1.4-.2 1.4-.2 1.4 .2 1.4 .2 1.4 0 1.4-.3 1.4-.2 1.4 .6 1.4 .5 1.4-.3 1.4-.6 1.4-.2 1.4 .1 1.4 0 1.4 .1 1.4 .1 1.4 .3 1.4-.2 1.4-.5 1.4 .1 1.4-.1 1.4-.2 1.4 .2 1.4 .3 1.4 .1 1.4-.2 1.4 .4 1.4 .4 1.4-.2 1.4-.3 1.4-.3 1.4-.1 1.4 .2 1.4 .2 1.4 .3 1.4 .3 1.4-.3 1.4-.1 1.4-.1 1.4-.6 1.4-.2 1.4 .2 1.4 .2 1.4 .1 1.4 .2 1.4 .3 1.4 .1 1.4-.3 1.4-.2 1.4 .1 1.4-.1 1.4-.2 1.4 .1 1.4 .2 1.4 .1 1.4 .2 1.4-.2 1.4-.4 1.4-.1 1.4 0 1.4 .1 1.4 0 1.4 .2 1.4 .2 1.4-.1 1.4-.3 1.4-.1 1.4 .4 1.4 .1 1.4 0 1.4 0 1.4 .1 1.4 .1 1.4-.1 1.4-.3 1.4-.3 1.4 .1 1.4 .1 1.4-.1 1.4 0 1.4 .3 1.4-.1 1.4-.4 1.4-.1 1.4 .3 1.4 .1 1.4 0 1.4-.1 1.4 0 1.4 .2 1.4 .1 1.4-.3 1.4-.2 1.4-.1 1.4 .3 1.4 .1 1.4 0 1.4-.2 1.4-.5 1.4-.3 1.4 .2 1.4 .4 1.4 .2 1.4 0 1.4 .1 1.4 0 1.4-.2 1.4-.4 1.4 .3 1.4 .3 1.4-.4 1.4 .2 1.4 .5 1.4-.2 1.4-.3 1.4 .1 1.4 .3 1.4 0 1.4-.3 1.4 .1 1.4 .2 1.4 .1 1.4 0 1.4-.5 1.4-.3 1.4 .5 1.4 .4 1.4-.1 1.4 0 1.4 0 1.4-.3 1.4-.1 1.4-.1 1.4 0 1.4 .2 1.4 .1 1.4-.4 1.4-.3 1.4 0 1.4 .3 1.4 .1 1.4-.1 1.4-.2 1.4 .2 1.4 .2 1.4 0 1.4 0 1.4 0 1.4-.4 1.4-.1 1.4 .3 1.4 .2 1.4-.3 1.4-.6 1.4-.3 1.4 .1 1.4 .4 1.4 .5 1.4 .1 1.4-.2 1.4 0 1.4 0 1.4-.1 1.4 0 1.4-.3 1.4-.4 1.4 .4 1.4 .4 1.4-.2 1.4-.3 1.4-.1 1.4 .2 1.4 .2 1.4-.3 1.4-.6 1.4-.3 1.4 .2 1.4-.1 1.4 .2 1.4 .6 1.4 0 1.4-.4 1.4 .3 1.4 .1 1.4-.2 1.4-.1 1.4-.3 1.4-.3 1.4 0 1.4 .3 1.4 .2 1.4-.2 1.4-.3 1.4 .2 1.4 .3 1.4 .1 1.4 0 1.4-.3 1.4-.3 1.4 .2 1.4 .1 1.4 0 1.4 .3 1.4 .2 1.4-.3 1.4 0 1.4 .2 1.4-.4 1.4-.3 1.4 .1 1.4 .3 1.4 .1 1.4-.1 1.4 .1 1.4 .3 1.4-.3 1.4-.4 1.4 .1 1.4 .3 1.4 0 1.4-.2 1.4-.2 1.4-.2 1.4-.1 1.4 .2 1.4 .2 1.4 0 1.4-.1 1.4-.1 1.4-.1 1.4 .1 1.4 .3 1.4 0 1.4-.1 1.4-.1 1.4-.1 1.4-.2 1.4 .1 1.4 .3 1.4 .2 1.4 0 1.4 0 1.4 .1 1.4 0 1.4 0 1.4 0 1.4-.2 1.4-.1 1.4 0 1.4 0 1.4 .2 1.4 .3 1.4-.2 1.4-.4 1.4-.2 1.4 .1 1.4 .3 1.4 .1 1.4-.2 1.4 0 1.4 .1 1.4-.2 1.4 .2 1.4 .4 1.4 .1 1.4-.3 1.4-.3 1.4-.2 1.4 .1 1.4 .1 1.4-.1 1.4-.1 1.4 0 1.4 0 1.4 .2 1.4 .2 1.4-.4 1.4-.5 1.4-.2 1.4 0 1.4 .3 1.4 .3 1.4 0 1.4-.2 1.4 0 1.4-.3 1.4-.3 1.4-.1 1.4 .4 1.4 .3 1.4-.1 1.4 .2 1.4 .1 1.4-.3 1.4-.3 1.4-.1 1.4 .1 1.4 .2 1.4 0 1.4 .1 1.4 0 1.4-.2 1.4-.2 1.4-.1 1.4-.1 1.4-.2 1.4 .1 1.4 0 1.4 0 1.4 .2 1.4-.5 1.4-.2 1.4-.1 1.4-.3 1.4-.1 1.4-.1 1.4 .1 1.4 .2 1.4 .3 1.4 .1 1.4 0 1.4-.1 1.4-.3 1.4-.3 1.4 0 1.4-.3 1.4 0 1.4 .3 1.4-.1 1.4-.3 1.4 0 1.4-.4 1.4-.5 1.4-.3 1.4-.4 1.4-.8 1.4-1.1 1.4-1.2 1.4-1.8 1.4-2.3 1.4-2.7 1.4-2.6 1.4-1.5 1.4-.9 1.4-1.2 1.4-.9 1.4 .3 1.4 .5 1.4 .4 1.4 .3 1.4 .1 1.4 .4 1.4 .4 1.4 .5 1.4 .4 1.4 .1 1.4 0 1.4 0 1.4-.1 1.4 .1 1.4 .4 1.4 0 1.4-.3 1.4 .2 1.4 .6 1.4 .5 1.4 .2 1.4-.3 1.4-.3 1.4 .4 1.4 .5 1.4 .6 1.4 .6 1.4 .9 1.4 1.1 1.4 .6 1.4 0 1.4 .1 1.4 .5 1.4 .2 1.4 .3 1.4 .2 1.4-.4 1.4 0 1.4 .2 1.4 .2 1.4 .4 1.4 .2 1.4-.1 1.4-.1 1.4 .2 1.4-.2 1.4 .3 1.4 .3 1.4-.3 1.4 0 1.4 .1 1.4-.1 1.4 .1 1.4 .6 1.4 .1 1.4 0 1.4 .2 1.4 0 1.4 .2 1.4 .7 1.4 .6 1.4 0 1.4-.4 1.4-.3 1.4 .1 1.4 .2 1.4 .3 1.4 .1 1.4 0 1.4 0 1.4-.2 1.4 0 1.4 .2 1.4-.1 1.4 0 1.4 .2 1.4 .2 1.4 .3 1.4 .3 1.4-.1 1.4-.1 1.4 .1 1.4-.1 1.4-.2 1.4 .1 1.4-.1 1.4 0 1.4 .3 1.4 .2 1.4 .3 1.4-.2 1.4-.4 1.4 .4 1.4 .6 1.4 .1 1.4-.1 1.4-.4 1.4-.5 1.4 .1 1.4 .5 1.4 .1 1.4-.4 1.4 0 1.4-.2 1.4-.3 1.4 .2 1.4 .6 1.4 0 1.4-.4 1.4-.2 1.4-.4 1.4-.6 1.4 0 1.4 .4 1.4 .6 1.4 .7 1.4 .5 1.4 .1 1.4 .4 1.4 .5 1.4 .2 1.4-.3 1.4 0 1.4 .7 1.4 .3 1.4-.2 1.4 .1 1.4 .4 1.4 .1 1.4 .2 1.4 .1 1.4-.2 1.4-.3 1.4-.2 1.4-.2 1.4 .5 1.4 .6 1.4-.1 1.4-.2 1.4-.1 1.4-.1 1.4 .2 1.4 .5 1.4-.1 1.4-.1 1.4 .4 1.4 .2 1.4-.3 1.4-.2 1.4-.5 1.4 0 1.4 .5 1.4 .2 1.4-.1 1.4-.1 1.4 .1 1.4 .4 1.4 .2 1.4-.5 1.4-.2 1.4 .4 1.4 .2 1.4-.1 1.4 .2 1.4 .2 1.4-.2 1.4-.5 1.4-.3 1.4 0 1.4 .2 1.4 .2 1.4 0 1.4 .1 1.4 .2 1.4-.3 1.4-.1 1.4 0 1.4 0 1.4 .2 1.4 .1 1.4 .1 1.4 .1 1.4-.2 1.4-.4 1.4-.4 1.4-.3 1.4 .2 1.4 .1 1.4 0 1.4-.2 1.4-.5 1.4-.3 1.4 .3 1.4 .4 1.4-.2 1.4-.3 1.4 0 1.4 .2 1.4-.1 1.4-.3 1.4-.1 1.4 .3 1.4 .1 1.4 0 1.4 0 1.4-.4 1.4-.1 1.4 .1 1.4-.1 1.4-.2 1.4-.1 1.4 0 1.4 .2 1.4 0 1.4 0 1.4-.1 1.4-.5 1.4 .2 1.4 .3 1.4-.4 1.4-.2 1.4 .5 1.4 0 1.4-.3 1.4 .1 1.4-.2 1.4-.1 1.4 .3 1.4 .1 1.4-.1 1.4 .1 1.4 .2 1.4 .2 1.4 .3 1.4 .1 1.4-.2 1.4-.3 1.4 .1 1.4 .6 1.4 .5 1.4 0 1.4-.2 1.4 0 1.4 0 1.4 .1 1.4 .2 1.4 .1 1.4 0 1.4-.2 1.4-.1 1.4-.2 1.4 .2 1.4 .8 1.4 .4 1.4-.5 1.4-.7 1.4-.2 1.4 .1 1.4-.4 1.4 0 1.4 .1 .6-.1"/>
</g>
<g class="c" stroke-width="2.4">
<path d="M150.5 1639.9l1.4 3.4 1.4 3.3 1.4 2.9 1.4 2.6 1.4 2.8 1.4 2.4 1.4 1.5 1.4 0 1.4-1 1.4-1.1 1.4-1.1 1.4-1.5 1.4-1.1 1.4-.6 1.4-1 1.4-1.4 1.4-1.7 1.4-1.5 1.4-1.1 1.4-1.1 1.4-1.4 1.4-1.5 1.4-1.3 1.4-.9 1.4-.6 1.4-1.2 1.4-1.5 1.4-1.1 1.4-.5 1.4-.6 1.4-.6 1.4-.6 1.4-.6 1.4-.1 1.4 .3 1.4-.2 1.4-.5 1.4 .1 1.4 .3 1.4 0 1.4 .2 1.4 .4 1.4 .5 1.4 .9 1.4 .9 1.4 .8 1.4 1.1 1.4 1 1.4 .9 1.4 1.4 1.4 1.5 1.4 1.3 1.4 1.6 1.4 1.4 1.4 1.2 1.4 1.5 1.4 1.5 1.4 1.4 1.4 1.1 1.4 1.2 1.4 1.7 1.4 1.8 1.4 1.2 1.4 1 1.4 1.3 1.4 1.5 1.4 1.6 1.4 1.8 1.4 1.4 1.4 .9 1.4 1.4 1.4 1.3 1.4 1 1.4 1.1 1.4 1.2 1.4 1.3 1.4 1 1.4 .8 1.4 1 1.4 .9 1.4 .8 1.4 .8 1.4 .6 1.4 .6 1.4 .4 1.4 .2 1.4 .3 1.4 .6 1.4 .8 1.4 .2 1.4-.2 1.4 .4 1.4 .6 1.4 0 1.4 .5 1.4 .9 1.4 .1 1.4-.2 1.4 .5 1.4 .4 1.4 0 1.4 .1 1.4-.1 1.4 0 1.4 .2 1.4 .5 1.4 .3 1.4 .2 1.4-.5 1.4-.4 1.4 .4 1.4 .4 1.4 .2 1.4-.2 1.4 .1 1.4 .2 1.4 0 1.4 0 1.4-.2 1.4 0 1.4 .1 1.4-.4 1.4 .1 1.4 .5 1.4 .1 1.4 .1 1.4-.1 1.4 .2 1.4 .3 1.4-.2 1.4-.3 1.4-.1 1.4 .2 1.4 .4 1.4 .2 1.4-.2 1.4 .1 1.4 0 1.4-.1 1.4 .2 1.4 .2 1.4 .1 1.4 .2 1.4 0 1.4 .3 1.4 .6 1.4 .2 1.4 0 1.4 0 1.4 .1 1.4 .3 1.4 .3 1.4 .1 1.4-.3 1.4-.1 1.4-.3 1.4-.5 1.4 .4 1.4 .7 1.4 .3 1.4 0 1.4 .4 1.4 .1 1.4-.2 1.4 .3 1.4 .2 1.4-.4 1.4-.2 1.4 .2 1.4-.1 1.4-.2 1.4 0 1.4 .1 1.4 .3 1.4 .2 1.4 0 1.4-.2 1.4-.4 1.4 .2 1.4 .2 1.4 .2 1.4 .3 1.4-.4 1.4-.2 1.4 .3 1.4 .1 1.4-.3 1.4 0 1.4 .2 1.4 .2 1.4 0 1.4-.2 1.4 .2 1.4 .2 1.4-.4 1.4-.6 1.4 .1 1.4 .4 1.4 .2 1.4 .3 1.4 .2 1.4 0 1.4-.2 1.4 .2 1.4 .2 1.4-.2 1.4 .1 1.4 .4 1.4-.4 1.4-.4 1.4 .2 1.4 .2 1.4 .2 1.4 .2 1.4 0 1.4-.1 1.4 .2 1.4 0 1.4 0 1.4 0 1.4 0 1.4-.1 1.4 0 1.4 0 1.4-.2 1.4 .2 1.4 .4 1.4 .1 1.4-.1 1.4 0 1.4 .1 1.4 .1 1.4 0 1.4 0 1.4 .2 1.4 .1 1.4 0 1.4-.3 1.4 .2 1.4 .5 1.4 0 1.4 0 1.4 .1 1.4 0 1.4 0 1.4-.1 1.4 .2 1.4 .4 1.4 .4 1.4 .1 1.4 .1 1.4 .2 1.4-.3 1.4-.5 1.4 .3 1.4 .8 1.4 .1 1.4-.2 1.4 0 1.4 .3 1.4 .5 1.4 .3 1.4 .2 1.4-.4 1.4-.2 1.4 .4 1.4 .3 1.4 .2 1.4 .4 1.4 0 1.4 .1 1.4 0 1.4-.1 1.4 .2 1.4 .2 1.4 .4 1.4 .2 1.4-.1 1.4 .1 1.4 .1 1.4 0 1.4 .1 1.4 .1 1.4-.1 1.4 0 1.4 .1 1.4 .2 1.4-.2 1.4 0 1.4 .2 1.4 .2 1.4 0 1.4 .3 1.4 .3 1.4-.3 1.4-.4 1.4 .4 1.4 .3 1.4 0 1.4 .1 1.4 .1 1.4-.1 1.4-.2 1.4-.1 1.4 .1 1.4 .3 1.4 .1 1.4 0 1.4-.1 1.4 .1 1.4-.1 1.4-.3 1.4 0 1.4 .2 1.4 .2 1.4 0 1.4 0 1.4 .1 1.4 .2 1.4-.1 1.4-.3 1.4 .1 1.4 .3 1.4 .3 1.4-.2 1.4-.2 1.4 .1 1.4 .1 1.4 .2 1.4 .2 1.4 0 1.4 0 1.4-.1 1.4-.2 1.4 .3 1.4 .1 1.4-.2 1.4-.2 1.4 .1 1.4 0 1.4 .1 1.4 .3 1.4-.1 1.4-.4 1.4 .1 1.4 .3 1.4 .1 1.4-.1 1.4 .2 1.4-.2 1.4-.5 1.4-.2 1.4 .1 1.4 .3 1.4 .4 1.4-.2 1.4-.4 1.4 .1 1.4 .2 1.4-.1 1.4-.1 1.4-.1 1.4-.1 1.4 .3 1.4 .2 1.4-.1 1.4-.3 1.4-.2 1.4 .2 1.4 .2 1.4 .1 1.4 .2 1.4 .3 1.4-.1 1.4-.5 1.4 0 1.4 .3 1.4 .1 1.4 .1 1.4 0 1.4-.4 1.4-.1 1.4 0 1.4-.2 1.4-.1 1.4 .3 1.4 .2 1.4-.1 1.4-.2 1.4-.1 1.4 .1 1.4 .1 1.4-.4 1.4 .1 1.4 .3 1.4-.1 1.4 .3 1.4 .2 1.4-.3 1.4-.2 1.4 0 1.4 .2 1.4 .1 1.4 .2 1.4 .2 1.4 0 1.4 0 1.4-.3 1.4-.3 1.4 .1 1.4 0 1.4-.1 1.4 .3 1.4 .1 1.4-.2 1.4-.2 1.4 .1 1.4 .1 1.4-.1 1.4-.2 1.4-.1 1.4 .3 1.4-.3 1.4-.4 1.4 .2 1.4 .3 1.4 .2 1.4 0 1.4-.1 1.4 .3 1.4 .4 1.4 .1 1.4-.2 1.4-.3 1.4-.2 1.4 0 1.4 .2 1.4-.1 1.4-.4 1.4-.2 1.4 0 1.4 0 1.4 .1 1.4 0 1.4 .1 1.4 .3 1.4 .1 1.4-.3 1.4 0 1.4 .2 1.4 0 1.4 0 1.4 .3 1.4 .2 1.4-.2 1.4 .1 1.4 .4 1.4-.1 1.4-.5 1.4 0 1.4 .1 1.4-.2 1.4 0 1.4 0 1.4-.2 1.4-.1 1.4-.2 1.4-.1 1.4 .3 1.4 .8 1.4 .3 1.4-.3 1.4-.2 1.4 .1 1.4 .1 1.4 0 1.4-.3 1.4-.3 1.4 0 1.4-.1 1.4-.3 1.4 .1 1.4 .5 1.4 0 1.4-.1 1.4 .4 1.4 .1 1.4-.5 1.4-.2 1.4 .2 1.4 .1 1.4-.3 1.4-.1 1.4-.1 1.4-.1 1.4 .4 1.4 .4 1.4-.1 1.4 0 1.4 0 1.4 0 1.4-.3 1.4-.2 1.4 0 1.4 .3 1.4 .4 1.4 .1 1.4-.4 1.4-.4 1.4-.1 1.4 .3 1.4 .3 1.4-.1 1.4-.3 1.4 0 1.4 .2 1.4 0 1.4-.1 1.4 .1 1.4 .2 1.4 0 1.4 .1 1.4 0 1.4-.2 1.4-.1 1.4-.2 1.4-.3 1.4 0 1.4 .1 1.4 .2 1.4 .1 1.4 .1 1.4-.4 1.4-.5 1.4 .1 1.4 .1 1.4 .1 1.4 .1 1.4 .3 1.4 0 1.4-.3 1.4 0 1.4-.1 1.4-.1 1.4 .3 1.4 .1 1.4-.3 1.4 .4 1.4 .5 1.4-.6 1.4-.7 1.4 .1 1.4 .2 1.4 .1 1.4 0 1.4 0 1.4 .1 1.4-.2 1.4-.2 1.4 0 1.4 .3 1.4 .3 1.4 0 1.4-.2 1.4 0 1.4 .3 1.4 .1 1.4-.3 1.4 0 1.4 0 1.4-.3 1.4 .1 1.4 0 1.4 0 1.4 .2 1.4 .2 1.4 0 1.4-.3 1.4 .2 1.4 .1 1.4-.4 1.4 0 1.4 .2 1.4-.1 1.4 0 1.4 0 1.4 .1 1.4 .1 1.4-.3 1.4-.1 1.4-.1 1.4-.1 1.4-.1 1.4 0 1.4 .5 1.4 .4 1.4 .1 1.4-.4 1.4-.3 1.4 0 1.4-.1 1.4 .1 1.4 .1 1.4-.2 1.4 0 1.4 .1 1.4-.3 1.4-.1 1.4 .1 1.4 .1 1.4 .3 1.4-.1 1.4-.5 1.4-.1 1.4 0 1.4-.2 1.4 .1 1.4 .2 1.4-.1 1.4-.2 1.4 .2 1.4 .1 1.4-.2 1.4 .1 1.4 .6 1.4-.1 1.4-.7 1.4-.1 1.4 .2 1.4-.1 1.4 0 1.4 .2 1.4-.2 1.4-.6 1.4-.1 1.4 .5 1.4 .5 1.4-.2 1.4-.3 1.4 .4 1.4 .1 1.4-.2 1.4-.1 1.4 .3 1.4 .1 1.4-.1 1.4-.1 1.4-.2 1.4-.2 1.4-.1 1.4 .2 1.4 0 1.4 0 1.4 .3 1.4 0 1.4-.3 1.4-.3 1.4 .1 1.4-.1 1.4-.2 1.4 .2 1.4 .4 1.4 0 1.4-.5 1.4-.2 1.4 .2 1.4 .2 1.4 .1 1.4-.6 1.4-.3 1.4 .4 1.4 .2 1.4 .1 1.4 .3 1.4 .1 1.4-.4 1.4-.6 1.4-.1 1.4 .4 1.4 .3 1.4-.1 1.4 .1 1.4 0 1.4 .1 1.4-.3 1.4-.5 1.4-.2 1.4-.2 1.4 .1 1.4 .5 1.4 .5 1.4 0 1.4-.4 1.4-.4 1.4 0 1.4 .3 1.4 0 1.4-.2 1.4 .1 1.4-.2 1.4-.3 1.4 .3 1.4 0 1.4-.2 1.4 .2 1.4 .4 1.4 .2 1.4-.3 1.4-.6 1.4-.1 1.4 .1 1.4-.3 1.4-.3 1.4 .2 1.4 .7 1.4 .1 1.4-.3 1.4-.2 1.4-.3 1.4 .1 1.4 0 1.4 0 1.4 .1 1.4-.3 1.4 0 1.4 .2 1.4 0 1.4-.2 1.4-.4 1.4-.2 1.4 .2 1.4 .1 1.4 0 1.4-.4 1.4-.2 1.4 .5 1.4 .2 1.4-.3 1.4-.1 1.4 0 1.4-.2 1.4-.1 1.4 0 1.4 .2 1.4 .1 1.4-.1 1.4 .1 1.4-.2 1.4-.5 1.4-.1 1.4 .2 1.4 .1 1.4-.1 1.4-.2 1.4 .3 1.4 .2 1.4-.4 1.4-.3 1.4 .1 1.4 .1 1.4 .1 1.4 0 1.4 0 1.4 0 1.4-.2 1.4-.6 1.4 0 1.4 .3 1.4-.1 1.4 0 1.4-.1 1.4-.1 1.4-.1 1.4 .1 1.4 .1 1.4-.1 1.4 .1 1.4 .3 1.4-.4 1.4-.3 1.4 .3 1.4 .2 1.4 .1 1.4-.3 1.4-.4 1.4 .1 1.4 .1 1.4-.3 1.4-.5 1.4-.5 1.4 .4 1.4 .3 1.4-.5 1.4-.1 1.4 .4 1.4 .2 1.4-.2 1.4-.5 1.4 0 1.4 .1 1.4-.4 1.4 .3 1.4 .4 1.4 0 1.4-.7 1.4-.7 1.4 .2 1.4 .3 1.4-.1 1.4 .2 1.4 .3 1.4-.5 1.4-.5 1.4 0 1.4 0 1.4-.2 1.4 .1 1.4 .1 1.4-.3 1.4-.3 1.4 .1 1.4 0 1.4 0 1.4 .2 1.4-.2 1.4-.4 1.4 .2 1.4 .4 1.4-.1 1.4-.4 1.4-.3 1.4-.4 1.4-.2 1.4 .3 1.4 .1 1.4-.1 1.4-.2 1.4-.1 1.4-.1 1.4 .1 1.4 0 1.4-.2 1.4-.2 1.4-.5 1.4 .1 1.4 .6 1.4 .1 1.4-.4 1.4-.5 1.4-.2 1.4 .2 1.4 0 1.4-.4 1.4 .2 1.4 .1 1.4-.2 1.4-.3 1.4-.1 1.4 0 1.4 .2 1.4-.2 1.4-.2 1.4 .4 1.4-.1 1.4-.2 1.4 .1 1.4-.4 1.4 0 1.4-.1 1.4-.4 1.4 .2 1.4 0 1.4-.3 1.4-.1 1.4 0 1.4-.2 1.4-.2 1.4 0 1.4 .2 1.4 .2 1.4-.4 1.4-.2 1.4 .2 1.4 .1 1.4 .2 1.4-.1 1.4-.3 1.4-.1 1.4 .1 1.4 .2 1.4-.1 1.4-.6 1.4 0 1.4 .6 1.4 .1 1.4-.4 1.4-.2 1.4-.3 1.4-.2 1.4 .1 1.4 0 1.4-.2 1.4-.2 1.4 .2 1.4 .2 1.4-.1 1.4-.3 1.4-.3 1.4 .1 1.4 .1 1.4-.4 1.4-.1 1.4 .3 1.4 0 1.4 0 1.4 0 1.4-.1 1.4-.3 1.4-.3 1.4 .1 1.4 .1 1.4 0 1.4-.3 1.4-.1 1.4 .3 1.4 0 1.4-.2 1.4-.2 1.4-.2 1.4-.2 1.4-.2 1.4-.3 1.4-.3 1.4 0 1.4 .1 1.4-.6 1.4-.6 1.4-.2 1.4-.2 1.4-.3 1.4-.7 1.4-.4 1.4-.2 1.4-.3 1.4-.2 1.4-.1 1.4-.1 1.4-.4 1.4-.8 1.4-1 1.4-.9 1.4-.6 1.4-.8 1.4-1.1 1.4-.7 1.4-.7 1.4-1 1.4-1.4 1.4-1.5 1.4-1.6 1.4-1.9 1.4-1.8 1.4-1.5 1.4-1.6 1.4-2.5 1.4-2.9 1.4-2.8 1.4-2.8 1.4-3.5 1.4-3.8 1.4-4.1 1.4-4 1.4-3.6 1.4-4.3 1.4-4.1 1.4-2.9 1.4-1.7 1.4-1.3 1.4-.8 1.4-.3 1.4 .3 1.4 .8 1.4 1.1 1.4 2.3 1.4 4.2 1.4 4.9 1.4 4 1.4 3.6 1.4 3.7 1.4 3.7 1.4 4 1.4 4.2 1.4 3.8 1.4 3.8 1.4 3.7 1.4 3.3 1.4 2.6 1.4 2.8 1.4 2.7 1.4 1.9 1.4 2 1.4 2.3 1.4 1.5 1.4 1 1.4 1.2 1.4 .9 1.4 .8 1.4 .5 1.4 .5 1.4 .7 1.4 .4 1.4 0 1.4 .6 1.4 .6 1.4 .3 1.4 .3 1.4 .4 1.4 0 1.4 0 1.4 .5 1.4 .4 1.4 .3 1.4 .1 1.4-.1 1.4 .1 1.4 .2 1.4-.1 1.4 .4 1.4 .2 1.4 0 1.4 0 1.4-.2 1.4-.2 1.4 .2 1.4 .1 1.4-.1 1.4 .2 1.4 .1 1.4-.1 1.4-.3 1.4 .2 1.4 0 1.4-.2 1.4-.1 1.4 0 1.4 0 1.4 .3 1.4 .3 1.4 .2 1.4-.1 1.4-.2 1.4 0 1.4-.2 1.4-.3 1.4-.1 1.4-.1 1.4-.2 1.4-.2 1.4-.1 1.4-.2 1.4-.1 1.4 .2 1.4-.1 1.4-.2 1.4-.1 1.4-.3 1.4-.5 1.4-.5 1.4-.7 1.4-.6 1.4 .1 1.4 .1 1.4-.4 1.4 0 1.4 0 1.4-.5 1.4 0 1.4-.2 1.4-.3 1.4-.3 1.4-.8 1.4-.7 1.4-.2 1.4-.5 1.4-.5 1.4 .1 1.4 .4 1.4-.3 1.4-.5 1.4-.1 1.4-.1 1.4-.1 1.4-.3 1.4-.3 1.4-.1 1.4 .3 1.4 .6 1.4 .6 1.4 .3 1.4 .1 1.4-.1 1.4-.1 1.4 0 1.4 .2 1.4 .2 1.4 .8 1.4 .9 1.4 .4 1.4 .3 1.4 .1 1.4 .1 1.4 .6 1.4 .7 1.4 .9 1.4 .5 1.4-.1 1.4 .1 1.4 .5 1.4 .2 1.4 .3 1.4 .7 1.4 .6 1.4 .2 1.4 .1 1.4 .2 1.4 .4 1.4 .5 1.4 .2 1.4 .2 1.4 .3 1.4 .1 1.4 0 1.4 .4 1.4 .8 1.4 .2 1.4 .3 1.4 .3 1.4 0 1.4 0 1.4 .2 1.4 .3 1.4 .1 1.4-.1 1.4 0 1.4 .3 1.4-.1 1.4-.3 1.4 .1 1.4 .3 1.4-.1 1.4 0 1.4 .3 1.4 .1 1.4 0 1.4-.1 1.4-.1 1.4 0 1.4 0 1.4 .1 1.4 .3"/>
<path d="M150.5 1748.6l1.4 3.4 1.4 3.3 1.4 2.9 1.4 2.6 1.4 2.8 1.4 2.4 1.4 1.5 1.4 0 1.4-1 1.4-1.1 1.4-1.1 1.4-1.5 1.4-1.1 1.4-.6 1.4-1 1.4-1.4 1.4-1.7 1.4-1.5 1.4-1.1 1.4-1.1 1.4-1.4 1.4-1.5 1.4-1.3 1.4-.9 1.4-.6 1.4-1.2 1.4-1.5 1.4-1.1 1.4-.5 1.4-.6 1.4-.6 1.4-.6 1.4-.6 1.4-.1 1.4 .3 1.4-.2 1.4-.5 1.4 .1 1.4 .3 1.4 0 1.4 .2 1.4 .4 1.4 .5 1.4 .9 1.4 .9 1.4 .8 1.4 1.1 1.4 1 1.4 .9 1.4 1.4 1.4 1.5 1.4 1.3 1.4 1.6 1.4 1.4 1.4 1.2 1.4 1.5 1.4 1.5 1.4 1.4 1.4 1.1 1.4 1.2 1.4 1.7 1.4 1.8 1.4 1.2 1.4 1 1.4 1.3 1.4 1.5 1.4 1.6 1.4 1.8 1.4 1.4 1.4 .9 1.4 1.4 1.4 1.3 1.4 1 1.4 1.1 1.4 1.2 1.4 1.3 1.4 1 1.4 .8 1.4 1 1.4 .9 1.4 .8 1.4 .8 1.4 .6 1.4 .6 1.4 .4 1.4 .2 1.4 .3 1.4 .6 1.4 .8 1.4 .2 1.4-.2 1.4 .4 1.4 .6 1.4 0 1.4 .5 1.4 .9 1.4 .1 1.4-.2 1.4 .5 1.4 .4 1.4 0 1.4 .1 1.4-.1 1.4 0 1.4 .2 1.4 .5 1.4 .3 1.4 .2 1.4-.5 1.4-.4 1.4 .4 1.4 .4 1.4 .2 1.4-.2 1.4 .1 1.4 .2 1.4 0 1.4 0 1.4-.2 1.4 0 1.4 .1 1.4-.4 1.4 .1 1.4 .5 1.4 .1 1.4 .1 1.4-.1 1.4 .2 1.4 .3 1.4-.2 1.4-.3 1.4-.1 1.4 .2 1.4 .4 1.4 .2 1.4-.2 1.4 .1 1.4 0 1.4-.1 1.4 .2 1.4 .2 1.4 .1 1.4 .2 1.4 0 1.4 .3 1.4 .6 1.4 .2 1.4 0 1.4 0 1.4 .1 1.4 .3 1.4 .3 1.4 .1 1.4-.3 1.4-.1 1.4-.3 1.4-.5 1.4 .4 1.4 .7 1.4 .3 1.4 0 1.4 .4 1.4 .1 1.4-.2 1.4 .3 1.4 .2 1.4-.4 1.4-.2 1.4 .2 1.4-.1 1.4-.2 1.4 0 1.4 .1 1.4 .3 1.4 .2 1.4 0 1.4-.2 1.4-.4 1.4 .2 1.4 .2 1.4 .2 1.4 .3 1.4-.4 1.4-.2 1.4 .3 1.4 .1 1.4-.3 1.4 0 1.4 .2 1.4 .2 1.4 0 1.4-.2 1.4 .2 1.4 .2 1.4-.4 1.4-.6 1.4 .1 1.4 .4 1.4 .2 1.4 .3 1.4 .2 1.4 0 1.4-.2 1.4 .2 1.4 .2 1.4-.2 1.4 .1 1.4 .4 1.4-.4 1.4-.4 1.4 .2 1.4 .2 1.4 .2 1.4 .2 1.4 0 1.4-.1 1.4 .2 1.4 0 1.4 0 1.4 0 1.4 0 1.4-.1 1.4 0 1.4 0 1.4-.2 1.4 .2 1.4 .4 1.4 .1 1.4-.1 1.4 0 1.4 .1 1.4 .1 1.4 0 1.4 0 1.4 .2 1.4 .1 1.4 0 1.4-.3 1.4 .2 1.4 .5 1.4 0 1.4 0 1.4 .1 1.4 0 1.4 0 1.4-.1 1.4 .2 1.4 .4 1.4 .4 1.4 .1 1.4 .1 1.4 .2 1.4-.3 1.4-.5 1.4 .3 1.4 .8 1.4 .1 1.4-.2 1.4 0 1.4 .3 1.4 .5 1.4 .3 1.4 .2 1.4-.4 1.4-.2 1.4 .4 1.4 .3 1.4 .2 1.4 .4 1.4 0 1.4 .1 1.4 0 1.4-.1 1.4 .2 1.4 .2 1.4 .4 1.4 .2 1.4-.1 1.4 .1 1.4 .1 1.4 0 1.4 .1 1.4 .1 1.4-.1 1.4 0 1.4 .1 1.4 .2 1.4-.2 1.4 0 1.4 .2 1.4 .2 1.4 0 1.4 .3 1.4 .3 1.4-.3 1.4-.4 1.4 .4 1.4 .3 1.4 0 1.4 .1 1.4 .1 1.4-.1 1.4-.2 1.4-.1 1.4 .1 1.4 .3 1.4 .1 1.4 0 1.4-.1 1.4 .1 1.4-.1 1.4-.3 1.4 0 1.4 .2 1.4 .2 1.4 0 1.4 0 1.4 .1 1.4 .2 1.4-.1 1.4-.3 1.4 .1 1.4 .3 1.4 .3 1.4-.2 1.4-.2 1.4 .1 1.4 .1 1.4 .2 1.4 .2 1.4 0 1.4 0 1.4-.1 1.4-.2 1.4 .3 1.4 .1 1.4-.2 1.4-.2 1.4 .1 1.4 0 1.4 .1 1.4 .3 1.4-.1 1.4-.4 1.4 .1 1.4 .3 1.4 .1 1.4-.1 1.4 .2 1.4-.2 1.4-.5 1.4-.2 1.4 .1 1.4 .3 1.4 .4 1.4-.2 1.4-.4 1.4 .1 1.4 .2 1.4-.1 1.4-.1 1.4-.1 1.4-.1 1.4 .3 1.4 .2 1.4-.1 1.4-.3 1.4-.2 1.4 .2 1.4 .2 1.4 .1 1.4 .2 1.4 .3 1.4-.1 1.4-.5 1.4 0 1.4 .3 1.4 .1 1.4 .1 1.4 0 1.4-.4 1.4-.1 1.4 0 1.4-.2 1.4-.1 1.4 .3 1.4 .2 1.4-.1 1.4-.2 1.4-.1 1.4 .1 1.4 .1 1.4-.4 1.4 .1 1.4 .3 1.4-.1 1.4 .3 1.4 .2 1.4-.3 1.4-.2 1.4 0 1.4 .2 1.4 .1 1.4 .2 1.4 .2 1.4 0 1.4 0 1.4-.3 1.4-.3 1.4 .1 1.4 0 1.4-.1 1.4 .3 1.4 .1 1.4-.2 1.4-.2 1.4 .1 1.4 .1 1.4-.1 1.4-.2 1.4-.1 1.4 .3 1.4-.3 1.4-.4 1.4 .2 1.4 .3 1.4 .2 1.4 0 1.4-.1 1.4 .3 1.4 .4 1.4 .1 1.4-.2 1.4-.3 1.4-.2 1.4 0 1.4 .2 1.4-.1 1.4-.4 1.4-.2 1.4 0 1.4 0 1.4 .1 1.4 0 1.4 .1 1.4 .3 1.4 .1 1.4-.3 1.4 0 1.4 .2 1.4 0 1.4 0 1.4 .3 1.4 .2 1.4-.2 1.4 .1 1.4 .4 1.4-.1 1.4-.5 1.4 0 1.4 .1 1.4-.2 1.4 0 1.4 0 1.4-.2 1.4-.1 1.4-.2 1.4-.1 1.4 .3 1.4 .8 1.4 .3 1.4-.3 1.4-.2 1.4 .1 1.4 .1 1.4 0 1.4-.3 1.4-.3 1.4 0 1.4-.1 1.4-.3 1.4 .1 1.4 .5 1.4 0 1.4-.1 1.4 .4 1.4 .1 1.4-.5 1.4-.2 1.4 .2 1.4 .1 1.4-.3 1.4-.1 1.4-.1 1.4-.1 1.4 .4 1.4 .4 1.4-.1 1.4 0 1.4 0 1.4 0 1.4-.3 1.4-.2 1.4 0 1.4 .3 1.4 .4 1.4 .1 1.4-.4 1.4-.4 1.4-.1 1.4 .3 1.4 .3 1.4-.1 1.4-.3 1.4 0 1.4 .2 1.4 0 1.4-.1 1.4 .1 1.4 .2 1.4 0 1.4 .1 1.4 0 1.4-.2 1.4-.1 1.4-.2 1.4-.3 1.4 0 1.4 .1 1.4 .2 1.4 .1 1.4 .1 1.4-.4 1.4-.5 1.4 .1 1.4 .1 1.4 .1 1.4 .1 1.4 .3 1.4 0 1.4-.3 1.4 0 1.4-.1 1.4-.1 1.4 .3 1.4 .1 1.4-.3 1.4 .4 1.4 .5 1.4-.6 1.4-.7 1.4 .1 1.4 .2 1.4 .1 1.4 0 1.4 0 1.4 .1 1.4-.2 1.4-.2 1.4 0 1.4 .3 1.4 .3 1.4 0 1.4-.2 1.4 0 1.4 .3 1.4 .1 1.4-.3 1.4 0 1.4 0 1.4-.3 1.4 .1 1.4 0 1.4 0 1.4 .2 1.4 .2 1.4 0 1.4-.3 1.4 .2 1.4 .1 1.4-.4 1.4 0 1.4 .2 1.4-.1 1.4 0 1.4 0 1.4 .1 1.4 .1 1.4-.3 1.4-.1 1.4-.1 1.4-.1 1.4-.1 1.4 0 1.4 .5 1.4 .4 1.4 .1 1.4-.4 1.4-.3 1.4 0 1.4-.1 1.4 .1 1.4 .1 1.4-.2 1.4 0 1.4 .1 1.4-.3 1.4-.1 1.4 .1 1.4 .1 1.4 .3 1.4-.1 1.4-.5 1.4-.1 1.4 0 1.4-.2 1.4 .1 1.4 .2 1.4-.1 1.4-.2 1.4 .2 1.4 .1 1.4-.2 1.4 .1 1.4 .6 1.4-.1 1.4-.7 1.4-.1 1.4 .2 1.4-.1 1.4 0 1.4 .2 1.4-.2 1.4-.6 1.4-.1 1.4 .5 1.4 .5 1.4-.2 1.4-.3 1.4 .4 1.4 .1 1.4-.2 1.4-.1 1.4 .3 1.4 .1 1.4-.1 1.4-.1 1.4-.2 1.4-.2 1.4-.1 1.4 .2 1.4 0 1.4 0 1.4 .3 1.4 0 1.4-.3 1.4-.3 1.4 .1 1.4-.1 1.4-.2 1.4 .2 1.4 .4 1.4 0 1.4-.5 1.4-.2 1.4 .2 1.4 .2 1.4 .1 1.4-.6 1.4-.3 1.4 .4 1.4 .2 1.4 .1 1.4 .3 1.4 .1 1.4-.4 1.4-.6 1.4-.1 1.4 .4 1.4 .3 1.4-.1 1.4 .1 1.4 0 1.4 .1 1.4-.3 1.4-.5 1.4-.2 1.4-.2 1.4 .1 1.4 .5 1.4 .5 1.4 0 1.4-.4 1.4-.4 1.4 0 1.4 .3 1.4 0 1.4-.2 1.4 .1 1.4-.2 1.4-.3 1.4 .3 1.4 0 1.4-.2 1.4 .2 1.4 .4 1.4 .2 1.4-.3 1.4-.6 1.4-.1 1.4 .1 1.4-.3 1.4-.3 1.4 .2 1.4 .7 1.4 .1 1.4-.3 1.4-.2 1.4-.3 1.4 .1 1.4 0 1.4 0 1.4 .1 1.4-.3 1.4 0 1.4 .2 1.4 0 1.4-.2 1.4-.4 1.4-.2 1.4 .2 1.4 .1 1.4 0 1.4-.4 1.4-.2 1.4 .5 1.4 .2 1.4-.3 1.4-.1 1.4 0 1.4-.2 1.4-.1 1.4 0 1.4 .2 1.4 .1 1.4-.1 1.4 .1 1.4-.2 1.4-.5 1.4-.1 1.4 .2 1.4 .1 1.4-.1 1.4-.2 1.4 .3 1.4 .2 1.4-.4 1.4-.3 1.4 .1 1.4 .1 1.4 .1 1.4 0 1.4 0 1.4 0 1.4-.2 1.4-.6 1.4 0 1.4 .3 1.4-.1 1.4 0 1.4-.1 1.4-.1 1.4-.1 1.4 .1 1.4 .1 1.4-.1 1.4 .1 1.4 .3 1.4-.4 1.4-.3 1.4 .3 1.4 .2 1.4 .1 1.4-.3 1.4-.4 1.4 .1 1.4 .1 1.4-.3 1.4-.5 1.4-.5 1.4 .4 1.4 .3 1.4-.5 1.4-.1 1.4 .4 1.4 .2 1.4-.2 1.4-.5 1.4 0 1.4 .1 1.4-.4 1.4 .3 1.4 .4 1.4 0 1.4-.7 1.4-.7 1.4 .2 1.4 .3 1.4-.1 1.4 .2 1.4 .3 1.4-.5 1.4-.5 1.4 0 1.4 0 1.4-.2 1.4 .1 1.4 .1 1.4-.3 1.4-.3 1.4 .1 1.4 0 1.4 0 1.4 .2 1.4-.2 1.4-.4 1.4 .2 1.4 .4 1.4-.1 1.4-.4 1.4-.3 1.4-.4 1.4-.2 1.4 .3 1.4 .1 1.4-.1 1.4-.2 1.4-.1 1.4-.1 1.4 .1 1.4 0 1.4-.2 1.4-.2 1.4-.5 1.4 .1 1.4 .6 1.4 .1 1.4-.4 1.4-.5 1.4-.2 1.4 .2 1.4 0 1.4-.4 1.4 .2 1.4 .1 1.4-.2 1.4-.3 1.4-.1 1.4 0 1.4 .2 1.4-.2 1.4-.2 1.4 .4 1.4-.1 1.4-.2 1.4 .1 1.4-.4 1.4 0 1.4-.1 1.4-.4 1.4 .2 1.4 0 1.4-.3 1.4-.1 1.4 0 1.4-.2 1.4-.2 1.4 0 1.4 .2 1.4 .2 1.4-.4 1.4-.2 1.4 .2 1.4 .1 1.4 .2 1.4-.1 1.4-.3 1.4-.1 1.4 .1 1.4 .2 1.4-.1 1.4-.6 1.4 0 1.4 .6 1.4 .1 1.4-.4 1.4-.2 1.4-.3 1.4-.2 1.4 .1 1.4 0 1.4-.2 1.4-.2 1.4 .2 1.4 .2 1.4-.1 1.4-.3 1.4-.3 1.4 .1 1.4 .1 1.4-.4 1.4-.1 1.4 .3 1.4 0 1.4 0 1.4 0 1.4-.1 1.4-.3 1.4-.3 1.4 .1 1.4 .1 1.4 0 1.4-.3 1.4-.1 1.4 .3 1.4 0 1.4-.2 1.4-.2 1.4-.2 1.4-.2 1.4-.2 1.4-.3 1.4-.3 1.4 0 1.4 .1 1.4-.6 1.4-.6 1.4-.2 1.4-.2 1.4-.3 1.4-.7 1.4-.4 1.4-.2 1.4-.3 1.4-.2 1.4-.1 1.4-.1 1.4-.4 1.4-.8 1.4-1 1.4-.9 1.4-.6 1.4-.8 1.4-1.1 1.4-.7 1.4-.7 1.4-1 1.4-1.4 1.4-1.5 1.4-1.6 1.4-1.9 1.4-1.8 1.4-1.5 1.4-1.6 1.4-2.5 1.4-2.9 1.4-2.8 1.4-2.8 1.4-3.5 1.4-3.8 1.4-4.1 1.4-4 1.4-3.6 1.4-4.3 1.4-4.1 1.4-2.9 1.4-1.7 1.4-1.3 1.4-.8 1.4-.3 1.4 .3 1.4 .8 1.4 1.1 1.4 2.3 1.4 4.2 1.4 4.9 1.4 4 1.4 3.6 1.4 3.7 1.4 3.7 1.4 4 1.4 4.2 1.4 3.8 1.4 3.8 1.4 3.7 1.4 3.3 1.4 2.6 1.4 2.8 1.4 2.7 1.4 1.9 1.4 2 1.4 2.3 1.4 1.5 1.4 1 1.4 1.2 1.4 .9 1.4 .8 1.4 .5 1.4 .5 1.4 .7 1.4 .4 1.4 0 1.4 .6 1.4 .6 1.4 .3 1.4 .3 1.4 .4 1.4 0 1.4 0 1.4 .5 1.4 .4 1.4 .3 1.4 .1 1.4-.1 1.4 .1 1.4 .2 1.4-.1 1.4 .4 1.4 .2 1.4 0 1.4 0 1.4-.2 1.4-.2 1.4 .2 1.4 .1 1.4-.1 1.4 .2 1.4 .1 1.4-.1 1.4-.3 1.4 .2 1.4 0 1.4-.2 1.4-.1 1.4 0 1.4 0 1.4 .3 1.4 .3 1.4 .2 1.4-.1 1.4-.2 1.4 0 1.4-.2 1.4-.3 1.4-.1 1.4-.1 1.4-.2 1.4-.2 1.4-.1 1.4-.2 1.4-.1 1.4 .2 1.4-.1 1.4-.2 1.4-.1 1.4-.3 1.4-.5 1.4-.5 1.4-.7 1.4-.6 1.4 .1 1.4 .1 1.4-.4 1.4 0 1.4 0 1.4-.5 1.4 0 1.4-.2 1.4-.3 1.4-.3 1.4-.8 1.4-.7 1.4-.2 1.4-.5 1.4-.5 1.4 .1 1.4 .4 1.4-.3 1.4-.5 1.4-.1 1.4-.1 1.4-.1 1.4-.3 1.4-.3 1.4-.1 1.4 .3 1.4 .6 1.4 .6 1.4 .3 1.4 .1 1.4-.1 1.4-.1 1.4 0 1.4 .2 1.4 .2 1.4 .8 1.4 .9 1.4 .4 1.4 .3 1.4 .1 1.4 .1 1.4 .6 1.4 .7 1.4 .9 1.4 .5 1.4-.1 1.4 .1 1.4 .5 1.4 .2 1.4 .3 1.4 .7 1.4 .6 1.4 .2 1.4 .1 1.4 .2 1.4 .4 1.4 .5 1.4 .2 1.4 .2 1.4 .3 1.4 .1 1.4 0 1.4 .4 1.4 .8 1.4 .2 1.4 .3 1.4 .3 1.4 0 1.4 0 1.4 .2 1.4 .3 1.4 .1 1.4-.1 1.4 0 1.4 .3 1.4-.1 1.4-.3 1.4 .1 1.4 .3 1.4-.1 1.4 0 1.4 .3 1.4 .1 1.4 0 1.4-.1 1.4-.1 1.4 0 1.4 0 1.4 .1 1.4 .3"/>
<path d="M150.5 1822.2l1.4 4.1 1.4 4 1.4 3.4 1.4 3.1 1.4 3.3 1.4 2.8 1.4 1.9 1.4 0 1.4-1.2 1.4-1.4 1.4-1.2 1.4-1.8 1.4-1.4 1.4-.7 1.4-1.1 1.4-1.7 1.4-2 1.4-1.9 1.4-1.2 1.4-1.3 1.4-1.8 1.4-1.7 1.4-1.5 1.4-1.1 1.4-.7 1.4-1.4 1.4-1.8 1.4-1.3 1.4-.7 1.4-.6 1.4-.8 1.4-.7 1.4-.7 1.4-.2 1.4 .4 1.4-.2 1.4-.5 1.4 0 1.4 .4 1.4 0 1.4 .2 1.4 .5 1.4 .6 1.4 1.1 1.4 1 1.4 1 1.4 1.3 1.4 1.2 1.4 1.1 1.4 1.6 1.4 1.8 1.4 1.5 1.4 1.9 1.4 1.7 1.4 1.5 1.4 1.7 1.4 1.8 1.4 1.6 1.4 1.4 1.4 1.5 1.4 2 1.4 2.1 1.4 1.4 1.4 1.2 1.4 1.5 1.4 1.8 1.4 1.9 1.4 2.2 1.4 1.6 1.4 1.1 1.4 1.7 1.4 1.5 1.4 1.2 1.4 1.4 1.4 1.4 1.4 1.5 1.4 1.2 1.4 .9 1.4 1.2 1.4 1.1 1.4 1 1.4 .9 1.4 .7 1.4 .7 1.4 .5 1.4 .2 1.4 .4 1.4 .8 1.4 .9 1.4 .2 1.4-.3 1.4 .6 1.4 .6 1.4 0 1.4 .7 1.4 1 1.4 .1 1.4-.1 1.4 .5 1.4 .5 1.4 0 1.4 .1 1.4-.1 1.4 0 1.4 .3 1.4 .5 1.4 .4 1.4 .2 1.4-.5 1.4-.6 1.4 .5 1.4 .5 1.4 .2 1.4-.2 1.4 .1 1.4 .3 1.4 0 1.4-.1 1.4-.1 1.4 0 1.4 .1 1.4-.5 1.4 .1 1.4 .5 1.4 .2 1.4 .1 1.4-.1 1.4 .2 1.4 .4 1.4-.2 1.4-.4 1.4-.1 1.4 .2 1.4 .5 1.4 .2 1.4-.2 1.4 .1 1.4 0 1.4-.1 1.4 .2 1.4 .3 1.4 .1 1.4 .2 1.4 0 1.4 .4 1.4 .7 1.4 .2 1.4 0 1.4 0 1.4 .2 1.4 .3 1.4 .4 1.4 .1 1.4-.3 1.4-.2 1.4-.4 1.4-.5 1.4 .4 1.4 .9 1.4 .3 1.4 .1 1.4 .4 1.4 .1 1.4-.2 1.4 .4 1.4 .2 1.4-.5 1.4-.3 1.4 .3 1.4-.1 1.4-.3 1.4 .1 1.4 .1 1.4 .3 1.4 .3 1.4 0 1.4-.3 1.4-.4 1.4 .1 1.4 .3 1.4 .2 1.4 .4 1.4-.5 1.4-.2 1.4 .4 1.4 0 1.4-.2 1.4-.1 1.4 .3 1.4 .2 1.4 0 1.4-.2 1.4 .1 1.4 .3 1.4-.5 1.4-.7 1.4 .1 1.4 .5 1.4 .3 1.4 .3 1.4 .3 1.4 0 1.4-.2 1.4 .2 1.4 .2 1.4-.2 1.4 .1 1.4 .4 1.4-.5 1.4-.4 1.4 .3 1.4 .2 1.4 .2 1.4 .3 1.4 0 1.4-.1 1.4 .2 1.4 0 1.4-.1 1.4 .1 1.4 0 1.4-.2 1.4 0 1.4 .1 1.4-.2 1.4 .2 1.4 .5 1.4 0 1.4-.1 1.4 .1 1.4 .1 1.4 .1 1.4-.1 1.4 .1 1.4 .2 1.4 .2 1.4-.1 1.4-.4 1.4 .3 1.4 .6 1.4 0 1.4 0 1.4 .1 1.4 .1 1.4-.1 1.4-.1 1.4 .3 1.4 .4 1.4 .5 1.4 .2 1.4 0 1.4 .3 1.4-.4 1.4-.6 1.4 .4 1.4 .9 1.4 .2 1.4-.3 1.4 0 1.4 .4 1.4 .6 1.4 .4 1.4 .1 1.4-.4 1.4-.3 1.4 .6 1.4 .3 1.4 .2 1.4 .4 1.4 .1 1.4 .2 1.4-.1 1.4-.1 1.4 .2 1.4 .3 1.4 .4 1.4 .2 1.4-.1 1.4 .2 1.4 0 1.4 .1 1.4 .1 1.4 .1 1.4 0 1.4-.1 1.4 .2 1.4 .1 1.4-.1 1.4 0 1.4 .2 1.4 .2 1.4 0 1.4 .4 1.4 .3 1.4-.4 1.4-.4 1.4 .4 1.4 .4 1.4 0 1.4 .2 1.4 .1 1.4-.2 1.4-.2 1.4-.1 1.4 .2 1.4 .2 1.4 .2 1.4 0 1.4-.1 1.4 .1 1.4-.1 1.4-.4 1.4 0 1.4 .2 1.4 .2 1.4 .1 1.4 0 1.4 .1 1.4 .3 1.4-.2 1.4-.3 1.4 .1 1.4 .3 1.4 .4 1.4-.2 1.4-.2 1.4 .1 1.4 0 1.4 .2 1.4 .3 1.4 0 1.4 0 1.4-.1 1.4-.2 1.4 .4 1.4 .1 1.4-.3 1.4-.3 1.4 .2 1.4 0 1.4 .1 1.4 .4 1.4-.2 1.4-.4 1.4 .1 1.4 .3 1.4 .1 1.4 0 1.4 .2 1.4-.3 1.4-.6 1.4-.2 1.4 .1 1.4 .4 1.4 .5 1.4-.3 1.4-.5 1.4 .2 1.4 .3 1.4-.2 1.4-.1 1.4-.1 1.4-.2 1.4 .4 1.4 .3 1.4-.2 1.4-.4 1.4-.1 1.4 .2 1.4 .2 1.4 .1 1.4 .2 1.4 .5 1.4-.2 1.4-.7 1.4 .1 1.4 .4 1.4 0 1.4 .3 1.4 0 1.4-.6 1.4-.2 1.4 .1 1.4-.3 1.4-.1 1.4 .4 1.4 .2 1.4-.1 1.4-.2 1.4-.1 1.4 .1 1.4 .1 1.4-.4 1.4 .1 1.4 .3 1.4-.1 1.4 .4 1.4 .2 1.4-.4 1.4-.2 1.4 0 1.4 .3 1.4 .1 1.4 .1 1.4 .3 1.4 0 1.4 0 1.4-.3 1.4-.4 1.4 .2 1.4 0 1.4-.2 1.4 .4 1.4 .1 1.4-.3 1.4-.2 1.4 .1 1.4 .2 1.4-.1 1.4-.3 1.4-.1 1.4 .3 1.4-.3 1.4-.5 1.4 .2 1.4 .4 1.4 .2 1.4 0 1.4-.1 1.4 .3 1.4 .5 1.4 .2 1.4-.3 1.4-.4 1.4-.2 1.4 0 1.4 .3 1.4-.1 1.4-.6 1.4-.2 1.4 0 1.4 0 1.4 .2 1.4 0 1.4 0 1.4 .4 1.4 .1 1.4-.3 1.4 0 1.4 .2 1.4 0 1.4 0 1.4 .4 1.4 .2 1.4-.2 1.4 .1 1.4 .4 1.4 0 1.4-.6 1.4-.1 1.4 .2 1.4-.3 1.4 .1 1.4-.1 1.4-.2 1.4-.1 1.4-.2 1.4-.1 1.4 .3 1.4 .9 1.4 .4 1.4-.3 1.4-.3 1.4 .1 1.4 .2 1.4-.1 1.4-.3 1.4-.3 1.4-.1 1.4-.1 1.4-.4 1.4 .2 1.4 .5 1.4 .1 1.4-.2 1.4 .5 1.4 .1 1.4-.6 1.4-.2 1.4 .2 1.4 .2 1.4-.3 1.4-.2 1.4-.1 1.4-.1 1.4 .4 1.4 .5 1.4-.1 1.4 0 1.4 0 1.4-.1 1.4-.2 1.4-.3 1.4 0 1.4 .3 1.4 .5 1.4 .1 1.4-.4 1.4-.6 1.4 0 1.4 .3 1.4 .4 1.4-.1 1.4-.4 1.4 0 1.4 .2 1.4 .1 1.4-.2 1.4 .2 1.4 .2 1.4 0 1.4 .2 1.4-.1 1.4-.3 1.4-.1 1.4-.2 1.4-.3 1.4-.1 1.4 .1 1.4 .3 1.4 .1 1.4 .1 1.4-.4 1.4-.6 1.4 .1 1.4 .2 1.4 .1 1.4 .1 1.4 .3 1.4 0 1.4-.4 1.4 .1 1.4-.1 1.4-.2 1.4 .3 1.4 .1 1.4-.2 1.4 .4 1.4 .5 1.4-.6 1.4-.8 1.4 .1 1.4 .3 1.4 .1 1.4-.1 1.4 0 1.4 .1 1.4-.2 1.4-.3 1.4 .1 1.4 .4 1.4 .3 1.4 0 1.4-.3 1.4 0 1.4 .4 1.4 .1 1.4-.3 1.4-.1 1.4 0 1.4-.3 1.4 .1 1.4 .1 1.4-.1 1.4 .3 1.4 .3 1.4-.2 1.4-.3 1.4 .2 1.4 .2 1.4-.5 1.4 0 1.4 .2 1.4 0 1.4 0 1.4 0 1.4 .1 1.4 0 1.4-.3 1.4-.1 1.4-.1 1.4-.1 1.4-.1 1.4 0 1.4 .5 1.4 .5 1.4 .1 1.4-.5 1.4-.3 1.4 0 1.4-.2 1.4 .2 1.4 .2 1.4-.3 1.4 0 1.4 .1 1.4-.4 1.4-.1 1.4 .2 1.4 .1 1.4 .3 1.4-.1 1.4-.6 1.4-.1 1.4 0 1.4-.2 1.4 .1 1.4 .3 1.4-.2 1.4-.3 1.4 .3 1.4 .2 1.4-.4 1.4 .2 1.4 .7 1.4-.1 1.4-.9 1.4-.1 1.4 .3 1.4-.1 1.4 0 1.4 .2 1.4-.2 1.4-.7 1.4-.2 1.4 .6 1.4 .6 1.4-.3 1.4-.3 1.4 .4 1.4 .3 1.4-.3 1.4-.1 1.4 .3 1.4 .2 1.4-.2 1.4-.1 1.4-.2 1.4-.3 1.4 0 1.4 .1 1.4 0 1.4 .1 1.4 .2 1.4 .1 1.4-.3 1.4-.4 1.4 .1 1.4-.1 1.4-.2 1.4 .2 1.4 .5 1.4-.1 1.4-.5 1.4-.2 1.4 .1 1.4 .3 1.4 .1 1.4-.7 1.4-.3 1.4 .4 1.4 .3 1.4 .1 1.4 .4 1.4 .1 1.4-.6 1.4-.6 1.4-.1 1.4 .5 1.4 .2 1.4 0 1.4 0 1.4 .1 1.4 .1 1.4-.4 1.4-.5 1.4-.3 1.4-.2 1.4 .1 1.4 .6 1.4 .5 1.4 .1 1.4-.5 1.4-.4 1.4-.1 1.4 .4 1.4 0 1.4-.3 1.4 .2 1.4-.2 1.4-.4 1.4 .3 1.4 .1 1.4-.3 1.4 .2 1.4 .5 1.4 .3 1.4-.4 1.4-.8 1.4-.1 1.4 .2 1.4-.4 1.4-.3 1.4 .2 1.4 .8 1.4 .1 1.4-.3 1.4-.3 1.4-.2 1.4 0 1.4 0 1.4 0 1.4 .1 1.4-.3 1.4-.1 1.4 .3 1.4 0 1.4-.2 1.4-.5 1.4-.3 1.4 .2 1.4 .2 1.4 0 1.4-.5 1.4-.2 1.4 .6 1.4 .2 1.4-.3 1.4-.2 1.4 .1 1.4-.3 1.4-.1 1.4 0 1.4 .2 1.4 .2 1.4-.2 1.4 .1 1.4-.1 1.4-.7 1.4-.1 1.4 .2 1.4 .2 1.4-.2 1.4-.2 1.4 .4 1.4 .2 1.4-.5 1.4-.3 1.4 .1 1.4 .2 1.4 0 1.4 .1 1.4-.1 1.4 0 1.4-.2 1.4-.7 1.4 0 1.4 .3 1.4-.1 1.4 0 1.4-.1 1.4-.1 1.4-.1 1.4 0 1.4 .2 1.4-.1 1.4 .1 1.4 .4 1.4-.5 1.4-.4 1.4 .3 1.4 .3 1.4 .1 1.4-.3 1.4-.4 1.4 .1 1.4 0 1.4-.3 1.4-.6 1.4-.7 1.4 .5 1.4 .5 1.4-.6 1.4-.1 1.4 .3 1.4 .3 1.4-.2 1.4-.7 1.4 .1 1.4 .1 1.4-.4 1.4 .2 1.4 .6 1.4-.1 1.4-.8 1.4-.8 1.4 .3 1.4 .3 1.4-.2 1.4 .4 1.4 .3 1.4-.7 1.4-.6 1.4 .1 1.4-.1 1.4-.1 1.4 .1 1.4 .1 1.4-.3 1.4-.5 1.4 .1 1.4 .1 1.4 0 1.4 .2 1.4-.2 1.4-.5 1.4 .3 1.4 .5 1.4-.2 1.4-.5 1.4-.3 1.4-.5 1.4-.3 1.4 .4 1.4 .1 1.4-.1 1.4-.2 1.4-.2 1.4-.1 1.4 .1 1.4 0 1.4-.1 1.4-.4 1.4-.5 1.4 .1 1.4 .7 1.4 .2 1.4-.6 1.4-.5 1.4-.3 1.4 .3 1.4-.1 1.4-.4 1.4 .2 1.4 .2 1.4-.3 1.4-.3 1.4-.2 1.4 0 1.4 .3 1.4-.2 1.4-.3 1.4 .4 1.4 0 1.4-.2 1.4 0 1.4-.4 1.4 0 1.4-.2 1.4-.5 1.4 .3 1.4 .1 1.4-.4 1.4-.2 1.4 0 1.4-.3 1.4-.1 1.4 0 1.4 .2 1.4 .2 1.4-.4 1.4-.3 1.4 .2 1.4 .2 1.4 .2 1.4-.1 1.4-.3 1.4-.2 1.4 .2 1.4 .2 1.4-.2 1.4-.6 1.4-.1 1.4 .8 1.4 .1 1.4-.4 1.4-.3 1.4-.4 1.4-.2 1.4 .1 1.4 0 1.4-.3 1.4-.2 1.4 .3 1.4 .2 1.4-.2 1.4-.4 1.4-.3 1.4 .2 1.4 0 1.4-.4 1.4-.1 1.4 .3 1.4 .1 1.4-.1 1.4 0 1.4-.1 1.4-.3 1.4-.4 1.4 .1 1.4 .1 1.4 0 1.4-.3 1.4-.1 1.4 .3 1.4 0 1.4-.2 1.4-.2 1.4-.3 1.4-.2 1.4-.2 1.4-.4 1.4-.4 1.4 0 1.4 .1 1.4-.7 1.4-.7 1.4-.3 1.4-.2 1.4-.4 1.4-.8 1.4-.5 1.4-.1 1.4-.4 1.4-.2 1.4-.1 1.4-.2 1.4-.4 1.4-1.1 1.4-1.2 1.4-1 1.4-.7 1.4-1 1.4-1.2 1.4-.9 1.4-.8 1.4-1.3 1.4-1.5 1.4-1.8 1.4-2 1.4-2.2 1.4-2.2 1.4-1.7 1.4-2 1.4-3 1.4-3.4 1.4-3.3 1.4-3.4 1.4-4.1 1.4-4.5 1.4-4.9 1.4-4.8 1.4-4.3 1.4-5.1 1.4-4.8 1.4-3.5 1.4-2 1.4-1.6 1.4-.9 1.4-.4 1.4 .4 1.4 .9 1.4 1.4 1.4 2.6 1.4 5.1 1.4 5.8 1.4 4.8 1.4 4.2 1.4 4.4 1.4 4.4 1.4 4.8 1.4 5 1.4 4.5 1.4 4.5 1.4 4.5 1.4 3.8 1.4 3.2 1.4 3.3 1.4 3.2 1.4 2.3 1.4 2.3 1.4 2.7 1.4 1.9 1.4 1.2 1.4 1.4 1.4 1.1 1.4 .9 1.4 .6 1.4 .6 1.4 .9 1.4 .4 1.4 .1 1.4 .6 1.4 .8 1.4 .3 1.4 .4 1.4 .4 1.4 0 1.4 0 1.4 .6 1.4 .6 1.4 .2 1.4 .2 1.4-.1 1.4 .1 1.4 .2 1.4-.1 1.4 .5 1.4 .2 1.4 0 1.4 .1 1.4-.3 1.4-.3 1.4 .3 1.4 .1 1.4-.1 1.4 .2 1.4 .2 1.4-.2 1.4-.3 1.4 .2 1.4 .1 1.4-.4 1.4-.1 1.4 0 1.4 .1 1.4 .3 1.4 .4 1.4 .2 1.4-.2 1.4-.1 1.4-.1 1.4-.2 1.4-.4 1.4 0 1.4-.1 1.4-.4 1.4-.2 1.4-.1 1.4-.2 1.4-.1 1.4 .2 1.4-.1 1.4-.2 1.4-.2 1.4-.3 1.4-.6 1.4-.7 1.4-.8 1.4-.7 1.4 .1 1.4 .2 1.4-.5 1.4-.1 1.4 0 1.4-.5 1.4 0 1.4-.2 1.4-.4 1.4-.4 1.4-.9 1.4-.8 1.4-.3 1.4-.6 1.4-.6 1.4 .2 1.4 .4 1.4-.4 1.4-.5 1.4-.2 1.4 0 1.4-.2 1.4-.3 1.4-.4 1.4-.1 1.4 .3 1.4 .8 1.4 .7 1.4 .3 1.4 .1 1.4 0 1.4-.2 1.4 0 1.4 .2 1.4 .3 1.4 .9 1.4 1.1 1.4 .5 1.4 .3 1.4 .1 1.4 .2 1.4 .6 1.4 .9 1.4 1.1 1.4 .6 1.4-.2 1.4 .2 1.4 .6 1.4 .3 1.4 .3 1.4 .8 1.4 .7 1.4 .2 1.4 .2 1.4 .2 1.4 .5 1.4 .6 1.4 .3 1.4 .2 1.4 .3 1.4 .1 1.4 0 1.4 .5 1.4 .9 1.4 .4 1.4 .2 1.4 .5 1.4-.1 1.4 0 1.4 .3 1.4 .3 1.4 .1 1.4-.1 1.4 0 1.4 .3 1.4 0 1.4-.4 1.4 .1 1.4 .4 1.4-.2 1.4 0 1.4 .4 1.4 .1 1.4 0 1.4-.1 1.4-.1 1.4 0 1.4 0 1.4 .1 1.4 .4"/>
<path d="M149.4 1924.6l1.4 .7 1.4 1 1.4 1.5 1.4 2 1.4 2.3 1.4 2.9 1.4 3.8 1.4 2.3 1.4 2 1.4 3.3 1.4 4.8 1.4 3.7 1.4 2.2 1.4 2.6 1.4 5.4 1.4 1.8 1.4 1.4 1.4 2.2 1.4 2 1.4 1.6 1.4 1.2 1.4 .1 1.4-.4 1.4-.8 1.4-1.9 1.4-2.5 1.4-3.6 1.4-4.1 1.4-3.8 1.4-3.2 1.4-2.9 1.4-2.9 1.4-3.5 1.4-3.7 1.4-3.4 1.4-.5 1.4-.3 1.4-.2 1.4 .3 1.4 1.5 1.4 3.4 1.4 4.5 1.4 3.1 1.4 3.3 1.4 5.5 1.4 6 1.4 3.6 1.4 2.9 1.4 3.7 1.4 4 1.4 3.3 1.4 2.5 1.4 2.2 1.4 2.6 1.4 2.8 1.4 2.2 1.4 2 1.4 2.4 1.4 2 1.4 1.2 1.4 1.3 1.4 1.4 1.4 1.4 1.4 1.4 1.4 1.2 1.4 1 1.4 .8 1.4 .6 1.4 .3 1.4 .2 1.4 .7 1.4 .6 1.4 .5 1.4 .5 1.4 .2 1.4 .3 1.4 .7 1.4 .4 1.4 .2 1.4 .5 1.4 .3 1.4-.2 1.4-.2 1.4 .3 1.4 .3 1.4 .2 1.4 .3 1.4 .3 1.4-.2 1.4 .1 1.4 .4 1.4-.2 1.4-.1 1.4 .3 1.4 .1 1.4 0 1.4 .1 1.4-.1 1.4-.1 1.4 .3 1.4 .1 1.4-.1 1.4 0 1.4 .3 1.4 .2 1.4-.2 1.4-.1 1.4-.1 1.4-.1 1.4 .2 1.4 .1 1.4 0 1.4-.3 1.4-.3 1.4 0 1.4 .2 1.4 .2 1.4 .1 1.4-.1 1.4 0 1.4 0 1.4-.4 1.4-.4 1.4-.2 1.4 .2 1.4 .3 1.4-.1 1.4 0 1.4 .1 1.4 0 1.4-.2 1.4-.5 1.4-.2 1.4-.1 1.4-.1 1.4-.3 1.4 .1 1.4-.1 1.4-.5 1.4-.2 1.4-.1 1.4-.1 1.4-.1 1.4-.3 1.4-.5 1.4-.5 1.4-.3 1.4-.3 1.4-.3 1.4-.6 1.4-.7 1.4 0 1.4 .3 1.4 0 1.4-.3 1.4-.5 1.4-.3 1.4 .4 1.4 .1 1.4-.3 1.4-.2 1.4 .1 1.4 .8 1.4 .8 1.4 .1 1.4 .2 1.4 0 1.4 .2 1.4 .4 1.4 .2 1.4 .4 1.4 .6 1.4 .5 1.4 .3 1.4 .2 1.4-.1 1.4 .1 1.4 .3 1.4 .1 1.4 0 1.4 .2 1.4 .1 1.4 0 1.4 .1 1.4 .3 1.4 .5 1.4 .5 1.4 .1 1.4-.4 1.4 .1 1.4 .3 1.4 0 1.4 .2 1.4 .3 1.4-.3 1.4-.3 1.4 .2 1.4 .3 1.4 .1 1.4-.2 1.4 .1 1.4 .4 1.4 .1 1.4 0 1.4 .2 1.4-.1 1.4-.2 1.4 .1 1.4 .3 1.4-.2 1.4-.2 1.4 .4 1.4 .5 1.4-.1 1.4-.1 1.4 .2 1.4 0 1.4 .1 1.4 .3 1.4-.1 1.4-.3 1.4-.2 1.4 .1 1.4-.2 1.4 0 1.4 .7 1.4 .3 1.4-.3 1.4-.2 1.4 .3 1.4 .2 1.4-.1 1.4-.4 1.4-.3 1.4-.1 1.4-.2 1.4 0 1.4 .4 1.4 0 1.4 .1 1.4 .3 1.4 .4 1.4-.1 1.4-.2 1.4-.1 1.4-.2 1.4 0 1.4 .1 1.4-.2 1.4-.1 1.4 .1 1.4 .3 1.4 .2 1.4-.2 1.4-.2 1.4-.1 1.4-.2 1.4 .3 1.4 .6 1.4 .3 1.4-.4 1.4-.3 1.4 .1 1.4 0 1.4 .1 1.4 0 1.4 0 1.4-.1 1.4-.1 1.4-.3 1.4-.1 1.4 .1 1.4 0 1.4 .1 1.4 .1 1.4 .2 1.4 0 1.4-.3 1.4-.1 1.4 .2 1.4 .4 1.4 .3 1.4-.2 1.4-.1 1.4-.1 1.4-.1 1.4 .1 1.4-.3 1.4-.1 1.4 .8 1.4 .1 1.4-.5 1.4-.1 1.4 .1 1.4-.1 1.4-.2 1.4 .1 1.4 .3 1.4 .1 1.4 .1 1.4 .1 1.4 .1 1.4-.3 1.4-.3 1.4-.3 1.4 .2 1.4 .4 1.4-.1 1.4 0 1.4 0 1.4-.2 1.4 0 1.4 .1 1.4 .1 1.4 .3 1.4-.1 1.4-.2 1.4-.1 1.4 .2 1.4 .2 1.4 .3 1.4 .3 1.4-.3 1.4-.3 1.4-.2 1.4-.2 1.4 0 1.4 0 1.4 .1 1.4 .2 1.4 .1 1.4 0 1.4-.2 1.4 .1 1.4 .4 1.4 .2 1.4 .1 1.4 0 1.4-.2 1.4-.1 1.4 .2 1.4 .1 1.4-.3 1.4 .1 1.4 .3 1.4-.2 1.4 0 1.4 0 1.4-.2 1.4-.1 1.4-.1 1.4-.1 1.4 .1 1.4 .1 1.4 .2 1.4-.1 1.4 0 1.4 .4 1.4 .2 1.4-.3 1.4-.2 1.4 0 1.4 .2 1.4-.2 1.4-.2 1.4 .6 1.4 .2 1.4-.5 1.4 .1 1.4 .1 1.4 0 1.4 0 1.4-.2 1.4 .2 1.4 .2 1.4-.2 1.4-.2 1.4 .1 1.4 .1 1.4 .2 1.4-.2 1.4 0 1.4-.1 1.4 .1 1.4-.2 1.4-.3 1.4 .2 1.4 .1 1.4 .2 1.4 .3 1.4-.4 1.4 0 1.4 .4 1.4 .2 1.4 0 1.4-.2 1.4-.3 1.4 .2 1.4 .4 1.4-.1 1.4-.2 1.4-.1 1.4 0 1.4 .1 1.4 .3 1.4-.2 1.4-.4 1.4 .2 1.4 .3 1.4 0 1.4-.2 1.4-.1 1.4-.1 1.4-.2 1.4 .1 1.4 .4 1.4 0 1.4 .1 1.4 .3 1.4-.1 1.4 0 1.4 .2 1.4-.2 1.4-.2 1.4 .1 1.4-.1 1.4-.2 1.4 .1 1.4-.2 1.4-.2 1.4 .2 1.4 .2 1.4-.2 1.4-.1 1.4 .1 1.4 .3 1.4-.1 1.4-.1 1.4 .1 1.4-.1 1.4 .2 1.4 .2 1.4-.3 1.4 0 1.4 .2 1.4-.1 1.4-.1 1.4 .2 1.4-.1 1.4-.4 1.4-.1 1.4 .1 1.4 0 1.4 0 1.4 .2 1.4 .1 1.4 0 1.4 .1 1.4 0 1.4-.1 1.4 .2 1.4 .3 1.4-.2 1.4-.3 1.4-.1 1.4 0 1.4 .2 1.4 .1 1.4-.2 1.4 .1 1.4 .1 1.4-.1 1.4-.1 1.4-.2 1.4 0 1.4 .3 1.4 .3 1.4-.2 1.4-.3 1.4 0 1.4 .1 1.4 .2 1.4 .2 1.4 .1 1.4 0 1.4-.1 1.4-.1 1.4-.2 1.4-.3 1.4 .1 1.4 .1 1.4-.2 1.4-.1 1.4 .3 1.4 0 1.4-.1 1.4 0 1.4 .1 1.4 0 1.4-.3 1.4 0 1.4 .3 1.4 0 1.4-.1 1.4-.1 1.4 0 1.4 .2 1.4 .1 1.4 0 1.4 .2 1.4 0 1.4-.2 1.4-.1 1.4-.4 1.4-.2 1.4 .1 1.4 .2 1.4 .1 1.4 .1 1.4-.2 1.4-.1 1.4 .1 1.4 0 1.4-.1 1.4 .1 1.4-.2 1.4 0 1.4 .1 1.4 .3 1.4 .2 1.4-.1 1.4-.3 1.4-.1 1.4 .1 1.4 0 1.4 0 1.4 .2 1.4 0 1.4-.2 1.4 .3 1.4 .2 1.4 0 1.4 0 1.4 0 1.4 .1 1.4-.1 1.4-.1 1.4 .1 1.4-.1 1.4-.3 1.4-.1 1.4 .1 1.4 .1 1.4-.2 1.4 .2 1.4 .1 1.4-.3 1.4-.3 1.4 .3 1.4 .2 1.4-.1 1.4-.3 1.4-.1 1.4 .2 1.4 .2 1.4-.1 1.4-.1 1.4 .1 1.4 .2 1.4-.1 1.4-.2 1.4 .2 1.4 .3 1.4-.3 1.4-.3 1.4 0 1.4 .2 1.4 .4 1.4 0 1.4-.5 1.4-.2 1.4 .5 1.4 .3 1.4-.1 1.4-.1 1.4-.3 1.4-.2 1.4-.2 1.4 .1 1.4 .3 1.4 .2 1.4 .2 1.4-.2 1.4-.3 1.4 .4 1.4 .2 1.4-.4 1.4-.3 1.4 .3 1.4 .1 1.4-.3 1.4-.1 1.4 .3 1.4-.1 1.4-.3 1.4 0 1.4 .1 1.4 .1 1.4 .2 1.4 .1 1.4-.2 1.4-.3 1.4 .2 1.4 .2 1.4 .1 1.4-.1 1.4-.3 1.4-.1 1.4 .1 1.4-.3 1.4-.1 1.4 .3 1.4 0 1.4-.2 1.4-.1 1.4-.1 1.4 .1 1.4 .2 1.4 0 1.4-.2 1.4 .1 1.4 0 1.4 0 1.4 .2 1.4-.1 1.4 0 1.4 .2 1.4-.1 1.4 0 1.4 .2 1.4 0 1.4-.1 1.4-.1 1.4 0 1.4 0 1.4-.2 1.4 .1 1.4 .4 1.4-.2 1.4 0 1.4 .3 1.4-.3 1.4-.3 1.4 0 1.4 0 1.4 .2 1.4 .1 1.4-.4 1.4-.1 1.4 .1 1.4 0 1.4-.1 1.4-.1 1.4-.2 1.4 .1 1.4 .1 1.4 .1 1.4 0 1.4-.1 1.4 .1 1.4 0 1.4-.3 1.4-.1 1.4 .1 1.4 .1 1.4 0 1.4 .2 1.4 .3 1.4 .1 1.4-.1 1.4-.4 1.4-.1 1.4 .2 1.4 .1 1.4 0 1.4 0 1.4 .1 1.4 0 1.4-.1 1.4-.1 1.4-.1 1.4 0 1.4 0 1.4 0 1.4 0 1.4 .1 1.4-.1 1.4 0 1.4-.2 1.4 .1 1.4 .2 1.4-.4 1.4-.3 1.4 0 1.4 .4 1.4 .3 1.4-.1 1.4-.3 1.4-.1 1.4 0 1.4 .3 1.4 0 1.4-.2 1.4-.1 1.4 0 1.4-.3 1.4 .1 1.4-.2 1.4-.2 1.4 .4 1.4 .2 1.4-.3 1.4 0 1.4 .3 1.4 .1 1.4 0 1.4 0 1.4-.2 1.4-.1 1.4-.1 1.4-.1 1.4 .1 1.4 .1 1.4 .1 1.4-.2 1.4-.1 1.4 0 1.4-.1 1.4-.1 1.4-.1 1.4 .1 1.4 0 1.4-.1 1.4 .2 1.4 .4 1.4 0 1.4-.3 1.4 0 1.4 .2 1.4-.2 1.4-.3 1.4 .1 1.4 .1 1.4 0 1.4 .1 1.4-.1 1.4-.2 1.4-.2 1.4 .1 1.4 .1 1.4-.1 1.4-.1 1.4 .2 1.4-.1 1.4-.4 1.4-.2 1.4 0 1.4 .2 1.4 0 1.4-.1 1.4-.1 1.4-.1 1.4 .1 1.4 .3 1.4-.1 1.4-.4 1.4 0 1.4 .2 1.4-.1 1.4-.1 1.4-.1 1.4 0 1.4 .2 1.4 0 1.4-.1 1.4 0 1.4-.2 1.4-.1 1.4 .2 1.4 .1 1.4-.1 1.4 .2 1.4-.1 1.4-.4 1.4 0 1.4 .5 1.4-.1 1.4-.5 1.4-.3 1.4 .1 1.4-.1 1.4 0 1.4 0 1.4-.1 1.4 .1 1.4 .2 1.4-.1 1.4 0 1.4 .2 1.4 0 1.4-.2 1.4-.2 1.4 .1 1.4 .3 1.4-.2 1.4-.4 1.4 .1 1.4 .2 1.4 .1 1.4 .2 1.4-.2 1.4-.4 1.4-.3 1.4 0 1.4 .1 1.4 .3 1.4 .2 1.4-.5 1.4-.6 1.4 .1 1.4 .2 1.4-.2 1.4-.1 1.4 .2 1.4 .1 1.4-.1 1.4-.1 1.4 .1 1.4-.2 1.4-.2 1.4-.1 1.4 .1 1.4 .1 1.4-.2 1.4 .1 1.4 .2 1.4-.1 1.4-.2 1.4 0 1.4 .3 1.4 .1 1.4-.4 1.4-.5 1.4 .1 1.4 .5 1.4 .2 1.4-.1 1.4-.2 1.4-.2 1.4-.2 1.4 .1 1.4-.1 1.4-.1 1.4 .3 1.4 .1 1.4-.5 1.4-.2 1.4 .2 1.4-.2 1.4-.1 1.4 .3 1.4 .1 1.4 .1 1.4 .2 1.4-.2 1.4-.3 1.4-.1 1.4-.1 1.4 .1 1.4 .1 1.4-.1 1.4 .2 1.4 .3 1.4 .1 1.4-.2 1.4 0 1.4 0 1.4 .1 1.4-.1 1.4 0 1.4-.3 1.4-.3 1.4-.1 1.4 .2 1.4 .4 1.4 0 1.4-.2 1.4-.1 1.4-.1 1.4-.2 1.4 0 1.4 .1 1.4-.1 1.4 .2 1.4 .1 1.4-.2 1.4-.2 1.4 .2 1.4 .3 1.4 0 1.4 .1 1.4 0 1.4-.4 1.4 0 1.4 .4 1.4 .1 1.4-.4 1.4 0 1.4 .2 1.4 .2 1.4 0 1.4-.3 1.4-.2 1.4 .1 1.4 .2 1.4-.4 1.4-.4 1.4 .2 1.4 .4 1.4 .2 1.4-.2 1.4-.1 1.4 .2 1.4 .1 1.4-.2 1.4 0 1.4-.1 1.4-.2 1.4 0 1.4-.1 1.4 0 1.4 0 1.4-.1 1.4 .2 1.4 .1 1.4-.3 1.4-.2 1.4 .1 1.4 .1 1.4 .1 1.4 0 1.4-.1 1.4-.2 1.4-.3 1.4-.1 1.4 .2 1.4 0 1.4-.1 1.4 .1 1.4-.3 1.4-.6 1.4 0 1.4 .1 1.4 .4 1.4 .2 1.4-.6 1.4-.3 1.4-.1 1.4 0 1.4 0 1.4-.2 1.4-.3 1.4-.1 1.4-.3 1.4-.2 1.4 0 1.4-.5 1.4-.7 1.4-.5 1.4-.3 1.4-.3 1.4-.4 1.4-.7 1.4-.4 1.4-.5 1.4-.7 1.4-.7 1.4-.7 1.4-.9 1.4-1 1.4-.9 1.4-1.2 1.4-1.6 1.4-1.2 1.4-1.4 1.4-1.6 1.4-1.6 1.4-1.5 1.4-1.4 1.4-1.2 1.4-1.1 1.4-.9 1.4-.4 1.4-.3 1.4-.1 1.4 .4 1.4 .7 1.4 .7 1.4 1.2 1.4 1.5 1.4 1.3 1.4 1.4 1.4 1.5 1.4 1.7 1.4 2 1.4 2 1.4 1.5 1.4 1 1.4 .9 1.4 1.1 1.4 1.4 1.4 1.5 1.4 1.1 1.4 .9 1.4 .7 1.4 .8 1.4 .6 1.4 .1 1.4 .1 1.4 .4 1.4 .4 1.4 0 1.4 0 1.4 .1 1.4 .4 1.4 .7 1.4 .3 1.4-.2 1.4 .1 1.4 0 1.4-.2 1.4 .1 1.4 .1 1.4 .2 1.4 .2 1.4-.2 1.4 .1 1.4 .2 1.4-.1 1.4 .2 1.4 .2 1.4 0 1.4 0 1.4-.1 1.4-.2 1.4 .6 1.4 .4 1.4-.2 1.4-.3 1.4-.4 1.4 0 1.4 0 1.4 .1 1.4 .1 1.4-.1 1.4-.2 1.4-.1 1.4 .1 1.4 .2 1.4-.2 1.4 .2 1.4 .2 1.4-.4 1.4-.2 1.4 .2 1.4 .5 1.4 .2 1.4-.4 1.4-.4 1.4 .1 1.4 .1 1.4-.1 1.4 .3 1.4 0 1.4-.2 1.4-.1 1.4 0 1.4-.2 1.4-.3 1.4-.2 1.4-.3 1.4-.3 1.4-.1 1.4-.3 1.4-.4 1.4-.4 1.4 .1 1.4 .4 1.4 0 1.4-.4 1.4-.4 1.4-.6 1.4-.3 1.4-.4 1.4-.5 1.4-.3 1.4-.2 1.4-.3 1.4-.2 1.4 0 1.4 0 1.4 .1 1.4-.2 1.4-.2 1.4-.1 1.4-.1 1.4-.1 1.4 0 1.4 .2 1.4 .2 1.4-.2 1.4-.4 1.4-.1 1.4 .3 1.4 .1 1.4 .2 1.4 .3 1.4 .5 1.4 .1 1.4 .3 1.4 .7 1.4 .4 1.4 .1 1.4 .3 1.4 .3 1.4 .3 1.4 .1 1.4 0 1.4 .3 1.4 .3 1.4 .4 1.4 .3 1.4 .1 1.4-.2 1.4-.1 1.4 .5 1.4 .4 1.4 .5 1.4 .5 1.4 0 1.4 0 1.4 .1 1.4 .1 1.4 .1 1.4 0 1.4 .3 1.4 .4 1.4 .2 1.4 .1 1.4 0 1.4 0 1.4 .2 1.4 .2 1.4 .2 1.4-.1 1.4-.2 .6 0"/>
<path d="M150.1 1911.9l1.4 12.7 1.4 12.2 1.4 11.7 1.4 10.5 1.4 9.4 1.4 9.3 1.4 9.2 1.4 9 1.4 9.4 1.4 9.7 1.4 10 1.4 10.1 1.4 9.9 1.4 9 1.4 7.4 1.4 8 1.4 9.5 1.4 9.3 1.4 8.7 1.4 8.5 1.4 8.4 1.4 5.2 1.4 3.3 1.4 3.6 1.4 3.7 1.4 3.3 1.4 3.2 1.4 3 1.4 2.9 1.4 2.7 1.4 1.2 1.4 .6 1.4 .5 1.4 .3 1.4-.1 1.4 .1 1.4 .3 1.4 .5 1.4 .3 1.4-.2 1.4-.1 1.4 .1 1.4 .2 1.4 .1 1.4 .1 1.4 .2 1.4 .1 1.4 .1 1.4 .1 1.4-.1 1.4 .1 1.4 .1 1.4 .2 1.4 0 1.4 0 1.4-.1 1.4 0 1.4 .1 1.4 .1 1.4 .1 1.4-.1 1.4-.2 1.4-.1 1.4 .2 1.4-.1 1.4 .1 1.4 .2 1.4 .1 1.4-.1 1.4 0 1.4 0 1.4 0 1.4 0 1.4 .2 1.4-.1 1.4-.2 1.4 0 1.4 .2 1.4 .1 1.4-.2 1.4 0 1.4 .4 1.4 .2 1.4-.3 1.4-.1 1.4-.1 1.4-.3 1.4 .2 1.4 .2 1.4 .2 1.4-.2 1.4-.1 1.4 .1 1.4 0 1.4 0 1.4-.1 1.4 0 1.4 .1 1.4 .4 1.4 .2 1.4-.2 1.4-.1 1.4 .1 1.4 .2 1.4 0 1.4-.1 1.4-.2 1.4-.1 1.4 .1 1.4 0 1.4-.1 1.4-.2 1.4-.2 1.4 0 1.4 .1 1.4 .2 1.4 0 1.4 0 1.4 .2 1.4 .2 1.4 0 1.4 .2 1.4-.1 1.4-.3 1.4 .1 1.4 .1 1.4 0 1.4-.1 1.4-.2 1.4-.1 1.4 0 1.4 0 1.4 0 1.4-.1 1.4 .1 1.4 .2 1.4 .1 1.4-.2 1.4-.2 1.4 0 1.4 .1 1.4 .1 1.4 .1 1.4 .1 1.4 0 1.4-.1 1.4 .1 1.4 0 1.4 0 1.4 .1 1.4 0 1.4-.1 1.4 0 1.4 .1 1.4 .1 1.4 0 1.4-.1 1.4 0 1.4 0 1.4 0 1.4-.3 1.4-.1 1.4 .2 1.4 0 1.4-.2 1.4 0 1.4 .2 1.4 .3 1.4-.2 1.4-.3 1.4 .1 1.4 .2 1.4 .1 1.4-.4 1.4-.3 1.4 .3 1.4 .1 1.4-.2 1.4-.1 1.4 .4 1.4 .1 1.4-.2 1.4 .1 1.4 .2 1.4 .1 1.4-.1 1.4-.1 1.4 .1 1.4-.1 1.4-.1 1.4 0 1.4-.2 1.4 0 1.4 .3 1.4-.1 1.4-.1 1.4-.1 1.4-.2 1.4 0 1.4 .1 1.4 .1 1.4 .2 1.4 .1 1.4-.1 1.4 0 1.4 0 1.4-.2 1.4 0 1.4 .1 1.4 .2 1.4 0 1.4-.2 1.4-.2 1.4 .1 1.4 .1 1.4 .1 1.4-.1 1.4 0 1.4 .2 1.4 0 1.4-.1 1.4 .1 1.4-.1 1.4-.1 1.4 0 1.4-.1 1.4 0 1.4 .2 1.4 .3 1.4 0 1.4-.2 1.4 .1 1.4-.1 1.4 0 1.4 0 1.4 .1 1.4 .1 1.4-.2 1.4-.3 1.4 .2 1.4-.1 1.4-.3 1.4-.1 1.4 .4 1.4 .3 1.4 0 1.4 .1 1.4 0 1.4-.2 1.4-.1 1.4-.2 1.4 .1 1.4 .2 1.4-.2 1.4-.2 1.4 .1 1.4 0 1.4 0 1.4 .1 1.4-.2 1.4-.2 1.4 .2 1.4 .3 1.4-.2 1.4 0 1.4 .2 1.4-.1 1.4-.2 1.4 0 1.4 .2 1.4 .1 1.4-.3 1.4 0 1.4 .3 1.4 .2 1.4-.2 1.4-.2 1.4 .1 1.4 .1 1.4-.1 1.4-.2 1.4 .1 1.4 0 1.4-.1 1.4 .1 1.4 0 1.4 0 1.4 0 1.4-.1 1.4 .1 1.4 .1 1.4 .1 1.4-.1 1.4-.3 1.4-.1 1.4 .3 1.4 .3 1.4 .2 1.4-.3 1.4-.2 1.4 0 1.4-.2 1.4 .1 1.4 .5 1.4-.1 1.4-.1 1.4 .1 1.4 .1 1.4-.1 1.4-.1 1.4-.4 1.4 0 1.4 .5 1.4 .1 1.4-.2 1.4-.1 1.4-.1 1.4 0 1.4 .3 1.4 0 1.4-.1 1.4 0 1.4 0 1.4 0 1.4-.1 1.4-.2 1.4 .3 1.4 .1 1.4-.2 1.4-.1 1.4 .2 1.4 .1 1.4-.3 1.4-.2 1.4 0 1.4 0 1.4 0 1.4 .2 1.4 0 1.4 .3 1.4 .3 1.4-.2 1.4-.3 1.4-.3 1.4-.1 1.4 0 1.4 0 1.4 0 1.4 .1 1.4 0 1.4-.1 1.4-.2 1.4 .2 1.4 .2 1.4 .2 1.4 .1 1.4 0 1.4-.2 1.4-.1 1.4 .1 1.4 .3 1.4 0 1.4-.4 1.4-.1 1.4 0 1.4-.2 1.4 .1 1.4 .3 1.4 0 1.4-.1 1.4 .1 1.4-.1 1.4-.1 1.4 0 1.4 0 1.4 0 1.4 .1 1.4 .2 1.4 0 1.4 0 1.4-.2 1.4-.1 1.4-.1 1.4-.1 1.4 .3 1.4 0 1.4-.1 1.4 .1 1.4 0 1.4 0 1.4 .1 1.4-.1 1.4-.1 1.4 .2 1.4 .1 1.4-.3 1.4-.3 1.4-.1 1.4 .2 1.4 .2 1.4 0 1.4-.2 1.4 .2 1.4 .2 1.4-.1 1.4-.1 1.4 .3 1.4-.1 1.4-.2 1.4-.2 1.4-.1 1.4 0 1.4 .2 1.4 .1 1.4 .1 1.4 .1 1.4-.1 1.4-.1 1.4-.3 1.4-.1 1.4 .1 1.4 .1 1.4 0 1.4 0 1.4-.1 1.4 0 1.4 .2 1.4 .1 1.4 0 1.4 0 1.4-.1 1.4-.1 1.4 .3 1.4 .2 1.4-.1 1.4 .1 1.4 .1 1.4-.1 1.4-.1 1.4 .1 1.4-.1 1.4-.2 1.4 0 1.4 .1 1.4-.1 1.4 .1 1.4 0 1.4-.2 1.4-.1 1.4 .3 1.4 .2 1.4-.2 1.4-.1 1.4 .1 1.4 .2 1.4-.1 1.4-.2 1.4-.1 1.4-.1 1.4-.1 1.4 .1 1.4 .3 1.4-.1 1.4-.1 1.4 .3 1.4 .1 1.4-.1 1.4-.3 1.4 .1 1.4 .1 1.4-.2 1.4 0 1.4 .3 1.4 0 1.4-.5 1.4-.3 1.4 .1 1.4 .2 1.4 .3 1.4 .1 1.4-.1 1.4-.1 1.4 0 1.4 0 1.4 0 1.4 .2 1.4 .4 1.4-.2 1.4-.4 1.4-.1 1.4-.1 1.4 0 1.4 0 1.4 .2 1.4 .2 1.4-.1 1.4-.3 1.4-.1 1.4 .1 1.4 .2 1.4 .2 1.4 0 1.4 0 1.4 .1 1.4 0 1.4-.3 1.4-.3 1.4 .1 1.4 .5 1.4 .1 1.4-.1 1.4-.1 1.4-.1 1.4-.1 1.4 .1 1.4 .2 1.4 0 1.4-.2 1.4 0 1.4 .1 1.4 0 1.4 0 1.4 .2 1.4-.1 1.4 0 1.4 .2 1.4-.1 1.4-.1 1.4-.2 1.4-.1 1.4-.2 1.4 0 1.4 .2 1.4 0 1.4 0 1.4 0 1.4-.1 1.4 .2 1.4 .1 1.4 .2 1.4 .1 1.4-.1 1.4-.1 1.4-.1 1.4 0 1.4 0 1.4-.1 1.4 0 1.4 .1 1.4 0 1.4 0 1.4-.1 1.4 0 1.4 0 1.4-.2 1.4 .2 1.4 .1 1.4-.4 1.4 .1 1.4 .2 1.4 .1 1.4 .1 1.4-.2 1.4 .2 1.4 .3 1.4-.2 1.4-.1 1.4-.1 1.4-.1 1.4 .1 1.4-.1 1.4 0 1.4 .1 1.4-.1 1.4 0 1.4 0 1.4 0 1.4 .2 1.4-.1 1.4-.2 1.4 0 1.4 0 1.4 0 1.4 .1 1.4 .1 1.4 0 1.4 0 1.4 .1 1.4 0 1.4 0 1.4-.2 1.4-.1 1.4 0 1.4 .3 1.4 .3 1.4 .1 1.4-.1 1.4-.3 1.4-.1 1.4 0 1.4 .1 1.4 .2 1.4-.1 1.4-.3 1.4 0 1.4 .3 1.4-.1 1.4-.1 1.4 .1 1.4-.1 1.4-.2 1.4-.1 1.4-.1 1.4 .2 1.4-.1 1.4 0 1.4 .1 1.4 .1 1.4 0 1.4-.2 1.4-.1 1.4 0 1.4 0 1.4 .2 1.4 .1 1.4 .1 1.4 .2 1.4-.1 1.4-.2 1.4-.1 1.4 0 1.4 .2 1.4-.1 1.4-.2 1.4 .1 1.4 .2 1.4-.1 1.4-.2 1.4-.3 1.4 .1 1.4 .4 1.4-.2 1.4-.2 1.4 0 1.4-.1 1.4-.3 1.4-.2 1.4 .3 1.4 .3 1.4 0 1.4 0 1.4 .1 1.4-.1 1.4-.3 1.4 0 1.4 0 1.4-.1 1.4 .1 1.4 .1 1.4-.1 1.4-.1 1.4 .2 1.4 .3 1.4-.4 1.4-.2 1.4 .3 1.4 .1 1.4-.1 1.4-.1 1.4 0 1.4-.1 1.4-.2 1.4 .1 1.4 .1 1.4 .2 1.4-.1 1.4 0 1.4 0 1.4 0 1.4-.2 1.4-.3 1.4-.1 1.4 .2 1.4-.1 1.4-.1 1.4 .1 1.4-.1 1.4 .1 1.4 0 1.4-.3 1.4 .3 1.4 .3 1.4-.3 1.4-.2 1.4 .2 1.4 0 1.4-.4 1.4-.1 1.4 .1 1.4 0 1.4 0 1.4 0 1.4-.2 1.4-.1 1.4-.1 1.4-.1 1.4 .1 1.4-.1 1.4 0 1.4 .2 1.4-.2 1.4-.2 1.4 .1 1.4 0 1.4 0 1.4 0 1.4-.1 1.4-.1 1.4-.1 1.4 .1 1.4 0 1.4-.4 1.4 .1 1.4 0 1.4-.2 1.4 0 1.4 .3 1.4 .1 1.4 0 1.4-.1 1.4-.2 1.4-.1 1.4 .1 1.4 0 1.4-.1 1.4-.2 1.4 .1 1.4 .1 1.4-.2 1.4-.4 1.4 0 1.4 0 1.4-.1 1.4-.1 1.4-.1 1.4 .1 1.4 .2 1.4 0 1.4 0 1.4 .1 1.4 0 1.4 .1 1.4-.2 1.4-.3 1.4-.5 1.4-.3 1.4 .3 1.4 .3 1.4 0 1.4-.2 1.4 .1 1.4-.1 1.4-.3 1.4-.3 1.4 .1 1.4 .2 1.4 0 1.4-.2 1.4-.1 1.4 .2 1.4 0 1.4 0 1.4 0 1.4-.1 1.4-.4 1.4-.3 1.4 0 1.4 .4 1.4 0 1.4-.3 1.4-.1 1.4-.1 1.4 0 1.4-.2 1.4 .1 1.4 .2 1.4-.2 1.4-.4 1.4-.2 1.4 .1 1.4 .3 1.4-.1 1.4-.2 1.4-.1 1.4-.2 1.4 0 1.4 .2 1.4 .1 1.4 0 1.4-.4 1.4-.1 1.4 0 1.4-.2 1.4-.3 1.4-.1 1.4 .2 1.4 0 1.4 0 1.4 0 1.4 0 1.4-.2 1.4-.2 1.4-.1 1.4 0 1.4 0 1.4-.2 1.4-.1 1.4-.3 1.4-.3 1.4 0 1.4 .2 1.4 .1 1.4 0 1.4-.2 1.4 0 1.4 0 1.4-.3 1.4-.3 1.4-.1 1.4-.1 1.4-.2 1.4 .1 1.4 0 1.4-.1 1.4 0 1.4-.3 1.4-.2 1.4-.2 1.4 0 1.4 0 1.4 0 1.4 .1 1.4-.2 1.4-.2 1.4-.3 1.4-.3 1.4 0 1.4 0 1.4 .1 1.4 0 1.4 0 1.4-.1 1.4-.2 1.4-.2 1.4-.1 1.4 0 1.4-.1 1.4-.2 1.4 .1 1.4 .1 1.4-.3 1.4-.4 1.4-.2 1.4-.1 1.4 .2 1.4-.1 1.4 0 1.4 .2 1.4-.2 1.4-.5 1.4-.2 1.4-.1 1.4-.4 1.4-.4 1.4-.4 1.4-.2 1.4-.2 1.4-.2 1.4 0 1.4-.1 1.4-.2 1.4 0 1.4 0 1.4-.2 1.4-.3 1.4-.2 1.4-.1 1.4 0 1.4 .1 1.4-.1 1.4-.3 1.4 .2 1.4 .2 1.4-.2 1.4-.1 1.4 .1 1.4-.2 1.4-.3 1.4 .1 1.4 .2 1.4 .2 1.4 0 1.4-.3 1.4-.2 1.4-.1 1.4 0 1.4 0 1.4-.1 1.4 .2 1.4 .1 1.4-.1 1.4-.1 1.4-.2 1.4-.2 1.4 .2 1.4 .3 1.4 0 1.4-.2 1.4 0 1.4 0 1.4 0 1.4-.1 1.4-.2 1.4-.1 1.4-.2 1.4-.2 1.4 0 1.4 .2 1.4 0 1.4-.1 1.4 .1 1.4 0 1.4-.2 1.4-.1 1.4 .3 1.4 0 1.4-.4 1.4-.4 1.4 .1 1.4 .1 1.4 .1 1.4-.2 1.4-.2 1.4-.1 1.4 0 1.4-.1 1.4-.2 1.4-.4 1.4-.6 1.4-.6 1.4-.4 1.4-.4 1.4-.3 1.4-.2 1.4-.4 1.4-.8 1.4-.8 1.4-.5 1.4-.4 1.4-.4 1.4-.6 1.4-.8 1.4-1 1.4-.9 1.4-.8 1.4-.7 1.4-.7 1.4-1 1.4-1.2 1.4-1 1.4-1.2 1.4-1.6 1.4-1.7 1.4-1.4 1.4-1.7 1.4-1.9 1.4-1.8 1.4-2.5 1.4-3.4 1.4-3.9 1.4-4.5 1.4-5.3 1.4-5.9 1.4-6.9 1.4-7.6 1.4-8.5 1.4-9.7 1.4-9.2 1.4-7.6 1.4-6.7 1.4-3.9 1.4-1.9 1.4-1.3 1.4-.3 1.4 .9 1.4 1.8 1.4 4.2 1.4 8.3 1.4 7.8 1.4 7.7 1.4 8 1.4 7.3 1.4 7.1 1.4 7.1 1.4 6.7 1.4 6.6 1.4 6.6 1.4 5.7 1.4 5.5 1.4 5.1 1.4 3.9 1.4 3.5 1.4 3.2 1.4 2.5 1.4 2 1.4 1.9 1.4 1.5 1.4 1 1.4 .9 1.4 1 1.4 .6 1.4 .4 1.4 .7 1.4 .5 1.4 .5 1.4 .5 1.4 .4 1.4 .2 1.4 .1 1.4 .1 1.4 .3 1.4 .3 1.4 .2 1.4 .1 1.4 .3 1.4 .6 1.4 .2 1.4-.1 1.4 .1 1.4 .2 1.4 .2 1.4 .1 1.4-.1 1.4 0 1.4-.1 1.4 0 1.4 .1 1.4 0 1.4 0 1.4 .2 1.4 0 1.4 0 1.4-.1 1.4-.1 1.4 0 1.4 0 1.4 0 1.4 .1 1.4-.1 1.4-.2 1.4 0 1.4 .1 1.4 0 1.4-.2 1.4-.2 1.4 .2 1.4 .3 1.4-.2 1.4-.1 1.4-.1 1.4-.1 1.4 .1 1.4 .2 1.4 0 1.4-.1 1.4-.1 1.4-.1 1.4-.1 1.4 .2 1.4 .1 1.4-.2 1.4-.5 1.4-.4 1.4-.3 1.4-.3 1.4-.7 1.4-.7 1.4-.6 1.4-.8 1.4-1.1 1.4-1.4 1.4-1.2 1.4-1.1 1.4-1.7 1.4-1.6 1.4-1.3 1.4-1.7 1.4-2 1.4-1.5 1.4-1 1.4-1.3 1.4-1.7 1.4-1.4 1.4-.8 1.4-.8 1.4-.9 1.4-1.1 1.4-1 1.4-.5 1.4-.2 1.4-.2 1.4-.3 1.4 .5 1.4 1 1.4 .4 1.4 .5 1.4 .9 1.4 1.1 1.4 1.2 1.4 1.3 1.4 1.4 1.4 1.5 1.4 1.4 1.4 1.3 1.4 1.2 1.4 1.5 1.4 1.4 1.4 1.2 1.4 1.2 1.4 1.3 1.4 1.3 1.4 1.3 1.4 1.4 1.4 1.4 1.4 1.2 1.4 1 1.4 1.1 1.4 1.1 1.4 .9 1.4 .6 1.4 .5 1.4 .7 1.4 1.1 1.4 .8 1.4 .4 1.4 .4 1.4 .5 1.4 .5 1.4 .4 1.4 .4 1.4 .1 1.4 .2 1.4 .1 1.4 .3 1.4 .3 1.4 .4 1.4 .3 1.4 .3 1.4 0 1.4 0 1.4 .1 1.4 .2 1.4 .1 1.4 0 1.4-.1"/>
<path d="M150.1 1911.7l1.4 9.1 1.4 9.2 1.4 9.6 1.4 9.4 1.4 8.9 1.4 9 1.4 9.3 1.4 9.8 1.4 9.7 1.4 9.8 1.4 10.9 1.4 11 1.4 10.4 1.4 9.9 1.4 9.2 1.4 9.5 1.4 9 1.4 7.7 1.4 4.5 1.4 1.6 1.4 1.8 1.4 .4 1.4-.2 1.4 1.2 1.4 .7 1.4 .8 1.4 2 1.4 .8 1.4-.3 1.4-.6 1.4-.6 1.4 .8 1.4-.5 1.4 1.1 1.4 .7 1.4-.1 1.4-.5 1.4 1.1 1.4 1.8 1.4 .8 1.4-1.1 1.4 .9 1.4 0 1.4-.4 1.4-1.9 1.4 .8 1.4-.3 1.4 1.5 1.4-1.2 1.4-.1 1.4 .2 1.4 .5 1.4-1.4 1.4-2.7 1.4-.9 1.4-1.6 1.4-2.3 1.4-2.3 1.4-1.9 1.4-1.9 1.4-2.2 1.4-2.6 1.4-3.5 1.4-4.3 1.4-3.7 1.4-2.3 1.4-1.7 1.4-1.9 1.4-1.9 1.4-2 1.4-1.4 1.4-.3 1.4 .1 1.4 0 1.4 .1 1.4 0 1.4 0 1.4 .1 1.4 .8 1.4 1.7 1.4 1.9 1.4 2.8 1.4 2.8 1.4 1.4 1.4 .4 1.4 1.2 1.4 3.8 1.4 4.6 1.4 3.9 1.4 3.7 1.4 3.8 1.4 4.2 1.4 4.8 1.4 4.1 1.4 3.3 1.4 2.9 1.4 2.7 1.4 2.8 1.4 3.2 1.4 4.1 1.4 4.7 1.4 4.8 1.4 4.4 1.4 3.9 1.4 3.4 1.4 3.4 1.4 3.5 1.4 3.9 1.4 3.7 1.4 2.8 1.4 1.5 1.4 1.1 1.4 1.8 1.4 3.8 1.4 3.3 1.4 1.4 1.4 1.2 1.4 1.4 1.4 2.1 1.4 2.6 1.4 2 1.4 1.3 1.4 1.4 1.4 1.4 1.4 1.2 1.4 1 1.4 .9 1.4 1.5 1.4 1.6 1.4 1 1.4 1 1.4 .9 1.4 .9 1.4 1.2 1.4 1 1.4 .8 1.4 .9 1.4 .9 1.4 1.1 1.4 1.2 1.4 1.3 1.4 1 1.4 1 1.4 .7 1.4 .8 1.4 1.5 1.4 1.3 1.4 1.1 1.4 .9 1.4 1 1.4 1.3 1.4 1.6 1.4 1.1 1.4 .6 1.4 .9 1.4 1.2 1.4 1 1.4 1 1.4 .6 1.4 .5 1.4 1.2 1.4 .8 1.4 .5 1.4 .8 1.4 .9 1.4 .8 1.4 .3 1.4 .5 1.4 1.3 1.4 1.3 1.4 1.1 1.4 .8 1.4 .5 1.4 .4 1.4 .7 1.4 .7 1.4 .7 1.4 .5 1.4 .4 1.4 .9 1.4 1 1.4 .8 1.4 .1 1.4 0 1.4 .2 1.4 .1 1.4 .1 1.4 .5 1.4 .8 1.4 .3 1.4-.1 1.4 .4 1.4 .6 1.4 .2 1.4 0 1.4 0 1.4 .2 1.4 .6 1.4 .3 1.4 0 1.4 .2 1.4 .5 1.4 .2 1.4 .3 1.4 .3 1.4 .3 1.4 .2 1.4-.1 1.4-.3 1.4-.4 1.4 0 1.4 .5 1.4 .3 1.4 .2 1.4 0 1.4-.4 1.4-.2 1.4 .1 1.4-.2 1.4-.3 1.4-.1 1.4-.1 1.4-.2 1.4-.3 1.4-.2 1.4-.1 1.4-.3 1.4-.3 1.4-.5 1.4-.1 1.4 0 1.4-.4 1.4-.3 1.4-.5 1.4-.4 1.4 .2 1.4-.1 1.4-.4 1.4-.2 1.4-.4 1.4-.3 1.4-.1 1.4 .1 1.4-.1 1.4-.5 1.4-.1 1.4-.2 1.4-.9 1.4-.2 1.4 .2 1.4-.1 1.4 0 1.4-.1 1.4-.5 1.4-.7 1.4-.3 1.4 .3 1.4 .2 1.4 .2 1.4 0 1.4 .1 1.4 .6 1.4 .3 1.4-.3 1.4-.2 1.4 .1 1.4 .2 1.4 .1 1.4 .2 1.4 .4 1.4 .4 1.4 .1 1.4 .2 1.4 .5 1.4-.2 1.4-.3 1.4 .6 1.4 .9 1.4 .7 1.4 .3 1.4 .5 1.4 .7 1.4 .8 1.4 .5 1.4 .5 1.4 .7 1.4 .6 1.4 .2 1.4 .2 1.4 .6 1.4 .3 1.4 .4 1.4 .5 1.4 .4 1.4 .1 1.4-.2 1.4 0 1.4 .3 1.4 .6 1.4 .4 1.4 0 1.4-.3 1.4 0 1.4 .7 1.4 .3 1.4 0 1.4 .3 1.4 .3 1.4 0 1.4 0 1.4 .5 1.4 .1 1.4 .3 1.4 .7 1.4 .1 1.4-.4 1.4 0 1.4 .5 1.4 .4 1.4-.1 1.4-.1 1.4 0 1.4 .2 1.4 .5 1.4 .4 1.4 0 1.4-.1 1.4 .1 1.4 .2 1.4-.1 1.4 .3 1.4 .4 1.4 0 1.4-.2 1.4-.1 1.4-.2 1.4-.1 1.4 .4 1.4 .7 1.4 .3 1.4-.1 1.4-.2 1.4-.3 1.4-.1 1.4 .2 1.4 .1 1.4 0 1.4 0 1.4-.3 1.4-.2 1.4 0 1.4 0 1.4 .3 1.4 .6 1.4 0 1.4 .1 1.4 .3 1.4 0 1.4-.2 1.4 .2 1.4-.1 1.4-.1 1.4-.1 1.4-.3 1.4 0 1.4 .4 1.4 .1 1.4-.1 1.4 .1 1.4 .4 1.4 .2 1.4 0 1.4-.2 1.4-.3 1.4 0 1.4 .1 1.4-.1 1.4 .1 1.4 .3 1.4-.2 1.4-.2 1.4 .4 1.4 .3 1.4-.1 1.4-.1 1.4-.3 1.4-.2 1.4 0 1.4 .4 1.4 .2 1.4-.1 1.4 0 1.4-.2 1.4 0 1.4 .3 1.4 .1 1.4-.3 1.4-.3 1.4 .1 1.4 .4 1.4 .4 1.4-.2 1.4-.4 1.4-.2 1.4-.1 1.4 .2 1.4 .3 1.4 .1 1.4-.1 1.4-.1 1.4 .1 1.4 .2 1.4-.4 1.4-.2 1.4 .2 1.4 0 1.4 .2 1.4 .2 1.4 0 1.4 0 1.4 .1 1.4 .3 1.4 0 1.4-.4 1.4-.2 1.4 0 1.4 .3 1.4 .1 1.4-.2 1.4 0 1.4-.2 1.4-.3 1.4 .3 1.4 .6 1.4 .1 1.4-.3 1.4 0 1.4-.1 1.4-.3 1.4 .4 1.4 .5 1.4-.3 1.4-.1 1.4 0 1.4-.1 1.4 .1 1.4 .3 1.4-.1 1.4-.1 1.4-.1 1.4 .1 1.4 .2 1.4 .2 1.4-.1 1.4-.6 1.4-.2 1.4 .5 1.4 .2 1.4-.6 1.4-.3 1.4 .3 1.4 .4 1.4-.2 1.4 0 1.4 .4 1.4 .2 1.4-.2 1.4-.2 1.4 .1 1.4 .4 1.4 0 1.4-.5 1.4-.3 1.4 .1 1.4 .3 1.4 0 1.4 .2 1.4 0 1.4 0 1.4 .1 1.4-.2 1.4-.3 1.4 .3 1.4 .3 1.4-.5 1.4 0 1.4 .3 1.4-.2 1.4-.4 1.4 0 1.4 .5 1.4 .4 1.4 0 1.4-.2 1.4-.2 1.4-.2 1.4-.1 1.4 .1 1.4 .1 1.4 .3 1.4-.1 1.4-.2 1.4 .1 1.4-.2 1.4-.2 1.4 0 1.4-.1 1.4 .3 1.4 .1 1.4 0 1.4 .1 1.4-.1 1.4-.2 1.4-.2 1.4 .1 1.4 0 1.4 .1 1.4 .1 1.4-.1 1.4-.4 1.4 0 1.4 .4 1.4 .3 1.4 .1 1.4 .2 1.4 .1 1.4-.3 1.4-.3 1.4-.3 1.4 0 1.4 .2 1.4 .2 1.4 .1 1.4-.1 1.4 0 1.4 .1 1.4 0 1.4 0 1.4-.1 1.4-.3 1.4 0 1.4 .3 1.4 .1 1.4-.2 1.4 .2 1.4 .3 1.4-.4 1.4-.2 1.4 .1 1.4-.2 1.4 .4 1.4 .4 1.4 0 1.4-.2 1.4-.1 1.4 0 1.4 0 1.4-.2 1.4-.2 1.4 .2 1.4 .2 1.4 0 1.4-.3 1.4-.2 1.4 .6 1.4 .5 1.4-.3 1.4-.6 1.4-.2 1.4 .1 1.4 0 1.4 .1 1.4 .1 1.4 .3 1.4-.2 1.4-.5 1.4 .1 1.4-.1 1.4-.2 1.4 .2 1.4 .3 1.4 .1 1.4-.2 1.4 .4 1.4 .4 1.4-.2 1.4-.3 1.4-.3 1.4-.1 1.4 .2 1.4 .2 1.4 .3 1.4 .3 1.4-.3 1.4-.1 1.4-.1 1.4-.6 1.4-.2 1.4 .2 1.4 .2 1.4 .1 1.4 .2 1.4 .3 1.4 .1 1.4-.3 1.4-.2 1.4 .1 1.4-.1 1.4-.2 1.4 .1 1.4 .2 1.4 .1 1.4 .2 1.4-.2 1.4-.4 1.4-.1 1.4 0 1.4 .1 1.4 0 1.4 .2 1.4 .2 1.4-.1 1.4-.3 1.4-.1 1.4 .4 1.4 .1 1.4 0 1.4 0 1.4 .1 1.4 .1 1.4-.1 1.4-.3 1.4-.3 1.4 .1 1.4 .1 1.4-.1 1.4 0 1.4 .3 1.4-.1 1.4-.4 1.4-.1 1.4 .3 1.4 .1 1.4 0 1.4-.1 1.4 0 1.4 .2 1.4 .1 1.4-.3 1.4-.2 1.4-.1 1.4 .3 1.4 .1 1.4 0 1.4-.2 1.4-.5 1.4-.3 1.4 .2 1.4 .4 1.4 .2 1.4 0 1.4 .1 1.4 0 1.4-.2 1.4-.4 1.4 .3 1.4 .3 1.4-.4 1.4 .2 1.4 .5 1.4-.2 1.4-.3 1.4 .1 1.4 .3 1.4 0 1.4-.3 1.4 .1 1.4 .2 1.4 .1 1.4 0 1.4-.5 1.4-.3 1.4 .5 1.4 .4 1.4-.1 1.4 0 1.4 0 1.4-.3 1.4-.1 1.4-.1 1.4 0 1.4 .2 1.4 .1 1.4-.4 1.4-.3 1.4 0 1.4 .3 1.4 .1 1.4-.1 1.4-.2 1.4 .2 1.4 .2 1.4 0 1.4 0 1.4 0 1.4-.4 1.4-.1 1.4 .3 1.4 .2 1.4-.3 1.4-.6 1.4-.3 1.4 .1 1.4 .4 1.4 .5 1.4 .1 1.4-.2 1.4 0 1.4 0 1.4-.1 1.4 0 1.4-.3 1.4-.4 1.4 .4 1.4 .4 1.4-.2 1.4-.3 1.4-.1 1.4 .2 1.4 .2 1.4-.3 1.4-.6 1.4-.3 1.4 .2 1.4-.1 1.4 .2 1.4 .6 1.4 0 1.4-.4 1.4 .3 1.4 .1 1.4-.2 1.4-.1 1.4-.3 1.4-.3 1.4 0 1.4 .3 1.4 .2 1.4-.2 1.4-.3 1.4 .2 1.4 .3 1.4 .1 1.4 0 1.4-.3 1.4-.3 1.4 .2 1.4 .1 1.4 0 1.4 .3 1.4 .2 1.4-.3 1.4 0 1.4 .2 1.4-.4 1.4-.3 1.4 .1 1.4 .3 1.4 .1 1.4-.1 1.4 .1 1.4 .3 1.4-.3 1.4-.4 1.4 .1 1.4 .3 1.4 0 1.4-.2 1.4-.2 1.4-.2 1.4-.1 1.4 .2 1.4 .2 1.4 0 1.4-.1 1.4-.1 1.4-.1 1.4 .1 1.4 .3 1.4 0 1.4-.1 1.4-.1 1.4-.1 1.4-.2 1.4 .1 1.4 .3 1.4 .2 1.4 0 1.4 0 1.4 .1 1.4 0 1.4 0 1.4 0 1.4-.2 1.4-.1 1.4 0 1.4 0 1.4 .2 1.4 .3 1.4-.2 1.4-.4 1.4-.2 1.4 .1 1.4 .3 1.4 .1 1.4-.2 1.4 0 1.4 .1 1.4-.2 1.4 .2 1.4 .4 1.4 .1 1.4-.3 1.4-.3 1.4-.2 1.4 .1 1.4 .1 1.4-.1 1.4-.1 1.4 0 1.4 0 1.4 .2 1.4 .2 1.4-.4 1.4-.5 1.4-.2 1.4 0 1.4 .3 1.4 .3 1.4 0 1.4-.2 1.4 0 1.4-.3 1.4-.3 1.4-.1 1.4 .4 1.4 .3 1.4-.1 1.4 .2 1.4 .1 1.4-.3 1.4-.3 1.4-.1 1.4 .1 1.4 .2 1.4 0 1.4 .1 1.4 0 1.4-.2 1.4-.2 1.4-.1 1.4-.1 1.4-.2 1.4 .1 1.4 0 1.4 0 1.4 .2 1.4-.5 1.4-.2 1.4-.1 1.4-.3 1.4-.1 1.4-.1 1.4 .1 1.4 .2 1.4 .3 1.4 .1 1.4 0 1.4-.1 1.4-.3 1.4-.3 1.4 0 1.4-.3 1.4 0 1.4 .3 1.4-.1 1.4-.3 1.4 0 1.4-.4 1.4-.5 1.4-.3 1.4-.4 1.4-.8 1.4-1.1 1.4-1.2 1.4-1.8 1.4-2.3 1.4-2.7 1.4-2.6 1.4-1.5 1.4-.9 1.4-1.2 1.4-.9 1.4 .3 1.4 .5 1.4 .4 1.4 .3 1.4 .1 1.4 .4 1.4 .4 1.4 .5 1.4 .4 1.4 .1 1.4 0 1.4 0 1.4-.1 1.4 .1 1.4 .4 1.4 0 1.4-.3 1.4 .2 1.4 .6 1.4 .5 1.4 .2 1.4-.3 1.4-.3 1.4 .4 1.4 .5 1.4 .6 1.4 .6 1.4 .9 1.4 1.1 1.4 .6 1.4 0 1.4 .1 1.4 .5 1.4 .2 1.4 .3 1.4 .2 1.4-.4 1.4 0 1.4 .2 1.4 .2 1.4 .4 1.4 .2 1.4-.1 1.4-.1 1.4 .2 1.4-.2 1.4 .3 1.4 .3 1.4-.3 1.4 0 1.4 .1 1.4-.1 1.4 .1 1.4 .6 1.4 .1 1.4 0 1.4 .2 1.4 0 1.4 .2 1.4 .7 1.4 .6 1.4 0 1.4-.4 1.4-.3 1.4 .1 1.4 .2 1.4 .3 1.4 .1 1.4 0 1.4 0 1.4-.2 1.4 0 1.4 .2 1.4-.1 1.4 0 1.4 .2 1.4 .2 1.4 .3 1.4 .3 1.4-.1 1.4-.1 1.4 .1 1.4-.1 1.4-.2 1.4 .1 1.4-.1 1.4 0 1.4 .3 1.4 .2 1.4 .3 1.4-.2 1.4-.4 1.4 .4 1.4 .6 1.4 .1 1.4-.1 1.4-.4 1.4-.5 1.4 .1 1.4 .5 1.4 .1 1.4-.4 1.4 0 1.4-.2 1.4-.3 1.4 .2 1.4 .6 1.4 0 1.4-.4 1.4-.2 1.4-.4 1.4-.6 1.4 0 1.4 .4 1.4 .6 1.4 .7 1.4 .5 1.4 .1 1.4 .4 1.4 .5 1.4 .2 1.4-.3 1.4 0 1.4 .7 1.4 .3 1.4-.2 1.4 .1 1.4 .4 1.4 .1 1.4 .2 1.4 .1 1.4-.2 1.4-.3 1.4-.2 1.4-.2 1.4 .5 1.4 .6 1.4-.1 1.4-.2 1.4-.1 1.4-.1 1.4 .2 1.4 .5 1.4-.1 1.4-.1 1.4 .4 1.4 .2 1.4-.3 1.4-.2 1.4-.5 1.4 0 1.4 .5 1.4 .2 1.4-.1 1.4-.1 1.4 .1 1.4 .4 1.4 .2 1.4-.5 1.4-.2 1.4 .4 1.4 .2 1.4-.1 1.4 .2 1.4 .2 1.4-.2 1.4-.5 1.4-.3 1.4 0 1.4 .2 1.4 .2 1.4 0 1.4 .1 1.4 .2 1.4-.3 1.4-.1 1.4 0 1.4 0 1.4 .2 1.4 .1 1.4 .1 1.4 .1 1.4-.2 1.4-.4 1.4-.4 1.4-.3 1.4 .2 1.4 .1 1.4 0 1.4-.2 1.4-.5 1.4-.3 1.4 .3 1.4 .4 1.4-.2 1.4-.3 1.4 0 1.4 .2 1.4-.1 1.4-.3 1.4-.1 1.4 .3 1.4 .1 1.4 0 1.4 0 1.4-.4 1.4-.1 1.4 .1 1.4-.1 1.4-.2 1.4-.1 1.4 0 1.4 .2 1.4 0 1.4 0 1.4-.1 1.4-.5 1.4 .2 1.4 .3 1.4-.4 1.4-.2 1.4 .5 1.4 0 1.4-.3 1.4 .1 1.4-.2 1.4-.1 1.4 .3 1.4 .1 1.4-.1 1.4 .1 1.4 .2 1.4 .2 1.4 .3 1.4 .1 1.4-.2 1.4-.3 1.4 .1 1.4 .6 1.4 .5 1.4 0 1.4-.2 1.4 0 1.4 0 1.4 .1 1.4 .2 1.4 .1 1.4 0 1.4-.2 1.4-.1 1.4-.2 1.4 .2 1.4 .8 1.4 .4 1.4-.5 1.4-.7 1.4-.2 1.4 .1 1.4-.4 1.4 0 1.4 .1 .6-.1"/>
</g>
<text class="l" x="1004.2" y="105.7">(a)</text>
<text class="l" x="843.6" y="182.9">(6)</text>
<text class="l" x="834.6" y="286.9">(5)</text>
<text class="l" x="834.6" y="383.1">(4)</text>
<text class="l" x="823.3" y="485.4">(3)</text>
<text class="l" x="825.1" y="618.5">(2)</text>
<text class="l" x="825.1" y="726.3">(1)</text>
<text class="l" x="995.5" y="881.1">(b)</text>
<text class="l" x="824.0" y="957.7">(6)</text>
<text class="l" x="829.2" y="1041.5">(5)</text>
<text class="l" x="830.1" y="1139.7">(4)</text>
<text class="l" x="833.0" y="1239.7">(3)</text>
<text class="l" x="819.6" y="1376.1">(2)</text>
<text class="l" x="824.0" y="1479.8">(1)</text>
<text class="l" x="1013.3" y="1631.3">(c)</text>
<text class="l" x="832.9" y="1677.8">(6)</text>
<text class="l" x="827.0" y="1793.3">(5)</text>
<text class="l" x="829.2" y="1888.3">(4)</text>
<text class="l" x="823.3" y="2015.1">(3)</text>
<text class="l" x="825.1" y="2128.1">(2)</text>
<text class="l" x="827.0" y="2235.9">(1)</text>
<text class="t" x="365.1" y="2391.6">5</text>
<text class="t" x="719.3" y="2392.1">10</text>
<text class="t" x="1073.6" y="2391.6">15</text>
<text class="t" x="1428.9" y="2392.1">20</text>
<text class="t" x="1781.2" y="2392.1">25</text>
<text x="974.8" y="2486.0" font-size="100" letter-spacing="1.2">2 theta</text>
<text transform="translate(84.2 1180.6) rotate(-90)" font-size="100" letter-spacing="-0.33">Intensity / arb.un.</text>
</svg></body></html>
